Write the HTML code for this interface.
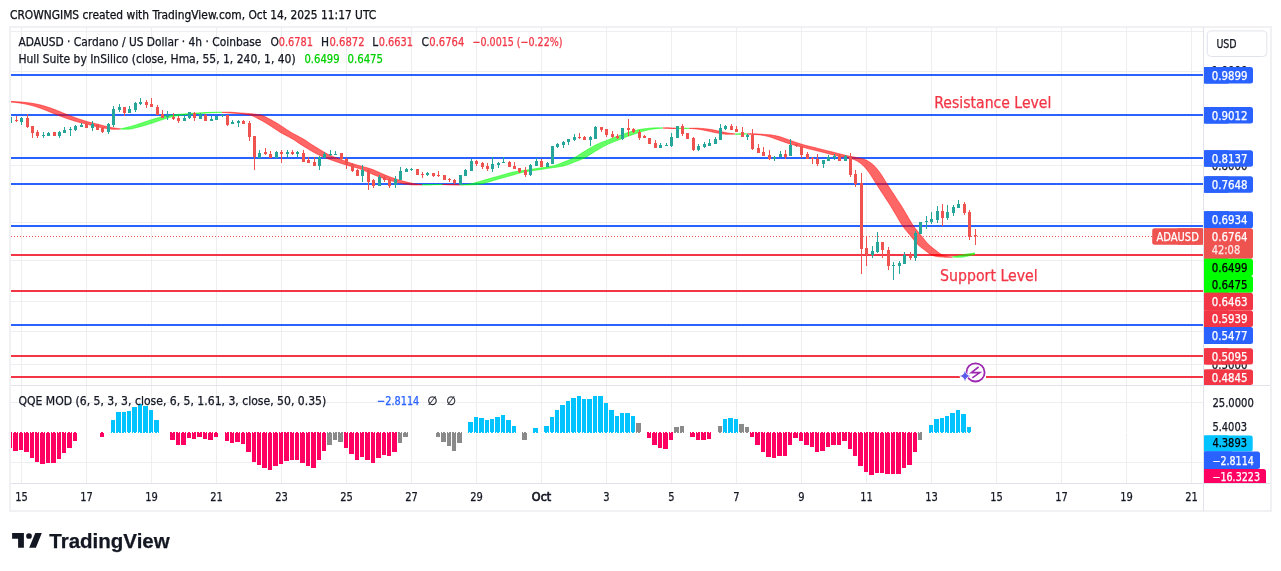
<!DOCTYPE html><html><head><meta charset="utf-8"><title>ADAUSD chart</title><style>
html,body{margin:0;padding:0;background:#fff;width:1281px;height:571px;overflow:hidden}
svg{display:block;will-change:transform}
text{font-family:"DejaVu Sans Condensed","DejaVu Sans","Liberation Sans",sans-serif;stroke:currentColor;stroke-width:0.25px}
</style></head><body>
<svg width="1281" height="571" viewBox="0 0 1281 571">
<rect width="1281" height="571" fill="#fff"/>
<text x="10" y="18.7" font-size="11.85" fill="#131722">CROWNGIMS created with TradingView.com, Oct 14, 2025 11:17 UTC</text>
<defs><clipPath id="main"><rect x="11" y="27" width="1192" height="358"/></clipPath><clipPath id="qqe"><rect x="11" y="386" width="1192" height="97"/></clipPath></defs>
<rect x="21" y="27" width="1" height="456" fill="#EEEEF1"/><rect x="86" y="27" width="1" height="456" fill="#EEEEF1"/><rect x="151" y="27" width="1" height="456" fill="#EEEEF1"/><rect x="216" y="27" width="1" height="456" fill="#EEEEF1"/><rect x="281" y="27" width="1" height="456" fill="#EEEEF1"/><rect x="346" y="27" width="1" height="456" fill="#EEEEF1"/><rect x="411" y="27" width="1" height="456" fill="#EEEEF1"/><rect x="476" y="27" width="1" height="456" fill="#EEEEF1"/><rect x="541" y="27" width="1" height="456" fill="#EEEEF1"/><rect x="606" y="27" width="1" height="456" fill="#EEEEF1"/><rect x="671" y="27" width="1" height="456" fill="#EEEEF1"/><rect x="736" y="27" width="1" height="456" fill="#EEEEF1"/><rect x="801" y="27" width="1" height="456" fill="#EEEEF1"/><rect x="866" y="27" width="1" height="456" fill="#EEEEF1"/><rect x="931" y="27" width="1" height="456" fill="#EEEEF1"/><rect x="996" y="27" width="1" height="456" fill="#EEEEF1"/><rect x="1061" y="27" width="1" height="456" fill="#EEEEF1"/><rect x="1126" y="27" width="1" height="456" fill="#EEEEF1"/><rect x="1191" y="27" width="1" height="456" fill="#EEEEF1"/><rect x="11" y="31" width="1192" height="1" fill="#EEEEF1"/><rect x="11" y="71" width="1192" height="1" fill="#EEEEF1"/><rect x="11" y="115" width="1192" height="1" fill="#EEEEF1"/><rect x="11" y="165" width="1192" height="1" fill="#EEEEF1"/><rect x="11" y="222" width="1192" height="1" fill="#EEEEF1"/><rect x="11" y="260" width="1192" height="1" fill="#EEEEF1"/><rect x="11" y="301" width="1192" height="1" fill="#EEEEF1"/><rect x="11" y="331" width="1192" height="1" fill="#EEEEF1"/><rect x="11" y="364" width="1192" height="1" fill="#EEEEF1"/><rect x="11" y="402" width="1192" height="1" fill="#EEEEF1"/><rect x="11" y="462" width="1192" height="1" fill="#EEEEF1"/>
<rect x="10" y="27" width="1261" height="484" fill="none" stroke="#F1F1F3" stroke-width="2"/>
<rect x="1203" y="27" width="1" height="484" fill="#E0E3EB"/>
<rect x="11" y="385" width="1259" height="1" fill="#E0E3EB"/>
<rect x="11" y="483" width="1259" height="1" fill="#E0E3EB"/>
<rect x="11" y="74" width="1192" height="2" fill="#2962FF"/><rect x="11" y="114" width="1192" height="2" fill="#2962FF"/><rect x="11" y="157" width="1192" height="2" fill="#2962FF"/><rect x="11" y="183" width="1192" height="2" fill="#2962FF"/><rect x="11" y="225" width="1192" height="2" fill="#2962FF"/><rect x="11" y="254" width="1192" height="2" fill="#F23645"/><rect x="11" y="290" width="1192" height="2" fill="#F23645"/><rect x="11" y="324" width="1192" height="2" fill="#2962FF"/><rect x="11" y="355" width="1192" height="2" fill="#F23645"/><rect x="11" y="376" width="949" height="2" fill="#F23645"/><rect x="986" y="376" width="217" height="2" fill="#F23645"/>
<g clip-path="url(#main)"><polygon points="10.0,102.00 10.5,102.04 11.0,102.08 11.5,102.13 12.0,102.17 12.5,102.21 13.0,102.26 13.5,102.31 14.0,102.35 14.5,102.41 15.0,102.46 15.5,102.51 16.0,102.57 16.5,102.63 17.0,102.69 17.5,102.75 18.0,102.82 18.5,102.89 19.0,102.96 19.5,103.03 20.0,103.10 20.5,103.18 21.0,103.25 21.5,103.33 22.0,103.41 22.5,103.49 23.0,103.58 23.5,103.67 24.0,103.76 24.5,103.85 25.0,103.95 25.5,104.04 26.0,104.14 26.5,104.25 27.0,104.36 27.5,104.47 28.0,104.58 28.5,104.70 29.0,104.82 29.5,104.94 30.0,105.06 30.5,105.19 31.0,105.32 31.5,105.45 32.0,105.59 32.5,105.73 33.0,105.87 33.5,106.01 34.0,106.16 34.5,106.31 35.0,106.46 35.5,106.61 36.0,106.76 36.5,106.92 37.0,107.08 37.5,107.25 38.0,107.41 38.5,107.58 39.0,107.76 39.5,107.93 40.0,108.11 40.5,108.29 41.0,108.47 41.5,108.65 42.0,108.84 42.5,109.02 43.0,109.21 43.5,109.40 44.0,109.59 44.5,109.78 45.0,109.97 45.5,110.17 46.0,110.36 46.5,110.57 47.0,110.77 47.5,110.97 48.0,111.18 48.5,111.39 49.0,111.59 49.5,111.80 50.0,112.01 50.5,112.22 51.0,112.42 51.5,112.63 52.0,112.84 52.5,113.04 53.0,113.24 53.5,113.44 54.0,113.64 54.5,113.84 55.0,114.05 55.5,114.25 56.0,114.45 56.5,114.65 57.0,114.85 57.5,115.05 58.0,115.25 58.5,115.45 59.0,115.64 59.5,115.84 60.0,116.03 60.5,116.22 61.0,116.41 61.5,116.60 62.0,116.79 62.5,116.97 63.0,117.15 63.5,117.33 64.0,117.51 64.5,117.69 65.0,117.87 65.5,118.05 66.0,118.22 66.5,118.39 67.0,118.56 67.5,118.74 68.0,118.90 68.5,119.07 69.0,119.24 69.5,119.40 70.0,119.57 70.5,119.73 71.0,119.89 71.5,120.05 72.0,120.21 72.5,120.37 73.0,120.53 73.5,120.68 74.0,120.83 74.5,120.99 75.0,121.14 75.5,121.29 76.0,121.43 76.5,121.58 77.0,121.72 77.5,121.87 78.0,122.01 78.5,122.14 79.0,122.28 79.5,122.41 80.0,122.54 80.5,122.67 81.0,122.79 81.5,122.92 82.0,123.04 82.5,123.16 83.0,123.27 83.5,123.39 84.0,123.51 84.5,123.63 85.0,123.74 85.5,123.86 86.0,123.98 86.5,124.10 87.0,124.23 87.5,124.35 88.0,124.48 88.5,124.61 89.0,124.74 89.5,124.87 90.0,125.00 90.5,125.13 91.0,125.27 91.5,125.40 92.0,125.53 92.5,125.66 93.0,125.79 93.5,125.92 94.0,126.05 94.5,126.17 95.0,126.29 95.5,126.41 96.0,126.52 96.5,126.63 97.0,126.74 97.5,126.85 98.0,126.96 98.5,127.06 99.0,127.16 99.5,127.26 100.0,127.36 100.5,127.46 101.0,127.55 101.5,127.65 102.0,127.74 102.5,127.84 103.0,127.93 103.5,128.02 104.0,128.11 104.5,128.20 105.0,128.29 105.5,128.37 106.0,128.45 106.5,128.53 107.0,128.61 107.5,128.68 108.0,128.75 108.5,128.82 109.0,128.88 109.5,128.94 110.0,129.00 110.5,129.06 111.0,129.11 111.5,129.16 112.0,129.20 112.5,129.23 113.0,129.26 113.5,129.28 114.0,129.30 114.5,129.31 115.0,129.31 115.5,129.31 116.0,129.31 116.5,129.29 117.0,129.27 117.5,129.24 118.0,129.20 118.5,129.16 119.0,129.12 119.5,129.07 120.0,128.99 120.5,128.90 120.5,128.96 120.0,128.90 119.5,128.84 119.0,128.77 118.5,128.71 118.0,128.63 117.5,128.56 117.0,128.48 116.5,128.40 116.0,128.32 115.5,128.23 115.0,128.14 114.5,128.05 114.0,127.96 113.5,127.87 113.0,127.78 112.5,127.68 112.0,127.59 111.5,127.49 111.0,127.39 110.5,127.30 110.0,127.20 109.5,127.09 109.0,126.99 108.5,126.89 108.0,126.78 107.5,126.67 107.0,126.56 106.5,126.45 106.0,126.33 105.5,126.21 105.0,126.09 104.5,125.96 104.0,125.83 103.5,125.71 103.0,125.58 102.5,125.44 102.0,125.31 101.5,125.18 101.0,125.05 100.5,124.91 100.0,124.78 99.5,124.65 99.0,124.52 98.5,124.39 98.0,124.27 97.5,124.14 97.0,124.02 96.5,123.90 96.0,123.78 95.5,123.67 95.0,123.55 94.5,123.43 94.0,123.31 93.5,123.20 93.0,123.08 92.5,122.96 92.0,122.84 91.5,122.71 91.0,122.59 90.5,122.46 90.0,122.33 89.5,122.19 89.0,122.05 88.5,121.91 88.0,121.77 87.5,121.63 87.0,121.48 86.5,121.34 86.0,121.19 85.5,121.04 85.0,120.89 84.5,120.73 84.0,120.58 83.5,120.42 83.0,120.26 82.5,120.11 82.0,119.95 81.5,119.78 81.0,119.62 80.5,119.46 80.0,119.29 79.5,119.13 79.0,118.96 78.5,118.79 78.0,118.62 77.5,118.45 77.0,118.28 76.5,118.10 76.0,117.93 75.5,117.75 75.0,117.57 74.5,117.39 74.0,117.21 73.5,117.03 73.0,116.85 72.5,116.66 72.0,116.48 71.5,116.29 71.0,116.10 70.5,115.90 70.0,115.71 69.5,115.51 69.0,115.32 68.5,115.12 68.0,114.92 67.5,114.72 67.0,114.52 66.5,114.32 66.0,114.11 65.5,113.91 65.0,113.71 64.5,113.51 64.0,113.31 63.5,113.11 63.0,112.90 62.5,112.70 62.0,112.49 61.5,112.29 61.0,112.08 60.5,111.87 60.0,111.66 59.5,111.46 59.0,111.25 58.5,111.04 58.0,110.84 57.5,110.63 57.0,110.43 56.5,110.23 56.0,110.04 55.5,109.84 55.0,109.65 54.5,109.46 54.0,109.27 53.5,109.08 53.0,108.90 52.5,108.71 52.0,108.53 51.5,108.35 51.0,108.17 50.5,107.99 50.0,107.81 49.5,107.64 49.0,107.47 48.5,107.30 48.0,107.14 47.5,106.97 47.0,106.82 46.5,106.66 46.0,106.51 45.5,106.36 45.0,106.21 44.5,106.06 44.0,105.92 43.5,105.78 43.0,105.64 42.5,105.50 42.0,105.37 41.5,105.24 41.0,105.11 40.5,104.98 40.0,104.86 39.5,104.74 39.0,104.62 38.5,104.51 38.0,104.39 37.5,104.28 37.0,104.18 36.5,104.08 36.0,103.98 35.5,103.88 35.0,103.79 34.5,103.70 34.0,103.61 33.5,103.52 33.0,103.44 32.5,103.36 32.0,103.28 31.5,103.20 31.0,103.13 30.5,103.05 30.0,102.98 29.5,102.91 29.0,102.84 28.5,102.77 28.0,102.71 27.5,102.65 27.0,102.59 26.5,102.53 26.0,102.48 25.5,102.42 25.0,102.37 24.5,102.32 24.0,102.27 23.5,102.23 23.0,102.18 22.5,102.14 22.0,102.10 21.5,102.06 21.0,102.01 20.5,101.97 20.0,101.94 19.5,101.90 19.0,101.86 18.5,101.83 18.0,101.80 17.5,101.76 17.0,101.73 16.5,101.70 16.0,101.67 15.5,101.64 15.0,101.61 14.5,101.58 14.0,101.55 13.5,101.52 13.0,101.49 12.5,101.46 12.0,101.43 11.5,101.40 11.0,101.37 10.5,101.34 10.0,101.31" fill="rgba(255,0,0,0.6)"/><polyline points="10.0,102.00 10.5,102.04 11.0,102.08 11.5,102.13 12.0,102.17 12.5,102.21 13.0,102.26 13.5,102.31 14.0,102.35 14.5,102.41 15.0,102.46 15.5,102.51 16.0,102.57 16.5,102.63 17.0,102.69 17.5,102.75 18.0,102.82 18.5,102.89 19.0,102.96 19.5,103.03 20.0,103.10 20.5,103.18 21.0,103.25 21.5,103.33 22.0,103.41 22.5,103.49 23.0,103.58 23.5,103.67 24.0,103.76 24.5,103.85 25.0,103.95 25.5,104.04 26.0,104.14 26.5,104.25 27.0,104.36 27.5,104.47 28.0,104.58 28.5,104.70 29.0,104.82 29.5,104.94 30.0,105.06 30.5,105.19 31.0,105.32 31.5,105.45 32.0,105.59 32.5,105.73 33.0,105.87 33.5,106.01 34.0,106.16 34.5,106.31 35.0,106.46 35.5,106.61 36.0,106.76 36.5,106.92 37.0,107.08 37.5,107.25 38.0,107.41 38.5,107.58 39.0,107.76 39.5,107.93 40.0,108.11 40.5,108.29 41.0,108.47 41.5,108.65 42.0,108.84 42.5,109.02 43.0,109.21 43.5,109.40 44.0,109.59 44.5,109.78 45.0,109.97 45.5,110.17 46.0,110.36 46.5,110.57 47.0,110.77 47.5,110.97 48.0,111.18 48.5,111.39 49.0,111.59 49.5,111.80 50.0,112.01 50.5,112.22 51.0,112.42 51.5,112.63 52.0,112.84 52.5,113.04 53.0,113.24 53.5,113.44 54.0,113.64 54.5,113.84 55.0,114.05 55.5,114.25 56.0,114.45 56.5,114.65 57.0,114.85 57.5,115.05 58.0,115.25 58.5,115.45 59.0,115.64 59.5,115.84 60.0,116.03 60.5,116.22 61.0,116.41 61.5,116.60 62.0,116.79 62.5,116.97 63.0,117.15 63.5,117.33 64.0,117.51 64.5,117.69 65.0,117.87 65.5,118.05 66.0,118.22 66.5,118.39 67.0,118.56 67.5,118.74 68.0,118.90 68.5,119.07 69.0,119.24 69.5,119.40 70.0,119.57 70.5,119.73 71.0,119.89 71.5,120.05 72.0,120.21 72.5,120.37 73.0,120.53 73.5,120.68 74.0,120.83 74.5,120.99 75.0,121.14 75.5,121.29 76.0,121.43 76.5,121.58 77.0,121.72 77.5,121.87 78.0,122.01 78.5,122.14 79.0,122.28 79.5,122.41 80.0,122.54 80.5,122.67 81.0,122.79 81.5,122.92 82.0,123.04 82.5,123.16 83.0,123.27 83.5,123.39 84.0,123.51 84.5,123.63 85.0,123.74 85.5,123.86 86.0,123.98 86.5,124.10 87.0,124.23 87.5,124.35 88.0,124.48 88.5,124.61 89.0,124.74 89.5,124.87 90.0,125.00 90.5,125.13 91.0,125.27 91.5,125.40 92.0,125.53 92.5,125.66 93.0,125.79 93.5,125.92 94.0,126.05 94.5,126.17 95.0,126.29 95.5,126.41 96.0,126.52 96.5,126.63 97.0,126.74 97.5,126.85 98.0,126.96 98.5,127.06 99.0,127.16 99.5,127.26 100.0,127.36 100.5,127.46 101.0,127.55 101.5,127.65 102.0,127.74 102.5,127.84 103.0,127.93 103.5,128.02 104.0,128.11 104.5,128.20 105.0,128.29 105.5,128.37 106.0,128.45 106.5,128.53 107.0,128.61 107.5,128.68 108.0,128.75 108.5,128.82 109.0,128.88 109.5,128.94 110.0,129.00 110.5,129.06 111.0,129.11 111.5,129.16 112.0,129.20 112.5,129.23 113.0,129.26 113.5,129.28 114.0,129.30 114.5,129.31 115.0,129.31 115.5,129.31 116.0,129.31 116.5,129.29 117.0,129.27 117.5,129.24 118.0,129.20 118.5,129.16 119.0,129.12 119.5,129.07 120.0,128.99 120.5,128.90" fill="none" stroke="rgba(255,0,0,0.5)" stroke-width="1"/><polyline points="10.0,101.31 10.5,101.34 11.0,101.37 11.5,101.40 12.0,101.43 12.5,101.46 13.0,101.49 13.5,101.52 14.0,101.55 14.5,101.58 15.0,101.61 15.5,101.64 16.0,101.67 16.5,101.70 17.0,101.73 17.5,101.76 18.0,101.80 18.5,101.83 19.0,101.86 19.5,101.90 20.0,101.94 20.5,101.97 21.0,102.01 21.5,102.06 22.0,102.10 22.5,102.14 23.0,102.18 23.5,102.23 24.0,102.27 24.5,102.32 25.0,102.37 25.5,102.42 26.0,102.48 26.5,102.53 27.0,102.59 27.5,102.65 28.0,102.71 28.5,102.77 29.0,102.84 29.5,102.91 30.0,102.98 30.5,103.05 31.0,103.13 31.5,103.20 32.0,103.28 32.5,103.36 33.0,103.44 33.5,103.52 34.0,103.61 34.5,103.70 35.0,103.79 35.5,103.88 36.0,103.98 36.5,104.08 37.0,104.18 37.5,104.28 38.0,104.39 38.5,104.51 39.0,104.62 39.5,104.74 40.0,104.86 40.5,104.98 41.0,105.11 41.5,105.24 42.0,105.37 42.5,105.50 43.0,105.64 43.5,105.78 44.0,105.92 44.5,106.06 45.0,106.21 45.5,106.36 46.0,106.51 46.5,106.66 47.0,106.82 47.5,106.97 48.0,107.14 48.5,107.30 49.0,107.47 49.5,107.64 50.0,107.81 50.5,107.99 51.0,108.17 51.5,108.35 52.0,108.53 52.5,108.71 53.0,108.90 53.5,109.08 54.0,109.27 54.5,109.46 55.0,109.65 55.5,109.84 56.0,110.04 56.5,110.23 57.0,110.43 57.5,110.63 58.0,110.84 58.5,111.04 59.0,111.25 59.5,111.46 60.0,111.66 60.5,111.87 61.0,112.08 61.5,112.29 62.0,112.49 62.5,112.70 63.0,112.90 63.5,113.11 64.0,113.31 64.5,113.51 65.0,113.71 65.5,113.91 66.0,114.11 66.5,114.32 67.0,114.52 67.5,114.72 68.0,114.92 68.5,115.12 69.0,115.32 69.5,115.51 70.0,115.71 70.5,115.90 71.0,116.10 71.5,116.29 72.0,116.48 72.5,116.66 73.0,116.85 73.5,117.03 74.0,117.21 74.5,117.39 75.0,117.57 75.5,117.75 76.0,117.93 76.5,118.10 77.0,118.28 77.5,118.45 78.0,118.62 78.5,118.79 79.0,118.96 79.5,119.13 80.0,119.29 80.5,119.46 81.0,119.62 81.5,119.78 82.0,119.95 82.5,120.11 83.0,120.26 83.5,120.42 84.0,120.58 84.5,120.73 85.0,120.89 85.5,121.04 86.0,121.19 86.5,121.34 87.0,121.48 87.5,121.63 88.0,121.77 88.5,121.91 89.0,122.05 89.5,122.19 90.0,122.33 90.5,122.46 91.0,122.59 91.5,122.71 92.0,122.84 92.5,122.96 93.0,123.08 93.5,123.20 94.0,123.31 94.5,123.43 95.0,123.55 95.5,123.67 96.0,123.78 96.5,123.90 97.0,124.02 97.5,124.14 98.0,124.27 98.5,124.39 99.0,124.52 99.5,124.65 100.0,124.78 100.5,124.91 101.0,125.05 101.5,125.18 102.0,125.31 102.5,125.44 103.0,125.58 103.5,125.71 104.0,125.83 104.5,125.96 105.0,126.09 105.5,126.21 106.0,126.33 106.5,126.45 107.0,126.56 107.5,126.67 108.0,126.78 108.5,126.89 109.0,126.99 109.5,127.09 110.0,127.20 110.5,127.30 111.0,127.39 111.5,127.49 112.0,127.59 112.5,127.68 113.0,127.78 113.5,127.87 114.0,127.96 114.5,128.05 115.0,128.14 115.5,128.23 116.0,128.32 116.5,128.40 117.0,128.48 117.5,128.56 118.0,128.63 118.5,128.71 119.0,128.77 119.5,128.84 120.0,128.90 120.5,128.96" fill="none" stroke="rgba(255,0,0,0.5)" stroke-width="1"/><polygon points="120.5,128.90 121.0,128.80 121.5,128.69 122.0,128.58 122.5,128.46 123.0,128.34 123.5,128.22 124.0,128.10 124.5,127.98 125.0,127.86 125.5,127.74 126.0,127.61 126.5,127.49 127.0,127.36 127.5,127.23 128.0,127.10 128.5,126.97 129.0,126.84 129.5,126.71 130.0,126.58 130.5,126.44 131.0,126.31 131.5,126.17 132.0,126.03 132.5,125.89 133.0,125.74 133.5,125.59 134.0,125.45 134.5,125.29 135.0,125.14 135.5,124.98 136.0,124.83 136.5,124.67 137.0,124.51 137.5,124.34 138.0,124.18 138.5,124.02 139.0,123.85 139.5,123.69 140.0,123.52 140.5,123.36 141.0,123.19 141.5,123.02 142.0,122.86 142.5,122.69 143.0,122.53 143.5,122.37 144.0,122.20 144.5,122.04 145.0,121.87 145.5,121.70 146.0,121.53 146.5,121.36 147.0,121.19 147.5,121.02 148.0,120.85 148.5,120.68 149.0,120.51 149.5,120.34 150.0,120.17 150.5,120.00 151.0,119.83 151.5,119.67 152.0,119.50 152.5,119.34 153.0,119.19 153.5,119.03 154.0,118.88 154.5,118.73 155.0,118.58 155.5,118.44 156.0,118.29 156.5,118.15 157.0,118.01 157.5,117.87 158.0,117.73 158.5,117.59 159.0,117.45 159.5,117.32 160.0,117.18 160.5,117.05 161.0,116.92 161.5,116.80 162.0,116.68 162.5,116.56 163.0,116.44 163.5,116.33 164.0,116.22 164.5,116.12 165.0,116.02 165.5,115.92 166.0,115.83 166.5,115.74 167.0,115.66 167.5,115.58 168.0,115.51 168.5,115.44 169.0,115.37 169.5,115.31 170.0,115.25 170.5,115.19 171.0,115.14 171.5,115.08 172.0,115.03 172.5,114.98 173.0,114.94 173.5,114.89 174.0,114.84 174.5,114.79 175.0,114.75 175.5,114.70 176.0,114.65 176.5,114.60 177.0,114.55 177.5,114.50 178.0,114.45 178.5,114.41 179.0,114.36 179.5,114.32 180.0,114.28 180.5,114.24 181.0,114.19 181.5,114.15 182.0,114.11 182.5,114.08 183.0,114.04 183.5,114.00 184.0,113.96 184.5,113.92 185.0,113.88 185.5,113.85 186.0,113.81 186.5,113.77 187.0,113.73 187.5,113.69 188.0,113.65 188.5,113.61 189.0,113.58 189.5,113.54 190.0,113.50 190.5,113.46 191.0,113.42 191.5,113.38 192.0,113.34 192.5,113.31 193.0,113.27 193.5,113.23 194.0,113.19 194.5,113.16 195.0,113.12 195.5,113.09 196.0,113.05 196.5,113.02 197.0,112.99 197.5,112.96 198.0,112.92 198.5,112.89 199.0,112.87 199.5,112.84 200.0,112.81 200.5,112.78 201.0,112.76 201.5,112.73 202.0,112.71 202.5,112.69 203.0,112.66 203.5,112.64 204.0,112.62 204.5,112.60 205.0,112.57 205.5,112.55 206.0,112.53 206.5,112.51 207.0,112.49 207.5,112.47 208.0,112.45 208.5,112.43 209.0,112.41 209.5,112.39 210.0,112.37 210.5,112.35 211.0,112.33 211.5,112.31 212.0,112.30 212.5,112.28 213.0,112.26 213.5,112.25 214.0,112.23 214.5,112.22 215.0,112.21 215.5,112.21 216.0,112.20 216.5,112.20 217.0,112.19 217.5,112.19 218.0,112.19 218.5,112.20 219.0,112.21 219.5,112.23 220.0,112.25 220.5,112.27 221.0,112.30 221.5,112.33 222.0,112.36 222.0,112.33 221.5,112.35 221.0,112.37 220.5,112.39 220.0,112.41 219.5,112.43 219.0,112.44 218.5,112.46 218.0,112.48 217.5,112.51 217.0,112.53 216.5,112.55 216.0,112.57 215.5,112.59 215.0,112.61 214.5,112.63 214.0,112.65 213.5,112.68 213.0,112.70 212.5,112.73 212.0,112.75 211.5,112.78 211.0,112.80 210.5,112.83 210.0,112.86 209.5,112.88 209.0,112.91 208.5,112.94 208.0,112.98 207.5,113.01 207.0,113.04 206.5,113.08 206.0,113.11 205.5,113.15 205.0,113.18 204.5,113.22 204.0,113.25 203.5,113.29 203.0,113.33 202.5,113.37 202.0,113.41 201.5,113.45 201.0,113.48 200.5,113.52 200.0,113.56 199.5,113.60 199.0,113.64 198.5,113.68 198.0,113.72 197.5,113.76 197.0,113.79 196.5,113.83 196.0,113.87 195.5,113.91 195.0,113.95 194.5,113.98 194.0,114.02 193.5,114.06 193.0,114.10 192.5,114.14 192.0,114.18 191.5,114.22 191.0,114.26 190.5,114.31 190.0,114.35 189.5,114.39 189.0,114.44 188.5,114.49 188.0,114.53 187.5,114.58 187.0,114.63 186.5,114.68 186.0,114.73 185.5,114.78 185.0,114.82 184.5,114.87 184.0,114.92 183.5,114.97 183.0,115.02 182.5,115.07 182.0,115.12 181.5,115.17 181.0,115.23 180.5,115.29 180.0,115.35 179.5,115.41 179.0,115.48 178.5,115.55 178.0,115.63 177.5,115.71 177.0,115.80 176.5,115.89 176.0,115.98 175.5,116.08 175.0,116.19 174.5,116.29 174.0,116.40 173.5,116.52 173.0,116.64 172.5,116.76 172.0,116.88 171.5,117.01 171.0,117.14 170.5,117.27 170.0,117.40 169.5,117.54 169.0,117.68 168.5,117.82 168.0,117.96 167.5,118.10 167.0,118.24 166.5,118.39 166.0,118.53 165.5,118.68 165.0,118.83 164.5,118.98 164.0,119.13 163.5,119.29 163.0,119.45 162.5,119.61 162.0,119.77 161.5,119.94 161.0,120.11 160.5,120.28 160.0,120.45 159.5,120.62 159.0,120.79 158.5,120.96 158.0,121.13 157.5,121.30 157.0,121.47 156.5,121.64 156.0,121.81 155.5,121.98 155.0,122.15 154.5,122.31 154.0,122.47 153.5,122.64 153.0,122.80 152.5,122.97 152.0,123.13 151.5,123.30 151.0,123.47 150.5,123.63 150.0,123.80 149.5,123.96 149.0,124.13 148.5,124.29 148.0,124.45 147.5,124.61 147.0,124.77 146.5,124.93 146.0,125.09 145.5,125.24 145.0,125.39 144.5,125.54 144.0,125.69 143.5,125.84 143.0,125.98 142.5,126.12 142.0,126.26 141.5,126.40 141.0,126.53 140.5,126.66 140.0,126.80 139.5,126.93 139.0,127.06 138.5,127.19 138.0,127.32 137.5,127.44 137.0,127.57 136.5,127.69 136.0,127.82 135.5,127.94 135.0,128.06 134.5,128.18 134.0,128.30 133.5,128.42 133.0,128.54 132.5,128.65 132.0,128.76 131.5,128.87 131.0,128.96 130.5,129.05 130.0,129.11 129.5,129.15 129.0,129.19 128.5,129.23 128.0,129.26 127.5,129.28 127.0,129.30 126.5,129.31 126.0,129.31 125.5,129.31 125.0,129.30 124.5,129.29 124.0,129.27 123.5,129.24 123.0,129.21 122.5,129.17 122.0,129.13 121.5,129.07 121.0,129.02 120.5,128.96" fill="rgba(0,255,0,0.6)"/><polyline points="120.5,128.90 121.0,128.80 121.5,128.69 122.0,128.58 122.5,128.46 123.0,128.34 123.5,128.22 124.0,128.10 124.5,127.98 125.0,127.86 125.5,127.74 126.0,127.61 126.5,127.49 127.0,127.36 127.5,127.23 128.0,127.10 128.5,126.97 129.0,126.84 129.5,126.71 130.0,126.58 130.5,126.44 131.0,126.31 131.5,126.17 132.0,126.03 132.5,125.89 133.0,125.74 133.5,125.59 134.0,125.45 134.5,125.29 135.0,125.14 135.5,124.98 136.0,124.83 136.5,124.67 137.0,124.51 137.5,124.34 138.0,124.18 138.5,124.02 139.0,123.85 139.5,123.69 140.0,123.52 140.5,123.36 141.0,123.19 141.5,123.02 142.0,122.86 142.5,122.69 143.0,122.53 143.5,122.37 144.0,122.20 144.5,122.04 145.0,121.87 145.5,121.70 146.0,121.53 146.5,121.36 147.0,121.19 147.5,121.02 148.0,120.85 148.5,120.68 149.0,120.51 149.5,120.34 150.0,120.17 150.5,120.00 151.0,119.83 151.5,119.67 152.0,119.50 152.5,119.34 153.0,119.19 153.5,119.03 154.0,118.88 154.5,118.73 155.0,118.58 155.5,118.44 156.0,118.29 156.5,118.15 157.0,118.01 157.5,117.87 158.0,117.73 158.5,117.59 159.0,117.45 159.5,117.32 160.0,117.18 160.5,117.05 161.0,116.92 161.5,116.80 162.0,116.68 162.5,116.56 163.0,116.44 163.5,116.33 164.0,116.22 164.5,116.12 165.0,116.02 165.5,115.92 166.0,115.83 166.5,115.74 167.0,115.66 167.5,115.58 168.0,115.51 168.5,115.44 169.0,115.37 169.5,115.31 170.0,115.25 170.5,115.19 171.0,115.14 171.5,115.08 172.0,115.03 172.5,114.98 173.0,114.94 173.5,114.89 174.0,114.84 174.5,114.79 175.0,114.75 175.5,114.70 176.0,114.65 176.5,114.60 177.0,114.55 177.5,114.50 178.0,114.45 178.5,114.41 179.0,114.36 179.5,114.32 180.0,114.28 180.5,114.24 181.0,114.19 181.5,114.15 182.0,114.11 182.5,114.08 183.0,114.04 183.5,114.00 184.0,113.96 184.5,113.92 185.0,113.88 185.5,113.85 186.0,113.81 186.5,113.77 187.0,113.73 187.5,113.69 188.0,113.65 188.5,113.61 189.0,113.58 189.5,113.54 190.0,113.50 190.5,113.46 191.0,113.42 191.5,113.38 192.0,113.34 192.5,113.31 193.0,113.27 193.5,113.23 194.0,113.19 194.5,113.16 195.0,113.12 195.5,113.09 196.0,113.05 196.5,113.02 197.0,112.99 197.5,112.96 198.0,112.92 198.5,112.89 199.0,112.87 199.5,112.84 200.0,112.81 200.5,112.78 201.0,112.76 201.5,112.73 202.0,112.71 202.5,112.69 203.0,112.66 203.5,112.64 204.0,112.62 204.5,112.60 205.0,112.57 205.5,112.55 206.0,112.53 206.5,112.51 207.0,112.49 207.5,112.47 208.0,112.45 208.5,112.43 209.0,112.41 209.5,112.39 210.0,112.37 210.5,112.35 211.0,112.33 211.5,112.31 212.0,112.30 212.5,112.28 213.0,112.26 213.5,112.25 214.0,112.23 214.5,112.22 215.0,112.21 215.5,112.21 216.0,112.20 216.5,112.20 217.0,112.19 217.5,112.19 218.0,112.19 218.5,112.20 219.0,112.21 219.5,112.23 220.0,112.25 220.5,112.27 221.0,112.30 221.5,112.33 222.0,112.36" fill="none" stroke="rgba(0,255,0,0.5)" stroke-width="1"/><polyline points="120.5,128.96 121.0,129.02 121.5,129.07 122.0,129.13 122.5,129.17 123.0,129.21 123.5,129.24 124.0,129.27 124.5,129.29 125.0,129.30 125.5,129.31 126.0,129.31 126.5,129.31 127.0,129.30 127.5,129.28 128.0,129.26 128.5,129.23 129.0,129.19 129.5,129.15 130.0,129.11 130.5,129.05 131.0,128.96 131.5,128.87 132.0,128.76 132.5,128.65 133.0,128.54 133.5,128.42 134.0,128.30 134.5,128.18 135.0,128.06 135.5,127.94 136.0,127.82 136.5,127.69 137.0,127.57 137.5,127.44 138.0,127.32 138.5,127.19 139.0,127.06 139.5,126.93 140.0,126.80 140.5,126.66 141.0,126.53 141.5,126.40 142.0,126.26 142.5,126.12 143.0,125.98 143.5,125.84 144.0,125.69 144.5,125.54 145.0,125.39 145.5,125.24 146.0,125.09 146.5,124.93 147.0,124.77 147.5,124.61 148.0,124.45 148.5,124.29 149.0,124.13 149.5,123.96 150.0,123.80 150.5,123.63 151.0,123.47 151.5,123.30 152.0,123.13 152.5,122.97 153.0,122.80 153.5,122.64 154.0,122.47 154.5,122.31 155.0,122.15 155.5,121.98 156.0,121.81 156.5,121.64 157.0,121.47 157.5,121.30 158.0,121.13 158.5,120.96 159.0,120.79 159.5,120.62 160.0,120.45 160.5,120.28 161.0,120.11 161.5,119.94 162.0,119.77 162.5,119.61 163.0,119.45 163.5,119.29 164.0,119.13 164.5,118.98 165.0,118.83 165.5,118.68 166.0,118.53 166.5,118.39 167.0,118.24 167.5,118.10 168.0,117.96 168.5,117.82 169.0,117.68 169.5,117.54 170.0,117.40 170.5,117.27 171.0,117.14 171.5,117.01 172.0,116.88 172.5,116.76 173.0,116.64 173.5,116.52 174.0,116.40 174.5,116.29 175.0,116.19 175.5,116.08 176.0,115.98 176.5,115.89 177.0,115.80 177.5,115.71 178.0,115.63 178.5,115.55 179.0,115.48 179.5,115.41 180.0,115.35 180.5,115.29 181.0,115.23 181.5,115.17 182.0,115.12 182.5,115.07 183.0,115.02 183.5,114.97 184.0,114.92 184.5,114.87 185.0,114.82 185.5,114.78 186.0,114.73 186.5,114.68 187.0,114.63 187.5,114.58 188.0,114.53 188.5,114.49 189.0,114.44 189.5,114.39 190.0,114.35 190.5,114.31 191.0,114.26 191.5,114.22 192.0,114.18 192.5,114.14 193.0,114.10 193.5,114.06 194.0,114.02 194.5,113.98 195.0,113.95 195.5,113.91 196.0,113.87 196.5,113.83 197.0,113.79 197.5,113.76 198.0,113.72 198.5,113.68 199.0,113.64 199.5,113.60 200.0,113.56 200.5,113.52 201.0,113.48 201.5,113.45 202.0,113.41 202.5,113.37 203.0,113.33 203.5,113.29 204.0,113.25 204.5,113.22 205.0,113.18 205.5,113.15 206.0,113.11 206.5,113.08 207.0,113.04 207.5,113.01 208.0,112.98 208.5,112.94 209.0,112.91 209.5,112.88 210.0,112.86 210.5,112.83 211.0,112.80 211.5,112.78 212.0,112.75 212.5,112.73 213.0,112.70 213.5,112.68 214.0,112.65 214.5,112.63 215.0,112.61 215.5,112.59 216.0,112.57 216.5,112.55 217.0,112.53 217.5,112.51 218.0,112.48 218.5,112.46 219.0,112.44 219.5,112.43 220.0,112.41 220.5,112.39 221.0,112.37 221.5,112.35 222.0,112.33" fill="none" stroke="rgba(0,255,0,0.5)" stroke-width="1"/><polygon points="222.0,112.36 222.5,112.40 223.0,112.44 223.5,112.48 224.0,112.52 224.5,112.56 225.0,112.60 225.5,112.64 226.0,112.68 226.5,112.72 227.0,112.76 227.5,112.80 228.0,112.84 228.5,112.88 229.0,112.92 229.5,112.96 230.0,113.00 230.5,113.04 231.0,113.07 231.5,113.11 232.0,113.14 232.5,113.17 233.0,113.21 233.5,113.24 234.0,113.27 234.5,113.31 235.0,113.34 235.5,113.37 236.0,113.41 236.5,113.44 237.0,113.47 237.5,113.51 238.0,113.54 238.5,113.58 239.0,113.62 239.5,113.66 240.0,113.70 240.5,113.74 241.0,113.79 241.5,113.83 242.0,113.88 242.5,113.94 243.0,114.00 243.5,114.06 244.0,114.14 244.5,114.22 245.0,114.30 245.5,114.38 246.0,114.46 246.5,114.53 247.0,114.60 247.5,114.68 248.0,114.76 248.5,114.84 249.0,114.93 249.5,115.03 250.0,115.14 250.5,115.26 251.0,115.39 251.5,115.53 252.0,115.70 252.5,115.88 253.0,116.09 253.5,116.30 254.0,116.54 254.5,116.78 255.0,117.03 255.5,117.29 256.0,117.56 256.5,117.83 257.0,118.11 257.5,118.39 258.0,118.66 258.5,118.93 259.0,119.20 259.5,119.46 260.0,119.73 260.5,120.00 261.0,120.27 261.5,120.54 262.0,120.81 262.5,121.09 263.0,121.37 263.5,121.65 264.0,121.93 264.5,122.22 265.0,122.51 265.5,122.80 266.0,123.10 266.5,123.40 267.0,123.71 267.5,124.02 268.0,124.34 268.5,124.66 269.0,124.98 269.5,125.31 270.0,125.63 270.5,125.96 271.0,126.29 271.5,126.62 272.0,126.95 272.5,127.27 273.0,127.60 273.5,127.93 274.0,128.26 274.5,128.59 275.0,128.93 275.5,129.27 276.0,129.61 276.5,129.94 277.0,130.28 277.5,130.61 278.0,130.94 278.5,131.27 279.0,131.58 279.5,131.90 280.0,132.20 280.5,132.50 281.0,132.78 281.5,133.07 282.0,133.34 282.5,133.61 283.0,133.88 283.5,134.14 284.0,134.41 284.5,134.67 285.0,134.93 285.5,135.19 286.0,135.46 286.5,135.73 287.0,136.00 287.5,136.27 288.0,136.55 288.5,136.82 289.0,137.09 289.5,137.36 290.0,137.63 290.5,137.90 291.0,138.17 291.5,138.45 292.0,138.73 292.5,139.01 293.0,139.30 293.5,139.60 294.0,139.90 294.5,140.21 295.0,140.54 295.5,140.87 296.0,141.22 296.5,141.57 297.0,141.93 297.5,142.28 298.0,142.64 298.5,142.99 299.0,143.33 299.5,143.67 300.0,144.00 300.5,144.32 301.0,144.64 301.5,144.95 302.0,145.26 302.5,145.57 303.0,145.88 303.5,146.18 304.0,146.49 304.5,146.79 305.0,147.09 305.5,147.39 306.0,147.69 306.5,148.00 307.0,148.30 307.5,148.60 308.0,148.91 308.5,149.22 309.0,149.53 309.5,149.84 310.0,150.14 310.5,150.45 311.0,150.75 311.5,151.06 312.0,151.35 312.5,151.65 313.0,151.94 313.5,152.22 314.0,152.50 314.5,152.77 315.0,153.04 315.5,153.31 316.0,153.57 316.5,153.83 317.0,154.09 317.5,154.34 318.0,154.59 318.5,154.83 319.0,155.07 319.5,155.31 320.0,155.54 320.5,155.77 321.0,156.00 321.5,156.22 322.0,156.44 322.5,156.65 323.0,156.86 323.5,157.06 324.0,157.26 324.5,157.46 325.0,157.66 325.5,157.85 326.0,158.04 326.5,158.23 327.0,158.42 327.5,158.61 328.0,158.80 328.5,158.99 329.0,159.17 329.5,159.36 330.0,159.54 330.5,159.72 331.0,159.90 331.5,160.07 332.0,160.25 332.5,160.43 333.0,160.60 333.5,160.78 334.0,160.95 334.5,161.13 335.0,161.30 335.5,161.48 336.0,161.65 336.5,161.83 337.0,162.00 337.5,162.18 338.0,162.35 338.5,162.53 339.0,162.70 339.5,162.87 340.0,163.04 340.5,163.21 341.0,163.37 341.5,163.54 342.0,163.70 342.5,163.86 343.0,164.02 343.5,164.17 344.0,164.33 344.5,164.48 345.0,164.63 345.5,164.78 346.0,164.93 346.5,165.08 347.0,165.22 347.5,165.37 348.0,165.51 348.5,165.66 349.0,165.80 349.5,165.94 350.0,166.08 350.5,166.21 351.0,166.34 351.5,166.47 352.0,166.60 352.5,166.73 353.0,166.86 353.5,166.99 354.0,167.12 354.5,167.26 355.0,167.40 355.5,167.54 356.0,167.68 356.5,167.82 357.0,167.96 357.5,168.10 358.0,168.24 358.5,168.38 359.0,168.53 359.5,168.69 360.0,168.85 360.5,169.02 361.0,169.20 361.5,169.39 362.0,169.59 362.5,169.79 363.0,170.01 363.5,170.23 364.0,170.45 364.5,170.67 365.0,170.90 365.5,171.13 366.0,171.36 366.5,171.58 367.0,171.80 367.5,172.02 368.0,172.24 368.5,172.46 369.0,172.68 369.5,172.90 370.0,173.13 370.5,173.35 371.0,173.57 371.5,173.79 372.0,174.00 372.5,174.22 373.0,174.43 373.5,174.64 374.0,174.85 374.5,175.05 375.0,175.26 375.5,175.46 376.0,175.66 376.5,175.85 377.0,176.05 377.5,176.24 378.0,176.43 378.5,176.62 379.0,176.81 379.5,177.00 380.0,177.19 380.5,177.37 381.0,177.56 381.5,177.74 382.0,177.92 382.5,178.10 383.0,178.28 383.5,178.46 384.0,178.63 384.5,178.80 385.0,178.97 385.5,179.13 386.0,179.30 386.5,179.46 387.0,179.61 387.5,179.77 388.0,179.92 388.5,180.07 389.0,180.21 389.5,180.36 390.0,180.50 390.5,180.64 391.0,180.78 391.5,180.92 392.0,181.05 392.5,181.19 393.0,181.32 393.5,181.45 394.0,181.57 394.5,181.70 395.0,181.82 395.5,181.94 396.0,182.06 396.5,182.18 397.0,182.29 397.5,182.41 398.0,182.52 398.5,182.64 399.0,182.75 399.5,182.87 400.0,182.98 400.5,183.09 401.0,183.20 401.5,183.31 402.0,183.41 402.5,183.51 403.0,183.61 403.5,183.71 404.0,183.80 404.5,183.89 405.0,183.97 405.5,184.05 406.0,184.13 406.5,184.21 407.0,184.28 407.5,184.36 408.0,184.42 408.5,184.49 409.0,184.56 409.5,184.62 410.0,184.68 410.5,184.73 411.0,184.78 411.5,184.82 412.0,184.85 412.5,184.87 413.0,184.88 413.5,184.89 414.0,184.90 414.5,184.91 415.0,184.92 415.5,184.92 416.0,184.92 416.5,184.92 417.0,184.92 417.5,184.91 418.0,184.90 418.5,184.89 419.0,184.87 419.5,184.85 420.0,184.83 420.5,184.81 421.0,184.78 421.5,184.77 422.0,184.75 422.0,184.79 421.5,184.75 421.0,184.70 420.5,184.64 420.0,184.58 419.5,184.51 419.0,184.45 418.5,184.38 418.0,184.31 417.5,184.23 417.0,184.16 416.5,184.08 416.0,184.00 415.5,183.92 415.0,183.83 414.5,183.74 414.0,183.65 413.5,183.55 413.0,183.45 412.5,183.34 412.0,183.24 411.5,183.13 411.0,183.02 410.5,182.90 410.0,182.79 409.5,182.68 409.0,182.56 408.5,182.45 408.0,182.33 407.5,182.22 407.0,182.10 406.5,181.98 406.0,181.86 405.5,181.74 405.0,181.61 404.5,181.49 404.0,181.36 403.5,181.23 403.0,181.10 402.5,180.96 402.0,180.83 401.5,180.69 401.0,180.55 400.5,180.41 400.0,180.26 399.5,180.12 399.0,179.97 398.5,179.82 398.0,179.67 397.5,179.51 397.0,179.35 396.5,179.19 396.0,179.03 395.5,178.86 395.0,178.69 394.5,178.52 394.0,178.34 393.5,178.16 393.0,177.98 392.5,177.80 392.0,177.62 391.5,177.43 391.0,177.25 390.5,177.06 390.0,176.88 389.5,176.69 389.0,176.50 388.5,176.31 388.0,176.11 387.5,175.92 387.0,175.72 386.5,175.52 386.0,175.32 385.5,175.12 385.0,174.92 384.5,174.71 384.0,174.50 383.5,174.29 383.0,174.08 382.5,173.86 382.0,173.64 381.5,173.42 381.0,173.20 380.5,172.98 380.0,172.76 379.5,172.54 379.0,172.31 378.5,172.09 378.0,171.87 377.5,171.65 377.0,171.43 376.5,171.21 376.0,170.98 375.5,170.75 375.0,170.53 374.5,170.30 374.0,170.08 373.5,169.87 373.0,169.66 372.5,169.46 372.0,169.26 371.5,169.08 371.0,168.91 370.5,168.74 370.0,168.59 369.5,168.43 369.0,168.29 368.5,168.14 368.0,168.00 367.5,167.86 367.0,167.73 366.5,167.59 366.0,167.45 365.5,167.31 365.0,167.17 364.5,167.04 364.0,166.91 363.5,166.78 363.0,166.65 362.5,166.52 362.0,166.39 361.5,166.26 361.0,166.12 360.5,165.99 360.0,165.85 359.5,165.71 359.0,165.56 358.5,165.42 358.0,165.27 357.5,165.13 357.0,164.98 356.5,164.83 356.0,164.68 355.5,164.53 355.0,164.38 354.5,164.23 354.0,164.07 353.5,163.91 353.0,163.75 352.5,163.59 352.0,163.43 351.5,163.26 351.0,163.10 350.5,162.93 350.0,162.76 349.5,162.58 349.0,162.41 348.5,162.24 348.0,162.06 347.5,161.89 347.0,161.71 346.5,161.53 346.0,161.36 345.5,161.18 345.0,161.01 344.5,160.84 344.0,160.66 343.5,160.49 343.0,160.31 342.5,160.13 342.0,159.96 341.5,159.78 341.0,159.60 340.5,159.42 340.0,159.24 339.5,159.05 339.0,158.86 338.5,158.68 338.0,158.49 337.5,158.30 337.0,158.11 336.5,157.92 336.0,157.72 335.5,157.53 335.0,157.33 334.5,157.13 334.0,156.93 333.5,156.72 333.0,156.51 332.5,156.30 332.0,156.08 331.5,155.85 331.0,155.62 330.5,155.39 330.0,155.15 329.5,154.91 329.0,154.67 328.5,154.42 328.0,154.17 327.5,153.92 327.0,153.66 326.5,153.40 326.0,153.13 325.5,152.86 325.0,152.59 324.5,152.32 324.0,152.03 323.5,151.75 323.0,151.45 322.5,151.16 322.0,150.86 321.5,150.55 321.0,150.25 320.5,149.94 320.0,149.63 319.5,149.32 319.0,149.02 318.5,148.71 318.0,148.40 317.5,148.10 317.0,147.80 316.5,147.50 316.0,147.19 315.5,146.89 315.0,146.59 314.5,146.29 314.0,145.98 313.5,145.67 313.0,145.37 312.5,145.06 312.0,144.74 311.5,144.43 311.0,144.11 310.5,143.78 310.0,143.45 309.5,143.11 309.0,142.76 308.5,142.40 308.0,142.05 307.5,141.69 307.0,141.34 306.5,140.99 306.0,140.65 305.5,140.32 305.0,140.01 304.5,139.70 304.0,139.40 303.5,139.11 303.0,138.82 302.5,138.54 302.0,138.26 301.5,137.99 301.0,137.72 300.5,137.45 300.0,137.18 299.5,136.91 299.0,136.64 298.5,136.37 298.0,136.09 297.5,135.82 297.0,135.55 296.5,135.28 296.0,135.02 295.5,134.76 295.0,134.50 294.5,134.23 294.0,133.97 293.5,133.70 293.0,133.43 292.5,133.16 292.0,132.88 291.5,132.59 291.0,132.30 290.5,132.00 290.0,131.69 289.5,131.37 289.0,131.05 288.5,130.72 288.0,130.39 287.5,130.06 287.0,129.72 286.5,129.38 286.0,129.05 285.5,128.71 285.0,128.37 284.5,128.04 284.0,127.71 283.5,127.38 283.0,127.06 282.5,126.73 282.0,126.40 281.5,126.07 281.0,125.74 280.5,125.42 280.0,125.09 279.5,124.77 279.0,124.45 278.5,124.13 278.0,123.82 277.5,123.51 277.0,123.20 276.5,122.90 276.0,122.61 275.5,122.32 275.0,122.03 274.5,121.74 274.0,121.46 273.5,121.18 273.0,120.91 272.5,120.63 272.0,120.36 271.5,120.09 271.0,119.82 270.5,119.56 270.0,119.29 269.5,119.02 269.0,118.75 268.5,118.48 268.0,118.20 267.5,117.93 267.0,117.65 266.5,117.38 266.0,117.12 265.5,116.86 265.0,116.62 264.5,116.38 264.0,116.16 263.5,115.95 263.0,115.76 262.5,115.59 262.0,115.44 261.5,115.30 261.0,115.18 260.5,115.07 260.0,114.96 259.5,114.87 259.0,114.78 258.5,114.70 258.0,114.63 257.5,114.55 257.0,114.48 256.5,114.41 256.0,114.33 255.5,114.25 255.0,114.16 254.5,114.09 254.0,114.02 253.5,113.95 253.0,113.90 252.5,113.85 252.0,113.80 251.5,113.76 251.0,113.71 250.5,113.67 250.0,113.63 249.5,113.59 249.0,113.56 248.5,113.52 248.0,113.49 247.5,113.45 247.0,113.42 246.5,113.38 246.0,113.35 245.5,113.32 245.0,113.28 244.5,113.25 244.0,113.22 243.5,113.19 243.0,113.15 242.5,113.12 242.0,113.08 241.5,113.05 241.0,113.01 240.5,112.98 240.0,112.94 239.5,112.90 239.0,112.86 238.5,112.82 238.0,112.78 237.5,112.74 237.0,112.69 236.5,112.65 236.0,112.61 235.5,112.57 235.0,112.53 234.5,112.49 234.0,112.45 233.5,112.41 233.0,112.38 232.5,112.34 232.0,112.31 231.5,112.28 231.0,112.26 230.5,112.23 230.0,112.21 229.5,112.20 229.0,112.19 228.5,112.19 228.0,112.19 227.5,112.19 227.0,112.20 226.5,112.20 226.0,112.21 225.5,112.22 225.0,112.23 224.5,112.24 224.0,112.26 223.5,112.27 223.0,112.29 222.5,112.31 222.0,112.33" fill="rgba(255,0,0,0.6)"/><polyline points="222.0,112.36 222.5,112.40 223.0,112.44 223.5,112.48 224.0,112.52 224.5,112.56 225.0,112.60 225.5,112.64 226.0,112.68 226.5,112.72 227.0,112.76 227.5,112.80 228.0,112.84 228.5,112.88 229.0,112.92 229.5,112.96 230.0,113.00 230.5,113.04 231.0,113.07 231.5,113.11 232.0,113.14 232.5,113.17 233.0,113.21 233.5,113.24 234.0,113.27 234.5,113.31 235.0,113.34 235.5,113.37 236.0,113.41 236.5,113.44 237.0,113.47 237.5,113.51 238.0,113.54 238.5,113.58 239.0,113.62 239.5,113.66 240.0,113.70 240.5,113.74 241.0,113.79 241.5,113.83 242.0,113.88 242.5,113.94 243.0,114.00 243.5,114.06 244.0,114.14 244.5,114.22 245.0,114.30 245.5,114.38 246.0,114.46 246.5,114.53 247.0,114.60 247.5,114.68 248.0,114.76 248.5,114.84 249.0,114.93 249.5,115.03 250.0,115.14 250.5,115.26 251.0,115.39 251.5,115.53 252.0,115.70 252.5,115.88 253.0,116.09 253.5,116.30 254.0,116.54 254.5,116.78 255.0,117.03 255.5,117.29 256.0,117.56 256.5,117.83 257.0,118.11 257.5,118.39 258.0,118.66 258.5,118.93 259.0,119.20 259.5,119.46 260.0,119.73 260.5,120.00 261.0,120.27 261.5,120.54 262.0,120.81 262.5,121.09 263.0,121.37 263.5,121.65 264.0,121.93 264.5,122.22 265.0,122.51 265.5,122.80 266.0,123.10 266.5,123.40 267.0,123.71 267.5,124.02 268.0,124.34 268.5,124.66 269.0,124.98 269.5,125.31 270.0,125.63 270.5,125.96 271.0,126.29 271.5,126.62 272.0,126.95 272.5,127.27 273.0,127.60 273.5,127.93 274.0,128.26 274.5,128.59 275.0,128.93 275.5,129.27 276.0,129.61 276.5,129.94 277.0,130.28 277.5,130.61 278.0,130.94 278.5,131.27 279.0,131.58 279.5,131.90 280.0,132.20 280.5,132.50 281.0,132.78 281.5,133.07 282.0,133.34 282.5,133.61 283.0,133.88 283.5,134.14 284.0,134.41 284.5,134.67 285.0,134.93 285.5,135.19 286.0,135.46 286.5,135.73 287.0,136.00 287.5,136.27 288.0,136.55 288.5,136.82 289.0,137.09 289.5,137.36 290.0,137.63 290.5,137.90 291.0,138.17 291.5,138.45 292.0,138.73 292.5,139.01 293.0,139.30 293.5,139.60 294.0,139.90 294.5,140.21 295.0,140.54 295.5,140.87 296.0,141.22 296.5,141.57 297.0,141.93 297.5,142.28 298.0,142.64 298.5,142.99 299.0,143.33 299.5,143.67 300.0,144.00 300.5,144.32 301.0,144.64 301.5,144.95 302.0,145.26 302.5,145.57 303.0,145.88 303.5,146.18 304.0,146.49 304.5,146.79 305.0,147.09 305.5,147.39 306.0,147.69 306.5,148.00 307.0,148.30 307.5,148.60 308.0,148.91 308.5,149.22 309.0,149.53 309.5,149.84 310.0,150.14 310.5,150.45 311.0,150.75 311.5,151.06 312.0,151.35 312.5,151.65 313.0,151.94 313.5,152.22 314.0,152.50 314.5,152.77 315.0,153.04 315.5,153.31 316.0,153.57 316.5,153.83 317.0,154.09 317.5,154.34 318.0,154.59 318.5,154.83 319.0,155.07 319.5,155.31 320.0,155.54 320.5,155.77 321.0,156.00 321.5,156.22 322.0,156.44 322.5,156.65 323.0,156.86 323.5,157.06 324.0,157.26 324.5,157.46 325.0,157.66 325.5,157.85 326.0,158.04 326.5,158.23 327.0,158.42 327.5,158.61 328.0,158.80 328.5,158.99 329.0,159.17 329.5,159.36 330.0,159.54 330.5,159.72 331.0,159.90 331.5,160.07 332.0,160.25 332.5,160.43 333.0,160.60 333.5,160.78 334.0,160.95 334.5,161.13 335.0,161.30 335.5,161.48 336.0,161.65 336.5,161.83 337.0,162.00 337.5,162.18 338.0,162.35 338.5,162.53 339.0,162.70 339.5,162.87 340.0,163.04 340.5,163.21 341.0,163.37 341.5,163.54 342.0,163.70 342.5,163.86 343.0,164.02 343.5,164.17 344.0,164.33 344.5,164.48 345.0,164.63 345.5,164.78 346.0,164.93 346.5,165.08 347.0,165.22 347.5,165.37 348.0,165.51 348.5,165.66 349.0,165.80 349.5,165.94 350.0,166.08 350.5,166.21 351.0,166.34 351.5,166.47 352.0,166.60 352.5,166.73 353.0,166.86 353.5,166.99 354.0,167.12 354.5,167.26 355.0,167.40 355.5,167.54 356.0,167.68 356.5,167.82 357.0,167.96 357.5,168.10 358.0,168.24 358.5,168.38 359.0,168.53 359.5,168.69 360.0,168.85 360.5,169.02 361.0,169.20 361.5,169.39 362.0,169.59 362.5,169.79 363.0,170.01 363.5,170.23 364.0,170.45 364.5,170.67 365.0,170.90 365.5,171.13 366.0,171.36 366.5,171.58 367.0,171.80 367.5,172.02 368.0,172.24 368.5,172.46 369.0,172.68 369.5,172.90 370.0,173.13 370.5,173.35 371.0,173.57 371.5,173.79 372.0,174.00 372.5,174.22 373.0,174.43 373.5,174.64 374.0,174.85 374.5,175.05 375.0,175.26 375.5,175.46 376.0,175.66 376.5,175.85 377.0,176.05 377.5,176.24 378.0,176.43 378.5,176.62 379.0,176.81 379.5,177.00 380.0,177.19 380.5,177.37 381.0,177.56 381.5,177.74 382.0,177.92 382.5,178.10 383.0,178.28 383.5,178.46 384.0,178.63 384.5,178.80 385.0,178.97 385.5,179.13 386.0,179.30 386.5,179.46 387.0,179.61 387.5,179.77 388.0,179.92 388.5,180.07 389.0,180.21 389.5,180.36 390.0,180.50 390.5,180.64 391.0,180.78 391.5,180.92 392.0,181.05 392.5,181.19 393.0,181.32 393.5,181.45 394.0,181.57 394.5,181.70 395.0,181.82 395.5,181.94 396.0,182.06 396.5,182.18 397.0,182.29 397.5,182.41 398.0,182.52 398.5,182.64 399.0,182.75 399.5,182.87 400.0,182.98 400.5,183.09 401.0,183.20 401.5,183.31 402.0,183.41 402.5,183.51 403.0,183.61 403.5,183.71 404.0,183.80 404.5,183.89 405.0,183.97 405.5,184.05 406.0,184.13 406.5,184.21 407.0,184.28 407.5,184.36 408.0,184.42 408.5,184.49 409.0,184.56 409.5,184.62 410.0,184.68 410.5,184.73 411.0,184.78 411.5,184.82 412.0,184.85 412.5,184.87 413.0,184.88 413.5,184.89 414.0,184.90 414.5,184.91 415.0,184.92 415.5,184.92 416.0,184.92 416.5,184.92 417.0,184.92 417.5,184.91 418.0,184.90 418.5,184.89 419.0,184.87 419.5,184.85 420.0,184.83 420.5,184.81 421.0,184.78 421.5,184.77 422.0,184.75" fill="none" stroke="rgba(255,0,0,0.5)" stroke-width="1"/><polyline points="222.0,112.33 222.5,112.31 223.0,112.29 223.5,112.27 224.0,112.26 224.5,112.24 225.0,112.23 225.5,112.22 226.0,112.21 226.5,112.20 227.0,112.20 227.5,112.19 228.0,112.19 228.5,112.19 229.0,112.19 229.5,112.20 230.0,112.21 230.5,112.23 231.0,112.26 231.5,112.28 232.0,112.31 232.5,112.34 233.0,112.38 233.5,112.41 234.0,112.45 234.5,112.49 235.0,112.53 235.5,112.57 236.0,112.61 236.5,112.65 237.0,112.69 237.5,112.74 238.0,112.78 238.5,112.82 239.0,112.86 239.5,112.90 240.0,112.94 240.5,112.98 241.0,113.01 241.5,113.05 242.0,113.08 242.5,113.12 243.0,113.15 243.5,113.19 244.0,113.22 244.5,113.25 245.0,113.28 245.5,113.32 246.0,113.35 246.5,113.38 247.0,113.42 247.5,113.45 248.0,113.49 248.5,113.52 249.0,113.56 249.5,113.59 250.0,113.63 250.5,113.67 251.0,113.71 251.5,113.76 252.0,113.80 252.5,113.85 253.0,113.90 253.5,113.95 254.0,114.02 254.5,114.09 255.0,114.16 255.5,114.25 256.0,114.33 256.5,114.41 257.0,114.48 257.5,114.55 258.0,114.63 258.5,114.70 259.0,114.78 259.5,114.87 260.0,114.96 260.5,115.07 261.0,115.18 261.5,115.30 262.0,115.44 262.5,115.59 263.0,115.76 263.5,115.95 264.0,116.16 264.5,116.38 265.0,116.62 265.5,116.86 266.0,117.12 266.5,117.38 267.0,117.65 267.5,117.93 268.0,118.20 268.5,118.48 269.0,118.75 269.5,119.02 270.0,119.29 270.5,119.56 271.0,119.82 271.5,120.09 272.0,120.36 272.5,120.63 273.0,120.91 273.5,121.18 274.0,121.46 274.5,121.74 275.0,122.03 275.5,122.32 276.0,122.61 276.5,122.90 277.0,123.20 277.5,123.51 278.0,123.82 278.5,124.13 279.0,124.45 279.5,124.77 280.0,125.09 280.5,125.42 281.0,125.74 281.5,126.07 282.0,126.40 282.5,126.73 283.0,127.06 283.5,127.38 284.0,127.71 284.5,128.04 285.0,128.37 285.5,128.71 286.0,129.05 286.5,129.38 287.0,129.72 287.5,130.06 288.0,130.39 288.5,130.72 289.0,131.05 289.5,131.37 290.0,131.69 290.5,132.00 291.0,132.30 291.5,132.59 292.0,132.88 292.5,133.16 293.0,133.43 293.5,133.70 294.0,133.97 294.5,134.23 295.0,134.50 295.5,134.76 296.0,135.02 296.5,135.28 297.0,135.55 297.5,135.82 298.0,136.09 298.5,136.37 299.0,136.64 299.5,136.91 300.0,137.18 300.5,137.45 301.0,137.72 301.5,137.99 302.0,138.26 302.5,138.54 303.0,138.82 303.5,139.11 304.0,139.40 304.5,139.70 305.0,140.01 305.5,140.32 306.0,140.65 306.5,140.99 307.0,141.34 307.5,141.69 308.0,142.05 308.5,142.40 309.0,142.76 309.5,143.11 310.0,143.45 310.5,143.78 311.0,144.11 311.5,144.43 312.0,144.74 312.5,145.06 313.0,145.37 313.5,145.67 314.0,145.98 314.5,146.29 315.0,146.59 315.5,146.89 316.0,147.19 316.5,147.50 317.0,147.80 317.5,148.10 318.0,148.40 318.5,148.71 319.0,149.02 319.5,149.32 320.0,149.63 320.5,149.94 321.0,150.25 321.5,150.55 322.0,150.86 322.5,151.16 323.0,151.45 323.5,151.75 324.0,152.03 324.5,152.32 325.0,152.59 325.5,152.86 326.0,153.13 326.5,153.40 327.0,153.66 327.5,153.92 328.0,154.17 328.5,154.42 329.0,154.67 329.5,154.91 330.0,155.15 330.5,155.39 331.0,155.62 331.5,155.85 332.0,156.08 332.5,156.30 333.0,156.51 333.5,156.72 334.0,156.93 334.5,157.13 335.0,157.33 335.5,157.53 336.0,157.72 336.5,157.92 337.0,158.11 337.5,158.30 338.0,158.49 338.5,158.68 339.0,158.86 339.5,159.05 340.0,159.24 340.5,159.42 341.0,159.60 341.5,159.78 342.0,159.96 342.5,160.13 343.0,160.31 343.5,160.49 344.0,160.66 344.5,160.84 345.0,161.01 345.5,161.18 346.0,161.36 346.5,161.53 347.0,161.71 347.5,161.89 348.0,162.06 348.5,162.24 349.0,162.41 349.5,162.58 350.0,162.76 350.5,162.93 351.0,163.10 351.5,163.26 352.0,163.43 352.5,163.59 353.0,163.75 353.5,163.91 354.0,164.07 354.5,164.23 355.0,164.38 355.5,164.53 356.0,164.68 356.5,164.83 357.0,164.98 357.5,165.13 358.0,165.27 358.5,165.42 359.0,165.56 359.5,165.71 360.0,165.85 360.5,165.99 361.0,166.12 361.5,166.26 362.0,166.39 362.5,166.52 363.0,166.65 363.5,166.78 364.0,166.91 364.5,167.04 365.0,167.17 365.5,167.31 366.0,167.45 366.5,167.59 367.0,167.73 367.5,167.86 368.0,168.00 368.5,168.14 369.0,168.29 369.5,168.43 370.0,168.59 370.5,168.74 371.0,168.91 371.5,169.08 372.0,169.26 372.5,169.46 373.0,169.66 373.5,169.87 374.0,170.08 374.5,170.30 375.0,170.53 375.5,170.75 376.0,170.98 376.5,171.21 377.0,171.43 377.5,171.65 378.0,171.87 378.5,172.09 379.0,172.31 379.5,172.54 380.0,172.76 380.5,172.98 381.0,173.20 381.5,173.42 382.0,173.64 382.5,173.86 383.0,174.08 383.5,174.29 384.0,174.50 384.5,174.71 385.0,174.92 385.5,175.12 386.0,175.32 386.5,175.52 387.0,175.72 387.5,175.92 388.0,176.11 388.5,176.31 389.0,176.50 389.5,176.69 390.0,176.88 390.5,177.06 391.0,177.25 391.5,177.43 392.0,177.62 392.5,177.80 393.0,177.98 393.5,178.16 394.0,178.34 394.5,178.52 395.0,178.69 395.5,178.86 396.0,179.03 396.5,179.19 397.0,179.35 397.5,179.51 398.0,179.67 398.5,179.82 399.0,179.97 399.5,180.12 400.0,180.26 400.5,180.41 401.0,180.55 401.5,180.69 402.0,180.83 402.5,180.96 403.0,181.10 403.5,181.23 404.0,181.36 404.5,181.49 405.0,181.61 405.5,181.74 406.0,181.86 406.5,181.98 407.0,182.10 407.5,182.22 408.0,182.33 408.5,182.45 409.0,182.56 409.5,182.68 410.0,182.79 410.5,182.90 411.0,183.02 411.5,183.13 412.0,183.24 412.5,183.34 413.0,183.45 413.5,183.55 414.0,183.65 414.5,183.74 415.0,183.83 415.5,183.92 416.0,184.00 416.5,184.08 417.0,184.16 417.5,184.23 418.0,184.31 418.5,184.38 419.0,184.45 419.5,184.51 420.0,184.58 420.5,184.64 421.0,184.70 421.5,184.75 422.0,184.79" fill="none" stroke="rgba(255,0,0,0.5)" stroke-width="1"/><polygon points="422.0,184.75 422.5,184.74 423.0,184.73 423.5,184.71 424.0,184.71 424.5,184.70 425.0,184.69 425.5,184.68 426.0,184.67 426.5,184.66 427.0,184.65 427.5,184.64 428.0,184.63 428.5,184.62 429.0,184.61 429.5,184.60 430.0,184.58 430.5,184.57 431.0,184.57 431.5,184.56 432.0,184.55 432.5,184.54 433.0,184.54 433.5,184.53 434.0,184.52 434.5,184.52 435.0,184.51 435.5,184.51 436.0,184.50 436.5,184.50 437.0,184.50 437.5,184.50 438.0,184.50 438.5,184.50 439.0,184.51 439.5,184.51 440.0,184.52 440.5,184.52 441.0,184.53 441.5,184.54 442.0,184.55 442.5,184.56 442.5,184.55 442.0,184.56 441.5,184.57 441.0,184.58 440.5,184.59 440.0,184.60 439.5,184.61 439.0,184.63 438.5,184.64 438.0,184.65 437.5,184.66 437.0,184.67 436.5,184.67 436.0,184.68 435.5,184.69 435.0,184.70 434.5,184.71 434.0,184.72 433.5,184.73 433.0,184.75 432.5,184.76 432.0,184.78 431.5,184.80 431.0,184.82 430.5,184.84 430.0,184.86 429.5,184.88 429.0,184.90 428.5,184.91 428.0,184.91 427.5,184.92 427.0,184.92 426.5,184.92 426.0,184.92 425.5,184.91 425.0,184.90 424.5,184.89 424.0,184.88 423.5,184.87 423.0,184.85 422.5,184.83 422.0,184.79" fill="rgba(0,255,0,0.6)"/><polyline points="422.0,184.75 422.5,184.74 423.0,184.73 423.5,184.71 424.0,184.71 424.5,184.70 425.0,184.69 425.5,184.68 426.0,184.67 426.5,184.66 427.0,184.65 427.5,184.64 428.0,184.63 428.5,184.62 429.0,184.61 429.5,184.60 430.0,184.58 430.5,184.57 431.0,184.57 431.5,184.56 432.0,184.55 432.5,184.54 433.0,184.54 433.5,184.53 434.0,184.52 434.5,184.52 435.0,184.51 435.5,184.51 436.0,184.50 436.5,184.50 437.0,184.50 437.5,184.50 438.0,184.50 438.5,184.50 439.0,184.51 439.5,184.51 440.0,184.52 440.5,184.52 441.0,184.53 441.5,184.54 442.0,184.55 442.5,184.56" fill="none" stroke="rgba(0,255,0,0.5)" stroke-width="1"/><polyline points="422.0,184.79 422.5,184.83 423.0,184.85 423.5,184.87 424.0,184.88 424.5,184.89 425.0,184.90 425.5,184.91 426.0,184.92 426.5,184.92 427.0,184.92 427.5,184.92 428.0,184.91 428.5,184.91 429.0,184.90 429.5,184.88 430.0,184.86 430.5,184.84 431.0,184.82 431.5,184.80 432.0,184.78 432.5,184.76 433.0,184.75 433.5,184.73 434.0,184.72 434.5,184.71 435.0,184.70 435.5,184.69 436.0,184.68 436.5,184.67 437.0,184.67 437.5,184.66 438.0,184.65 438.5,184.64 439.0,184.63 439.5,184.61 440.0,184.60 440.5,184.59 441.0,184.58 441.5,184.57 442.0,184.56 442.5,184.55" fill="none" stroke="rgba(0,255,0,0.5)" stroke-width="1"/><polygon points="442.5,184.56 443.0,184.57 443.5,184.59 444.0,184.60 444.5,184.62 445.0,184.63 445.5,184.66 446.0,184.68 446.5,184.70 447.0,184.72 447.5,184.75 448.0,184.77 448.5,184.79 449.0,184.82 449.5,184.83 450.0,184.85 450.5,184.86 451.0,184.88 451.5,184.89 452.0,184.90 452.5,184.91 453.0,184.92 453.5,184.93 454.0,184.94 454.5,184.95 455.0,184.95 455.5,184.95 456.0,184.95 456.5,184.95 457.0,184.94 457.5,184.93 458.0,184.92 458.5,184.90 459.0,184.88 459.5,184.87 460.0,184.84 460.5,184.82 460.5,184.84 460.0,184.82 459.5,184.80 459.0,184.78 458.5,184.76 458.0,184.73 457.5,184.71 457.0,184.69 456.5,184.66 456.0,184.64 455.5,184.62 455.0,184.61 454.5,184.59 454.0,184.58 453.5,184.57 453.0,184.55 452.5,184.54 452.0,184.53 451.5,184.53 451.0,184.52 450.5,184.51 450.0,184.51 449.5,184.50 449.0,184.50 448.5,184.50 448.0,184.50 447.5,184.50 447.0,184.50 446.5,184.51 446.0,184.51 445.5,184.52 445.0,184.52 444.5,184.53 444.0,184.53 443.5,184.54 443.0,184.55 442.5,184.55" fill="rgba(255,0,0,0.6)"/><polyline points="442.5,184.56 443.0,184.57 443.5,184.59 444.0,184.60 444.5,184.62 445.0,184.63 445.5,184.66 446.0,184.68 446.5,184.70 447.0,184.72 447.5,184.75 448.0,184.77 448.5,184.79 449.0,184.82 449.5,184.83 450.0,184.85 450.5,184.86 451.0,184.88 451.5,184.89 452.0,184.90 452.5,184.91 453.0,184.92 453.5,184.93 454.0,184.94 454.5,184.95 455.0,184.95 455.5,184.95 456.0,184.95 456.5,184.95 457.0,184.94 457.5,184.93 458.0,184.92 458.5,184.90 459.0,184.88 459.5,184.87 460.0,184.84 460.5,184.82" fill="none" stroke="rgba(255,0,0,0.5)" stroke-width="1"/><polyline points="442.5,184.55 443.0,184.55 443.5,184.54 444.0,184.53 444.5,184.53 445.0,184.52 445.5,184.52 446.0,184.51 446.5,184.51 447.0,184.50 447.5,184.50 448.0,184.50 448.5,184.50 449.0,184.50 449.5,184.50 450.0,184.51 450.5,184.51 451.0,184.52 451.5,184.53 452.0,184.53 452.5,184.54 453.0,184.55 453.5,184.57 454.0,184.58 454.5,184.59 455.0,184.61 455.5,184.62 456.0,184.64 456.5,184.66 457.0,184.69 457.5,184.71 458.0,184.73 458.5,184.76 459.0,184.78 459.5,184.80 460.0,184.82 460.5,184.84" fill="none" stroke="rgba(255,0,0,0.5)" stroke-width="1"/><polygon points="460.5,184.82 461.0,184.80 461.5,184.78 462.0,184.76 462.5,184.73 463.0,184.71 463.5,184.68 464.0,184.66 464.5,184.62 465.0,184.59 465.5,184.55 466.0,184.50 466.5,184.45 467.0,184.40 467.5,184.34 468.0,184.28 468.5,184.21 469.0,184.14 469.5,184.07 470.0,183.98 470.5,183.90 471.0,183.80 471.5,183.70 472.0,183.58 472.5,183.46 473.0,183.33 473.5,183.20 474.0,183.06 474.5,182.92 475.0,182.78 475.5,182.64 476.0,182.50 476.5,182.36 477.0,182.22 477.5,182.07 478.0,181.93 478.5,181.78 479.0,181.63 479.5,181.49 480.0,181.34 480.5,181.19 481.0,181.04 481.5,180.89 482.0,180.75 482.5,180.60 483.0,180.45 483.5,180.30 484.0,180.16 484.5,180.01 485.0,179.86 485.5,179.71 486.0,179.56 486.5,179.41 487.0,179.26 487.5,179.12 488.0,178.97 488.5,178.83 489.0,178.68 489.5,178.54 490.0,178.40 490.5,178.26 491.0,178.12 491.5,177.99 492.0,177.85 492.5,177.72 493.0,177.58 493.5,177.45 494.0,177.32 494.5,177.18 495.0,177.05 495.5,176.92 496.0,176.79 496.5,176.65 497.0,176.52 497.5,176.39 498.0,176.25 498.5,176.11 499.0,175.98 499.5,175.84 500.0,175.70 500.5,175.56 501.0,175.41 501.5,175.26 502.0,175.11 502.5,174.96 503.0,174.80 503.5,174.65 504.0,174.49 504.5,174.33 505.0,174.18 505.5,174.03 506.0,173.88 506.5,173.74 507.0,173.60 507.5,173.46 508.0,173.33 508.5,173.20 509.0,173.07 509.5,172.94 510.0,172.81 510.5,172.69 511.0,172.57 511.5,172.45 512.0,172.33 512.5,172.22 513.0,172.11 513.5,172.00 514.0,171.90 514.5,171.80 515.0,171.71 515.5,171.62 516.0,171.54 516.5,171.46 517.0,171.38 517.5,171.31 518.0,171.23 518.5,171.16 519.0,171.09 519.5,171.02 520.0,170.95 520.5,170.87 521.0,170.80 521.5,170.73 522.0,170.65 522.5,170.58 523.0,170.51 523.5,170.44 524.0,170.37 524.5,170.30 525.0,170.23 525.5,170.16 526.0,170.09 526.5,170.02 527.0,169.95 527.5,169.87 528.0,169.80 528.5,169.72 529.0,169.65 529.5,169.57 530.0,169.49 530.5,169.41 531.0,169.33 531.5,169.25 532.0,169.17 532.5,169.09 533.0,169.01 533.5,168.93 534.0,168.85 534.5,168.78 535.0,168.70 535.5,168.63 536.0,168.55 536.5,168.48 537.0,168.41 537.5,168.34 538.0,168.26 538.5,168.19 539.0,168.12 539.5,168.05 540.0,167.98 540.5,167.91 541.0,167.84 541.5,167.77 542.0,167.70 542.5,167.63 543.0,167.56 543.5,167.50 544.0,167.43 544.5,167.37 545.0,167.31 545.5,167.24 546.0,167.18 546.5,167.11 547.0,167.04 547.5,166.96 548.0,166.88 548.5,166.79 549.0,166.70 549.5,166.60 550.0,166.50 550.5,166.40 551.0,166.29 551.5,166.19 552.0,166.07 552.5,165.96 553.0,165.84 553.5,165.71 554.0,165.58 554.5,165.44 555.0,165.30 555.5,165.15 556.0,165.00 556.5,164.84 557.0,164.67 557.5,164.49 558.0,164.30 558.5,164.11 559.0,163.91 559.5,163.71 560.0,163.51 560.5,163.31 561.0,163.10 561.5,162.90 562.0,162.69 562.5,162.50 563.0,162.30 563.5,162.11 564.0,161.92 564.5,161.73 565.0,161.54 565.5,161.35 566.0,161.16 566.5,160.97 567.0,160.78 567.5,160.59 568.0,160.40 568.5,160.20 569.0,160.01 569.5,159.81 570.0,159.60 570.5,159.39 571.0,159.19 571.5,158.99 572.0,158.78 572.5,158.57 573.0,158.34 573.5,158.10 574.0,157.85 574.5,157.58 575.0,157.30 575.5,157.01 576.0,156.71 576.5,156.40 577.0,156.09 577.5,155.77 578.0,155.45 578.5,155.12 579.0,154.80 579.5,154.47 580.0,154.15 580.5,153.82 581.0,153.50 581.5,153.18 582.0,152.86 582.5,152.55 583.0,152.24 583.5,151.93 584.0,151.62 584.5,151.32 585.0,151.01 585.5,150.71 586.0,150.40 586.5,150.10 587.0,149.80 587.5,149.50 588.0,149.21 588.5,148.91 589.0,148.62 589.5,148.33 590.0,148.05 590.5,147.77 591.0,147.49 591.5,147.21 592.0,146.94 592.5,146.67 593.0,146.40 593.5,146.13 594.0,145.87 594.5,145.60 595.0,145.35 595.5,145.09 596.0,144.84 596.5,144.59 597.0,144.35 597.5,144.11 598.0,143.88 598.5,143.65 599.0,143.42 599.5,143.21 600.0,143.00 600.5,142.79 601.0,142.59 601.5,142.40 602.0,142.21 602.5,142.02 603.0,141.83 603.5,141.64 604.0,141.46 604.5,141.27 605.0,141.08 605.5,140.89 606.0,140.70 606.5,140.50 607.0,140.30 607.5,140.10 608.0,139.89 608.5,139.69 609.0,139.48 609.5,139.27 610.0,139.07 610.5,138.86 611.0,138.65 611.5,138.45 612.0,138.25 612.5,138.04 613.0,137.84 613.5,137.65 614.0,137.45 614.5,137.26 615.0,137.07 615.5,136.89 616.0,136.71 616.5,136.52 617.0,136.35 617.5,136.17 618.0,135.99 618.5,135.82 619.0,135.64 619.5,135.47 620.0,135.30 620.5,135.12 621.0,134.95 621.5,134.78 622.0,134.60 622.5,134.43 623.0,134.25 623.5,134.08 624.0,133.90 624.5,133.72 625.0,133.54 625.5,133.37 626.0,133.19 626.5,133.01 627.0,132.84 627.5,132.67 628.0,132.50 628.5,132.34 629.0,132.17 629.5,132.01 630.0,131.86 630.5,131.71 631.0,131.56 631.5,131.42 632.0,131.28 632.5,131.14 633.0,131.00 633.5,130.86 634.0,130.73 634.5,130.60 635.0,130.48 635.5,130.36 636.0,130.24 636.5,130.12 637.0,130.01 637.5,129.90 638.0,129.80 638.5,129.70 639.0,129.61 639.5,129.51 640.0,129.43 640.5,129.34 641.0,129.26 641.5,129.19 642.0,129.11 642.5,129.04 643.0,128.97 643.5,128.90 644.0,128.84 644.5,128.77 645.0,128.71 645.5,128.65 646.0,128.59 646.5,128.53 647.0,128.47 647.5,128.42 648.0,128.36 648.5,128.31 649.0,128.26 649.5,128.22 650.0,128.17 650.5,128.13 651.0,128.09 651.5,128.05 652.0,128.01 652.5,127.98 653.0,127.94 653.5,127.92 654.0,127.89 654.5,127.87 655.0,127.85 655.5,127.84 656.0,127.83 656.5,127.83 657.0,127.83 657.5,127.84 658.0,127.85 658.5,127.86 659.0,127.87 659.5,127.88 660.0,127.90 660.5,127.92 661.0,127.94 661.5,127.96 662.0,127.99 662.5,128.02 663.0,128.05 663.0,128.00 662.5,128.03 662.0,128.07 661.5,128.11 661.0,128.16 660.5,128.20 660.0,128.25 659.5,128.30 659.0,128.35 658.5,128.40 658.0,128.45 657.5,128.51 657.0,128.57 656.5,128.63 656.0,128.69 655.5,128.75 655.0,128.81 654.5,128.88 654.0,128.95 653.5,129.01 653.0,129.09 652.5,129.16 652.0,129.24 651.5,129.32 651.0,129.40 650.5,129.48 650.0,129.57 649.5,129.67 649.0,129.77 648.5,129.87 648.0,129.97 647.5,130.09 647.0,130.20 646.5,130.32 646.0,130.44 645.5,130.56 645.0,130.69 644.5,130.82 644.0,130.95 643.5,131.09 643.0,131.23 642.5,131.37 642.0,131.51 641.5,131.66 641.0,131.81 640.5,131.96 640.0,132.12 639.5,132.28 639.0,132.44 638.5,132.61 638.0,132.78 637.5,132.96 637.0,133.13 636.5,133.31 636.0,133.48 635.5,133.66 635.0,133.84 634.5,134.02 634.0,134.19 633.5,134.37 633.0,134.55 632.5,134.72 632.0,134.89 631.5,135.06 631.0,135.24 630.5,135.41 630.0,135.58 629.5,135.76 629.0,135.93 628.5,136.11 628.0,136.28 627.5,136.46 627.0,136.64 626.5,136.83 626.0,137.01 625.5,137.20 625.0,137.39 624.5,137.58 624.0,137.78 623.5,137.98 623.0,138.18 622.5,138.38 622.0,138.58 621.5,138.79 621.0,139.00 620.5,139.20 620.0,139.41 619.5,139.62 619.0,139.82 618.5,140.03 618.0,140.23 617.5,140.43 617.0,140.63 616.5,140.82 616.0,141.02 615.5,141.21 615.0,141.39 614.5,141.58 614.0,141.77 613.5,141.95 613.0,142.14 612.5,142.33 612.0,142.53 611.5,142.72 611.0,142.93 610.5,143.13 610.0,143.35 609.5,143.57 609.0,143.80 608.5,144.03 608.0,144.27 607.5,144.51 607.0,144.75 606.5,145.00 606.0,145.26 605.5,145.52 605.0,145.78 604.5,146.04 604.0,146.31 603.5,146.58 603.0,146.85 602.5,147.12 602.0,147.40 601.5,147.67 601.0,147.95 600.5,148.24 600.0,148.52 599.5,148.81 599.0,149.11 598.5,149.40 598.0,149.70 597.5,150.00 597.0,150.30 596.5,150.60 596.0,150.91 595.5,151.21 595.0,151.52 594.5,151.83 594.0,152.13 593.5,152.44 593.0,152.75 592.5,153.07 592.0,153.39 591.5,153.71 591.0,154.04 590.5,154.36 590.0,154.69 589.5,155.01 589.0,155.34 588.5,155.66 588.0,155.98 587.5,156.30 587.0,156.61 586.5,156.91 586.0,157.20 585.5,157.48 585.0,157.75 584.5,158.02 584.0,158.26 583.5,158.49 583.0,158.71 582.5,158.92 582.0,159.12 581.5,159.32 581.0,159.53 580.5,159.74 580.0,159.94 579.5,160.14 579.0,160.33 578.5,160.53 578.0,160.72 577.5,160.91 577.0,161.10 576.5,161.29 576.0,161.47 575.5,161.66 575.0,161.85 574.5,162.04 574.0,162.23 573.5,162.43 573.0,162.63 572.5,162.83 572.0,163.03 571.5,163.24 571.0,163.44 570.5,163.64 570.0,163.84 569.5,164.04 569.0,164.24 568.5,164.42 568.0,164.61 567.5,164.78 567.0,164.94 566.5,165.10 566.0,165.25 565.5,165.39 565.0,165.53 564.5,165.67 564.0,165.79 563.5,165.92 563.0,166.03 562.5,166.15 562.0,166.26 561.5,166.36 561.0,166.47 560.5,166.57 560.0,166.67 559.5,166.76 559.0,166.85 558.5,166.93 558.0,167.01 557.5,167.08 557.0,167.15 556.5,167.22 556.0,167.29 555.5,167.35 555.0,167.41 554.5,167.48 554.0,167.54 553.5,167.61 553.0,167.68 552.5,167.75 552.0,167.82 551.5,167.89 551.0,167.96 550.5,168.03 550.0,168.10 549.5,168.17 549.0,168.24 548.5,168.31 548.0,168.38 547.5,168.45 547.0,168.53 546.5,168.60 546.0,168.67 545.5,168.75 545.0,168.83 544.5,168.90 544.0,168.98 543.5,169.06 543.0,169.14 542.5,169.22 542.0,169.30 541.5,169.38 541.0,169.46 540.5,169.54 540.0,169.62 539.5,169.70 539.0,169.77 538.5,169.85 538.0,169.92 537.5,169.99 537.0,170.07 536.5,170.14 536.0,170.21 535.5,170.28 535.0,170.35 534.5,170.42 534.0,170.49 533.5,170.56 533.0,170.63 532.5,170.70 532.0,170.77 531.5,170.85 531.0,170.92 530.5,170.99 530.0,171.07 529.5,171.14 529.0,171.21 528.5,171.28 528.0,171.36 527.5,171.43 527.0,171.51 526.5,171.59 526.0,171.68 525.5,171.77 525.0,171.87 524.5,171.97 524.0,172.07 523.5,172.18 523.0,172.29 522.5,172.41 522.0,172.53 521.5,172.65 521.0,172.77 520.5,172.90 520.0,173.02 519.5,173.15 519.0,173.29 518.5,173.42 518.0,173.55 517.5,173.69 517.0,173.83 516.5,173.98 516.0,174.13 515.5,174.28 515.0,174.44 514.5,174.59 514.0,174.75 513.5,174.91 513.0,175.06 512.5,175.21 512.0,175.36 511.5,175.51 511.0,175.65 510.5,175.79 510.0,175.93 509.5,176.07 509.0,176.20 508.5,176.34 508.0,176.47 507.5,176.61 507.0,176.74 506.5,176.87 506.0,177.01 505.5,177.14 505.0,177.27 504.5,177.41 504.0,177.54 503.5,177.67 503.0,177.81 502.5,177.94 502.0,178.08 501.5,178.21 501.0,178.35 500.5,178.49 500.0,178.63 499.5,178.78 499.0,178.92 498.5,179.07 498.0,179.21 497.5,179.36 497.0,179.51 496.5,179.66 496.0,179.81 495.5,179.96 495.0,180.11 494.5,180.25 494.0,180.40 493.5,180.55 493.0,180.70 492.5,180.84 492.0,180.99 491.5,181.14 491.0,181.29 490.5,181.44 490.0,181.58 489.5,181.73 489.0,181.88 488.5,182.02 488.0,182.17 487.5,182.31 487.0,182.45 486.5,182.59 486.0,182.73 485.5,182.87 485.0,183.01 484.5,183.15 484.0,183.29 483.5,183.42 483.0,183.54 482.5,183.66 482.0,183.76 481.5,183.86 481.0,183.95 480.5,184.04 480.0,184.12 479.5,184.19 479.0,184.26 478.5,184.32 478.0,184.38 477.5,184.43 477.0,184.48 476.5,184.53 476.0,184.57 475.5,184.61 475.0,184.65 474.5,184.67 474.0,184.70 473.5,184.73 473.0,184.75 472.5,184.77 472.0,184.79 471.5,184.81 471.0,184.84 470.5,184.86 470.0,184.88 469.5,184.90 469.0,184.91 468.5,184.93 468.0,184.94 467.5,184.94 467.0,184.95 466.5,184.95 466.0,184.95 465.5,184.95 465.0,184.94 464.5,184.94 464.0,184.93 463.5,184.92 463.0,184.91 462.5,184.89 462.0,184.88 461.5,184.87 461.0,184.85 460.5,184.84" fill="rgba(0,255,0,0.6)"/><polyline points="460.5,184.82 461.0,184.80 461.5,184.78 462.0,184.76 462.5,184.73 463.0,184.71 463.5,184.68 464.0,184.66 464.5,184.62 465.0,184.59 465.5,184.55 466.0,184.50 466.5,184.45 467.0,184.40 467.5,184.34 468.0,184.28 468.5,184.21 469.0,184.14 469.5,184.07 470.0,183.98 470.5,183.90 471.0,183.80 471.5,183.70 472.0,183.58 472.5,183.46 473.0,183.33 473.5,183.20 474.0,183.06 474.5,182.92 475.0,182.78 475.5,182.64 476.0,182.50 476.5,182.36 477.0,182.22 477.5,182.07 478.0,181.93 478.5,181.78 479.0,181.63 479.5,181.49 480.0,181.34 480.5,181.19 481.0,181.04 481.5,180.89 482.0,180.75 482.5,180.60 483.0,180.45 483.5,180.30 484.0,180.16 484.5,180.01 485.0,179.86 485.5,179.71 486.0,179.56 486.5,179.41 487.0,179.26 487.5,179.12 488.0,178.97 488.5,178.83 489.0,178.68 489.5,178.54 490.0,178.40 490.5,178.26 491.0,178.12 491.5,177.99 492.0,177.85 492.5,177.72 493.0,177.58 493.5,177.45 494.0,177.32 494.5,177.18 495.0,177.05 495.5,176.92 496.0,176.79 496.5,176.65 497.0,176.52 497.5,176.39 498.0,176.25 498.5,176.11 499.0,175.98 499.5,175.84 500.0,175.70 500.5,175.56 501.0,175.41 501.5,175.26 502.0,175.11 502.5,174.96 503.0,174.80 503.5,174.65 504.0,174.49 504.5,174.33 505.0,174.18 505.5,174.03 506.0,173.88 506.5,173.74 507.0,173.60 507.5,173.46 508.0,173.33 508.5,173.20 509.0,173.07 509.5,172.94 510.0,172.81 510.5,172.69 511.0,172.57 511.5,172.45 512.0,172.33 512.5,172.22 513.0,172.11 513.5,172.00 514.0,171.90 514.5,171.80 515.0,171.71 515.5,171.62 516.0,171.54 516.5,171.46 517.0,171.38 517.5,171.31 518.0,171.23 518.5,171.16 519.0,171.09 519.5,171.02 520.0,170.95 520.5,170.87 521.0,170.80 521.5,170.73 522.0,170.65 522.5,170.58 523.0,170.51 523.5,170.44 524.0,170.37 524.5,170.30 525.0,170.23 525.5,170.16 526.0,170.09 526.5,170.02 527.0,169.95 527.5,169.87 528.0,169.80 528.5,169.72 529.0,169.65 529.5,169.57 530.0,169.49 530.5,169.41 531.0,169.33 531.5,169.25 532.0,169.17 532.5,169.09 533.0,169.01 533.5,168.93 534.0,168.85 534.5,168.78 535.0,168.70 535.5,168.63 536.0,168.55 536.5,168.48 537.0,168.41 537.5,168.34 538.0,168.26 538.5,168.19 539.0,168.12 539.5,168.05 540.0,167.98 540.5,167.91 541.0,167.84 541.5,167.77 542.0,167.70 542.5,167.63 543.0,167.56 543.5,167.50 544.0,167.43 544.5,167.37 545.0,167.31 545.5,167.24 546.0,167.18 546.5,167.11 547.0,167.04 547.5,166.96 548.0,166.88 548.5,166.79 549.0,166.70 549.5,166.60 550.0,166.50 550.5,166.40 551.0,166.29 551.5,166.19 552.0,166.07 552.5,165.96 553.0,165.84 553.5,165.71 554.0,165.58 554.5,165.44 555.0,165.30 555.5,165.15 556.0,165.00 556.5,164.84 557.0,164.67 557.5,164.49 558.0,164.30 558.5,164.11 559.0,163.91 559.5,163.71 560.0,163.51 560.5,163.31 561.0,163.10 561.5,162.90 562.0,162.69 562.5,162.50 563.0,162.30 563.5,162.11 564.0,161.92 564.5,161.73 565.0,161.54 565.5,161.35 566.0,161.16 566.5,160.97 567.0,160.78 567.5,160.59 568.0,160.40 568.5,160.20 569.0,160.01 569.5,159.81 570.0,159.60 570.5,159.39 571.0,159.19 571.5,158.99 572.0,158.78 572.5,158.57 573.0,158.34 573.5,158.10 574.0,157.85 574.5,157.58 575.0,157.30 575.5,157.01 576.0,156.71 576.5,156.40 577.0,156.09 577.5,155.77 578.0,155.45 578.5,155.12 579.0,154.80 579.5,154.47 580.0,154.15 580.5,153.82 581.0,153.50 581.5,153.18 582.0,152.86 582.5,152.55 583.0,152.24 583.5,151.93 584.0,151.62 584.5,151.32 585.0,151.01 585.5,150.71 586.0,150.40 586.5,150.10 587.0,149.80 587.5,149.50 588.0,149.21 588.5,148.91 589.0,148.62 589.5,148.33 590.0,148.05 590.5,147.77 591.0,147.49 591.5,147.21 592.0,146.94 592.5,146.67 593.0,146.40 593.5,146.13 594.0,145.87 594.5,145.60 595.0,145.35 595.5,145.09 596.0,144.84 596.5,144.59 597.0,144.35 597.5,144.11 598.0,143.88 598.5,143.65 599.0,143.42 599.5,143.21 600.0,143.00 600.5,142.79 601.0,142.59 601.5,142.40 602.0,142.21 602.5,142.02 603.0,141.83 603.5,141.64 604.0,141.46 604.5,141.27 605.0,141.08 605.5,140.89 606.0,140.70 606.5,140.50 607.0,140.30 607.5,140.10 608.0,139.89 608.5,139.69 609.0,139.48 609.5,139.27 610.0,139.07 610.5,138.86 611.0,138.65 611.5,138.45 612.0,138.25 612.5,138.04 613.0,137.84 613.5,137.65 614.0,137.45 614.5,137.26 615.0,137.07 615.5,136.89 616.0,136.71 616.5,136.52 617.0,136.35 617.5,136.17 618.0,135.99 618.5,135.82 619.0,135.64 619.5,135.47 620.0,135.30 620.5,135.12 621.0,134.95 621.5,134.78 622.0,134.60 622.5,134.43 623.0,134.25 623.5,134.08 624.0,133.90 624.5,133.72 625.0,133.54 625.5,133.37 626.0,133.19 626.5,133.01 627.0,132.84 627.5,132.67 628.0,132.50 628.5,132.34 629.0,132.17 629.5,132.01 630.0,131.86 630.5,131.71 631.0,131.56 631.5,131.42 632.0,131.28 632.5,131.14 633.0,131.00 633.5,130.86 634.0,130.73 634.5,130.60 635.0,130.48 635.5,130.36 636.0,130.24 636.5,130.12 637.0,130.01 637.5,129.90 638.0,129.80 638.5,129.70 639.0,129.61 639.5,129.51 640.0,129.43 640.5,129.34 641.0,129.26 641.5,129.19 642.0,129.11 642.5,129.04 643.0,128.97 643.5,128.90 644.0,128.84 644.5,128.77 645.0,128.71 645.5,128.65 646.0,128.59 646.5,128.53 647.0,128.47 647.5,128.42 648.0,128.36 648.5,128.31 649.0,128.26 649.5,128.22 650.0,128.17 650.5,128.13 651.0,128.09 651.5,128.05 652.0,128.01 652.5,127.98 653.0,127.94 653.5,127.92 654.0,127.89 654.5,127.87 655.0,127.85 655.5,127.84 656.0,127.83 656.5,127.83 657.0,127.83 657.5,127.84 658.0,127.85 658.5,127.86 659.0,127.87 659.5,127.88 660.0,127.90 660.5,127.92 661.0,127.94 661.5,127.96 662.0,127.99 662.5,128.02 663.0,128.05" fill="none" stroke="rgba(0,255,0,0.5)" stroke-width="1"/><polyline points="460.5,184.84 461.0,184.85 461.5,184.87 462.0,184.88 462.5,184.89 463.0,184.91 463.5,184.92 464.0,184.93 464.5,184.94 465.0,184.94 465.5,184.95 466.0,184.95 466.5,184.95 467.0,184.95 467.5,184.94 468.0,184.94 468.5,184.93 469.0,184.91 469.5,184.90 470.0,184.88 470.5,184.86 471.0,184.84 471.5,184.81 472.0,184.79 472.5,184.77 473.0,184.75 473.5,184.73 474.0,184.70 474.5,184.67 475.0,184.65 475.5,184.61 476.0,184.57 476.5,184.53 477.0,184.48 477.5,184.43 478.0,184.38 478.5,184.32 479.0,184.26 479.5,184.19 480.0,184.12 480.5,184.04 481.0,183.95 481.5,183.86 482.0,183.76 482.5,183.66 483.0,183.54 483.5,183.42 484.0,183.29 484.5,183.15 485.0,183.01 485.5,182.87 486.0,182.73 486.5,182.59 487.0,182.45 487.5,182.31 488.0,182.17 488.5,182.02 489.0,181.88 489.5,181.73 490.0,181.58 490.5,181.44 491.0,181.29 491.5,181.14 492.0,180.99 492.5,180.84 493.0,180.70 493.5,180.55 494.0,180.40 494.5,180.25 495.0,180.11 495.5,179.96 496.0,179.81 496.5,179.66 497.0,179.51 497.5,179.36 498.0,179.21 498.5,179.07 499.0,178.92 499.5,178.78 500.0,178.63 500.5,178.49 501.0,178.35 501.5,178.21 502.0,178.08 502.5,177.94 503.0,177.81 503.5,177.67 504.0,177.54 504.5,177.41 505.0,177.27 505.5,177.14 506.0,177.01 506.5,176.87 507.0,176.74 507.5,176.61 508.0,176.47 508.5,176.34 509.0,176.20 509.5,176.07 510.0,175.93 510.5,175.79 511.0,175.65 511.5,175.51 512.0,175.36 512.5,175.21 513.0,175.06 513.5,174.91 514.0,174.75 514.5,174.59 515.0,174.44 515.5,174.28 516.0,174.13 516.5,173.98 517.0,173.83 517.5,173.69 518.0,173.55 518.5,173.42 519.0,173.29 519.5,173.15 520.0,173.02 520.5,172.90 521.0,172.77 521.5,172.65 522.0,172.53 522.5,172.41 523.0,172.29 523.5,172.18 524.0,172.07 524.5,171.97 525.0,171.87 525.5,171.77 526.0,171.68 526.5,171.59 527.0,171.51 527.5,171.43 528.0,171.36 528.5,171.28 529.0,171.21 529.5,171.14 530.0,171.07 530.5,170.99 531.0,170.92 531.5,170.85 532.0,170.77 532.5,170.70 533.0,170.63 533.5,170.56 534.0,170.49 534.5,170.42 535.0,170.35 535.5,170.28 536.0,170.21 536.5,170.14 537.0,170.07 537.5,169.99 538.0,169.92 538.5,169.85 539.0,169.77 539.5,169.70 540.0,169.62 540.5,169.54 541.0,169.46 541.5,169.38 542.0,169.30 542.5,169.22 543.0,169.14 543.5,169.06 544.0,168.98 544.5,168.90 545.0,168.83 545.5,168.75 546.0,168.67 546.5,168.60 547.0,168.53 547.5,168.45 548.0,168.38 548.5,168.31 549.0,168.24 549.5,168.17 550.0,168.10 550.5,168.03 551.0,167.96 551.5,167.89 552.0,167.82 552.5,167.75 553.0,167.68 553.5,167.61 554.0,167.54 554.5,167.48 555.0,167.41 555.5,167.35 556.0,167.29 556.5,167.22 557.0,167.15 557.5,167.08 558.0,167.01 558.5,166.93 559.0,166.85 559.5,166.76 560.0,166.67 560.5,166.57 561.0,166.47 561.5,166.36 562.0,166.26 562.5,166.15 563.0,166.03 563.5,165.92 564.0,165.79 564.5,165.67 565.0,165.53 565.5,165.39 566.0,165.25 566.5,165.10 567.0,164.94 567.5,164.78 568.0,164.61 568.5,164.42 569.0,164.24 569.5,164.04 570.0,163.84 570.5,163.64 571.0,163.44 571.5,163.24 572.0,163.03 572.5,162.83 573.0,162.63 573.5,162.43 574.0,162.23 574.5,162.04 575.0,161.85 575.5,161.66 576.0,161.47 576.5,161.29 577.0,161.10 577.5,160.91 578.0,160.72 578.5,160.53 579.0,160.33 579.5,160.14 580.0,159.94 580.5,159.74 581.0,159.53 581.5,159.32 582.0,159.12 582.5,158.92 583.0,158.71 583.5,158.49 584.0,158.26 584.5,158.02 585.0,157.75 585.5,157.48 586.0,157.20 586.5,156.91 587.0,156.61 587.5,156.30 588.0,155.98 588.5,155.66 589.0,155.34 589.5,155.01 590.0,154.69 590.5,154.36 591.0,154.04 591.5,153.71 592.0,153.39 592.5,153.07 593.0,152.75 593.5,152.44 594.0,152.13 594.5,151.83 595.0,151.52 595.5,151.21 596.0,150.91 596.5,150.60 597.0,150.30 597.5,150.00 598.0,149.70 598.5,149.40 599.0,149.11 599.5,148.81 600.0,148.52 600.5,148.24 601.0,147.95 601.5,147.67 602.0,147.40 602.5,147.12 603.0,146.85 603.5,146.58 604.0,146.31 604.5,146.04 605.0,145.78 605.5,145.52 606.0,145.26 606.5,145.00 607.0,144.75 607.5,144.51 608.0,144.27 608.5,144.03 609.0,143.80 609.5,143.57 610.0,143.35 610.5,143.13 611.0,142.93 611.5,142.72 612.0,142.53 612.5,142.33 613.0,142.14 613.5,141.95 614.0,141.77 614.5,141.58 615.0,141.39 615.5,141.21 616.0,141.02 616.5,140.82 617.0,140.63 617.5,140.43 618.0,140.23 618.5,140.03 619.0,139.82 619.5,139.62 620.0,139.41 620.5,139.20 621.0,139.00 621.5,138.79 622.0,138.58 622.5,138.38 623.0,138.18 623.5,137.98 624.0,137.78 624.5,137.58 625.0,137.39 625.5,137.20 626.0,137.01 626.5,136.83 627.0,136.64 627.5,136.46 628.0,136.28 628.5,136.11 629.0,135.93 629.5,135.76 630.0,135.58 630.5,135.41 631.0,135.24 631.5,135.06 632.0,134.89 632.5,134.72 633.0,134.55 633.5,134.37 634.0,134.19 634.5,134.02 635.0,133.84 635.5,133.66 636.0,133.48 636.5,133.31 637.0,133.13 637.5,132.96 638.0,132.78 638.5,132.61 639.0,132.44 639.5,132.28 640.0,132.12 640.5,131.96 641.0,131.81 641.5,131.66 642.0,131.51 642.5,131.37 643.0,131.23 643.5,131.09 644.0,130.95 644.5,130.82 645.0,130.69 645.5,130.56 646.0,130.44 646.5,130.32 647.0,130.20 647.5,130.09 648.0,129.97 648.5,129.87 649.0,129.77 649.5,129.67 650.0,129.57 650.5,129.48 651.0,129.40 651.5,129.32 652.0,129.24 652.5,129.16 653.0,129.09 653.5,129.01 654.0,128.95 654.5,128.88 655.0,128.81 655.5,128.75 656.0,128.69 656.5,128.63 657.0,128.57 657.5,128.51 658.0,128.45 658.5,128.40 659.0,128.35 659.5,128.30 660.0,128.25 660.5,128.20 661.0,128.16 661.5,128.11 662.0,128.07 662.5,128.03 663.0,128.00" fill="none" stroke="rgba(0,255,0,0.5)" stroke-width="1"/><polygon points="663.0,128.05 663.5,128.09 664.0,128.12 664.5,128.15 665.0,128.19 665.5,128.22 666.0,128.25 666.5,128.28 667.0,128.30 667.5,128.32 668.0,128.35 668.5,128.37 669.0,128.39 669.5,128.41 670.0,128.43 670.5,128.45 671.0,128.47 671.5,128.48 672.0,128.49 672.5,128.50 673.0,128.50 673.5,128.50 674.0,128.50 674.5,128.49 675.0,128.48 675.5,128.46 676.0,128.45 676.5,128.43 677.0,128.41 677.5,128.40 678.0,128.38 678.5,128.36 679.0,128.35 679.0,128.35 678.5,128.33 678.0,128.31 677.5,128.28 677.0,128.26 676.5,128.23 676.0,128.20 675.5,128.16 675.0,128.13 674.5,128.10 674.0,128.07 673.5,128.03 673.0,128.00 672.5,127.97 672.0,127.95 671.5,127.93 671.0,127.91 670.5,127.89 670.0,127.88 669.5,127.86 669.0,127.85 668.5,127.84 668.0,127.83 667.5,127.83 667.0,127.83 666.5,127.84 666.0,127.85 665.5,127.86 665.0,127.88 664.5,127.91 664.0,127.93 663.5,127.96 663.0,128.00" fill="rgba(255,0,0,0.6)"/><polyline points="663.0,128.05 663.5,128.09 664.0,128.12 664.5,128.15 665.0,128.19 665.5,128.22 666.0,128.25 666.5,128.28 667.0,128.30 667.5,128.32 668.0,128.35 668.5,128.37 669.0,128.39 669.5,128.41 670.0,128.43 670.5,128.45 671.0,128.47 671.5,128.48 672.0,128.49 672.5,128.50 673.0,128.50 673.5,128.50 674.0,128.50 674.5,128.49 675.0,128.48 675.5,128.46 676.0,128.45 676.5,128.43 677.0,128.41 677.5,128.40 678.0,128.38 678.5,128.36 679.0,128.35" fill="none" stroke="rgba(255,0,0,0.5)" stroke-width="1"/><polyline points="663.0,128.00 663.5,127.96 664.0,127.93 664.5,127.91 665.0,127.88 665.5,127.86 666.0,127.85 666.5,127.84 667.0,127.83 667.5,127.83 668.0,127.83 668.5,127.84 669.0,127.85 669.5,127.86 670.0,127.88 670.5,127.89 671.0,127.91 671.5,127.93 672.0,127.95 672.5,127.97 673.0,128.00 673.5,128.03 674.0,128.07 674.5,128.10 675.0,128.13 675.5,128.16 676.0,128.20 676.5,128.23 677.0,128.26 677.5,128.28 678.0,128.31 678.5,128.33 679.0,128.35" fill="none" stroke="rgba(255,0,0,0.5)" stroke-width="1"/><polygon points="679.0,128.35 679.5,128.34 680.0,128.32 680.5,128.31 681.0,128.29 681.5,128.27 682.0,128.26 682.5,128.24 683.0,128.23 683.5,128.21 684.0,128.21 684.5,128.20 685.0,128.20 685.5,128.20 686.0,128.21 686.5,128.22 687.0,128.23 687.5,128.25 688.0,128.27 688.5,128.30 689.0,128.33 689.5,128.36 689.5,128.36 689.0,128.37 688.5,128.39 688.0,128.41 687.5,128.42 687.0,128.44 686.5,128.46 686.0,128.47 685.5,128.48 685.0,128.49 684.5,128.50 684.0,128.50 683.5,128.50 683.0,128.49 682.5,128.48 682.0,128.47 681.5,128.46 681.0,128.44 680.5,128.42 680.0,128.40 679.5,128.38 679.0,128.35" fill="rgba(0,255,0,0.6)"/><polyline points="679.0,128.35 679.5,128.34 680.0,128.32 680.5,128.31 681.0,128.29 681.5,128.27 682.0,128.26 682.5,128.24 683.0,128.23 683.5,128.21 684.0,128.21 684.5,128.20 685.0,128.20 685.5,128.20 686.0,128.21 686.5,128.22 687.0,128.23 687.5,128.25 688.0,128.27 688.5,128.30 689.0,128.33 689.5,128.36" fill="none" stroke="rgba(0,255,0,0.5)" stroke-width="1"/><polyline points="679.0,128.35 679.5,128.38 680.0,128.40 680.5,128.42 681.0,128.44 681.5,128.46 682.0,128.47 682.5,128.48 683.0,128.49 683.5,128.50 684.0,128.50 684.5,128.50 685.0,128.49 685.5,128.48 686.0,128.47 686.5,128.46 687.0,128.44 687.5,128.42 688.0,128.41 688.5,128.39 689.0,128.37 689.5,128.36" fill="none" stroke="rgba(0,255,0,0.5)" stroke-width="1"/><polygon points="689.5,128.36 690.0,128.40 690.5,128.44 691.0,128.48 691.5,128.52 692.0,128.56 692.5,128.60 693.0,128.65 693.5,128.69 694.0,128.74 694.5,128.79 695.0,128.84 695.5,128.89 696.0,128.95 696.5,129.01 697.0,129.07 697.5,129.13 698.0,129.20 698.5,129.27 699.0,129.35 699.5,129.42 700.0,129.50 700.5,129.58 701.0,129.67 701.5,129.75 702.0,129.84 702.5,129.93 703.0,130.02 703.5,130.12 704.0,130.21 704.5,130.31 705.0,130.40 705.5,130.50 706.0,130.60 706.5,130.70 707.0,130.80 707.5,130.91 708.0,131.02 708.5,131.13 709.0,131.25 709.5,131.37 710.0,131.48 710.5,131.60 711.0,131.72 711.5,131.84 712.0,131.96 712.5,132.07 713.0,132.19 713.5,132.30 714.0,132.40 714.5,132.50 715.0,132.60 715.5,132.69 716.0,132.78 716.5,132.87 717.0,132.96 717.5,133.04 718.0,133.12 718.5,133.20 719.0,133.28 719.5,133.36 720.0,133.43 720.5,133.51 721.0,133.58 721.5,133.65 722.0,133.73 722.5,133.80 723.0,133.87 723.5,133.93 724.0,134.00 724.5,134.06 725.0,134.13 725.5,134.18 726.0,134.23 726.5,134.26 727.0,134.28 727.5,134.29 728.0,134.30 728.5,134.30 729.0,134.29 729.5,134.27 730.0,134.25 730.5,134.23 731.0,134.20 731.5,134.17 732.0,134.15 732.5,134.12 733.0,134.10 733.5,134.08 734.0,134.05 734.5,134.03 735.0,134.00 735.0,134.02 734.5,133.96 734.0,133.89 733.5,133.82 733.0,133.75 732.5,133.68 732.0,133.61 731.5,133.53 731.0,133.46 730.5,133.38 730.0,133.31 729.5,133.23 729.0,133.15 728.5,133.07 728.0,132.98 727.5,132.90 727.0,132.81 726.5,132.72 726.0,132.63 725.5,132.54 725.0,132.44 724.5,132.33 724.0,132.22 723.5,132.11 723.0,132.00 722.5,131.88 722.0,131.76 721.5,131.64 721.0,131.53 720.5,131.41 720.0,131.29 719.5,131.17 719.0,131.06 718.5,130.95 718.0,130.84 717.5,130.73 717.0,130.63 716.5,130.54 716.0,130.44 715.5,130.34 715.0,130.24 714.5,130.15 714.0,130.06 713.5,129.96 713.0,129.87 712.5,129.78 712.0,129.70 711.5,129.61 711.0,129.53 710.5,129.45 710.0,129.37 709.5,129.30 709.0,129.22 708.5,129.16 708.0,129.09 707.5,129.03 707.0,128.97 706.5,128.91 706.0,128.86 705.5,128.81 705.0,128.76 704.5,128.71 704.0,128.66 703.5,128.62 703.0,128.57 702.5,128.53 702.0,128.49 701.5,128.45 701.0,128.41 700.5,128.38 700.0,128.34 699.5,128.31 699.0,128.28 698.5,128.25 698.0,128.23 697.5,128.22 697.0,128.21 696.5,128.20 696.0,128.20 695.5,128.20 695.0,128.20 694.5,128.21 694.0,128.22 693.5,128.24 693.0,128.25 692.5,128.27 692.0,128.28 691.5,128.30 691.0,128.32 690.5,128.33 690.0,128.35 689.5,128.36" fill="rgba(255,0,0,0.6)"/><polyline points="689.5,128.36 690.0,128.40 690.5,128.44 691.0,128.48 691.5,128.52 692.0,128.56 692.5,128.60 693.0,128.65 693.5,128.69 694.0,128.74 694.5,128.79 695.0,128.84 695.5,128.89 696.0,128.95 696.5,129.01 697.0,129.07 697.5,129.13 698.0,129.20 698.5,129.27 699.0,129.35 699.5,129.42 700.0,129.50 700.5,129.58 701.0,129.67 701.5,129.75 702.0,129.84 702.5,129.93 703.0,130.02 703.5,130.12 704.0,130.21 704.5,130.31 705.0,130.40 705.5,130.50 706.0,130.60 706.5,130.70 707.0,130.80 707.5,130.91 708.0,131.02 708.5,131.13 709.0,131.25 709.5,131.37 710.0,131.48 710.5,131.60 711.0,131.72 711.5,131.84 712.0,131.96 712.5,132.07 713.0,132.19 713.5,132.30 714.0,132.40 714.5,132.50 715.0,132.60 715.5,132.69 716.0,132.78 716.5,132.87 717.0,132.96 717.5,133.04 718.0,133.12 718.5,133.20 719.0,133.28 719.5,133.36 720.0,133.43 720.5,133.51 721.0,133.58 721.5,133.65 722.0,133.73 722.5,133.80 723.0,133.87 723.5,133.93 724.0,134.00 724.5,134.06 725.0,134.13 725.5,134.18 726.0,134.23 726.5,134.26 727.0,134.28 727.5,134.29 728.0,134.30 728.5,134.30 729.0,134.29 729.5,134.27 730.0,134.25 730.5,134.23 731.0,134.20 731.5,134.17 732.0,134.15 732.5,134.12 733.0,134.10 733.5,134.08 734.0,134.05 734.5,134.03 735.0,134.00" fill="none" stroke="rgba(255,0,0,0.5)" stroke-width="1"/><polyline points="689.5,128.36 690.0,128.35 690.5,128.33 691.0,128.32 691.5,128.30 692.0,128.28 692.5,128.27 693.0,128.25 693.5,128.24 694.0,128.22 694.5,128.21 695.0,128.20 695.5,128.20 696.0,128.20 696.5,128.20 697.0,128.21 697.5,128.22 698.0,128.23 698.5,128.25 699.0,128.28 699.5,128.31 700.0,128.34 700.5,128.38 701.0,128.41 701.5,128.45 702.0,128.49 702.5,128.53 703.0,128.57 703.5,128.62 704.0,128.66 704.5,128.71 705.0,128.76 705.5,128.81 706.0,128.86 706.5,128.91 707.0,128.97 707.5,129.03 708.0,129.09 708.5,129.16 709.0,129.22 709.5,129.30 710.0,129.37 710.5,129.45 711.0,129.53 711.5,129.61 712.0,129.70 712.5,129.78 713.0,129.87 713.5,129.96 714.0,130.06 714.5,130.15 715.0,130.24 715.5,130.34 716.0,130.44 716.5,130.54 717.0,130.63 717.5,130.73 718.0,130.84 718.5,130.95 719.0,131.06 719.5,131.17 720.0,131.29 720.5,131.41 721.0,131.53 721.5,131.64 722.0,131.76 722.5,131.88 723.0,132.00 723.5,132.11 724.0,132.22 724.5,132.33 725.0,132.44 725.5,132.54 726.0,132.63 726.5,132.72 727.0,132.81 727.5,132.90 728.0,132.98 728.5,133.07 729.0,133.15 729.5,133.23 730.0,133.31 730.5,133.38 731.0,133.46 731.5,133.53 732.0,133.61 732.5,133.68 733.0,133.75 733.5,133.82 734.0,133.89 734.5,133.96 735.0,134.02" fill="none" stroke="rgba(255,0,0,0.5)" stroke-width="1"/><polygon points="735.0,134.00 735.5,133.98 736.0,133.95 736.5,133.93 737.0,133.90 737.5,133.88 738.0,133.86 738.5,133.84 739.0,133.82 739.5,133.81 740.0,133.80 740.5,133.79 741.0,133.79 741.5,133.79 742.0,133.80 742.5,133.80 743.0,133.81 743.5,133.82 744.0,133.83 744.5,133.85 745.0,133.86 745.5,133.88 746.0,133.90 746.5,133.92 747.0,133.95 747.0,133.94 746.5,133.97 746.0,134.00 745.5,134.02 745.0,134.05 744.5,134.07 744.0,134.09 743.5,134.11 743.0,134.14 742.5,134.16 742.0,134.19 741.5,134.22 741.0,134.24 740.5,134.27 740.0,134.29 739.5,134.30 739.0,134.30 738.5,134.30 738.0,134.29 737.5,134.27 737.0,134.24 736.5,134.20 736.0,134.15 735.5,134.09 735.0,134.02" fill="rgba(0,255,0,0.6)"/><polyline points="735.0,134.00 735.5,133.98 736.0,133.95 736.5,133.93 737.0,133.90 737.5,133.88 738.0,133.86 738.5,133.84 739.0,133.82 739.5,133.81 740.0,133.80 740.5,133.79 741.0,133.79 741.5,133.79 742.0,133.80 742.5,133.80 743.0,133.81 743.5,133.82 744.0,133.83 744.5,133.85 745.0,133.86 745.5,133.88 746.0,133.90 746.5,133.92 747.0,133.95" fill="none" stroke="rgba(0,255,0,0.5)" stroke-width="1"/><polyline points="735.0,134.02 735.5,134.09 736.0,134.15 736.5,134.20 737.0,134.24 737.5,134.27 738.0,134.29 738.5,134.30 739.0,134.30 739.5,134.30 740.0,134.29 740.5,134.27 741.0,134.24 741.5,134.22 742.0,134.19 742.5,134.16 743.0,134.14 743.5,134.11 744.0,134.09 744.5,134.07 745.0,134.05 745.5,134.02 746.0,134.00 746.5,133.97 747.0,133.94" fill="none" stroke="rgba(0,255,0,0.5)" stroke-width="1"/><polygon points="747.0,133.95 747.5,133.99 748.0,134.03 748.5,134.08 749.0,134.12 749.5,134.16 750.0,134.20 750.5,134.23 751.0,134.27 751.5,134.30 752.0,134.33 752.5,134.37 753.0,134.40 753.5,134.43 754.0,134.47 754.5,134.50 755.0,134.53 755.5,134.57 756.0,134.60 756.5,134.63 757.0,134.65 757.5,134.66 758.0,134.68 758.5,134.71 759.0,134.76 759.5,134.83 760.0,134.90 760.5,134.98 761.0,135.06 761.5,135.14 762.0,135.23 762.5,135.31 763.0,135.40 763.5,135.49 764.0,135.58 764.5,135.67 765.0,135.77 765.5,135.87 766.0,135.98 766.5,136.09 767.0,136.20 767.5,136.32 768.0,136.44 768.5,136.57 769.0,136.71 769.5,136.86 770.0,137.01 770.5,137.18 771.0,137.34 771.5,137.52 772.0,137.69 772.5,137.87 773.0,138.06 773.5,138.24 774.0,138.43 774.5,138.61 775.0,138.80 775.5,138.99 776.0,139.17 776.5,139.35 777.0,139.53 777.5,139.71 778.0,139.88 778.5,140.06 779.0,140.23 779.5,140.41 780.0,140.59 780.5,140.77 781.0,140.95 781.5,141.12 782.0,141.30 782.5,141.48 783.0,141.65 783.5,141.82 784.0,142.00 784.5,142.17 785.0,142.33 785.5,142.50 786.0,142.67 786.5,142.83 787.0,142.99 787.5,143.15 788.0,143.31 788.5,143.47 789.0,143.63 789.5,143.79 790.0,143.94 790.5,144.09 791.0,144.25 791.5,144.40 792.0,144.54 792.5,144.69 793.0,144.83 793.5,144.98 794.0,145.12 794.5,145.25 795.0,145.39 795.5,145.52 796.0,145.65 796.5,145.77 797.0,145.89 797.5,146.02 798.0,146.13 798.5,146.25 799.0,146.37 799.5,146.49 800.0,146.60 800.5,146.72 801.0,146.84 801.5,146.96 802.0,147.08 802.5,147.20 803.0,147.33 803.5,147.45 804.0,147.58 804.5,147.70 805.0,147.83 805.5,147.96 806.0,148.09 806.5,148.22 807.0,148.35 807.5,148.48 808.0,148.61 808.5,148.74 809.0,148.86 809.5,148.99 810.0,149.12 810.5,149.25 811.0,149.37 811.5,149.50 812.0,149.62 812.5,149.75 813.0,149.87 813.5,149.99 814.0,150.11 814.5,150.24 815.0,150.36 815.5,150.48 816.0,150.60 816.5,150.72 817.0,150.84 817.5,150.96 818.0,151.08 818.5,151.20 819.0,151.33 819.5,151.45 820.0,151.58 820.5,151.70 821.0,151.83 821.5,151.95 822.0,152.08 822.5,152.21 823.0,152.34 823.5,152.47 824.0,152.60 824.5,152.73 825.0,152.86 825.5,152.98 826.0,153.11 826.5,153.24 827.0,153.37 827.5,153.50 828.0,153.62 828.5,153.75 829.0,153.88 829.5,154.00 830.0,154.13 830.5,154.25 831.0,154.38 831.5,154.51 832.0,154.63 832.5,154.76 833.0,154.88 833.5,155.00 834.0,155.13 834.5,155.25 835.0,155.37 835.5,155.49 836.0,155.61 836.5,155.72 837.0,155.83 837.5,155.94 838.0,156.05 838.5,156.15 839.0,156.25 839.5,156.35 840.0,156.45 840.5,156.54 841.0,156.63 841.5,156.73 842.0,156.82 842.5,156.91 843.0,157.00 843.5,157.10 844.0,157.20 844.5,157.30 845.0,157.40 845.5,157.51 846.0,157.62 846.5,157.73 847.0,157.84 847.5,157.94 848.0,158.04 848.5,158.14 849.0,158.24 849.5,158.35 850.0,158.45 850.5,158.56 851.0,158.68 851.5,158.81 852.0,158.94 852.5,159.08 853.0,159.24 853.5,159.41 854.0,159.60 854.5,159.80 855.0,160.02 855.5,160.25 856.0,160.49 856.5,160.74 857.0,161.01 857.5,161.28 858.0,161.58 858.5,161.88 859.0,162.20 859.5,162.54 860.0,162.90 860.5,163.27 861.0,163.66 861.5,164.07 862.0,164.50 862.5,164.95 863.0,165.42 863.5,165.91 864.0,166.41 864.5,166.94 865.0,167.49 865.5,168.06 866.0,168.65 866.5,169.25 867.0,169.87 867.5,170.51 868.0,171.16 868.5,171.82 869.0,172.50 869.5,173.20 870.0,173.92 870.5,174.67 871.0,175.44 871.5,176.23 872.0,177.03 872.5,177.84 873.0,178.66 873.5,179.48 874.0,180.30 874.5,181.12 875.0,181.93 875.5,182.73 876.0,183.53 876.5,184.31 877.0,185.09 877.5,185.86 878.0,186.63 878.5,187.41 879.0,188.18 879.5,188.95 880.0,189.71 880.5,190.48 881.0,191.25 881.5,192.02 882.0,192.78 882.5,193.55 883.0,194.31 883.5,195.08 884.0,195.85 884.5,196.61 885.0,197.37 885.5,198.13 886.0,198.88 886.5,199.63 887.0,200.38 887.5,201.13 888.0,201.89 888.5,202.65 889.0,203.43 889.5,204.21 890.0,205.00 890.5,205.80 891.0,206.62 891.5,207.45 892.0,208.28 892.5,209.12 893.0,209.96 893.5,210.80 894.0,211.65 894.5,212.49 895.0,213.33 895.5,214.17 896.0,215.00 896.5,215.84 897.0,216.68 897.5,217.54 898.0,218.40 898.5,219.27 899.0,220.12 899.5,220.97 900.0,221.81 900.5,222.63 901.0,223.43 901.5,224.22 902.0,224.97 902.5,225.71 903.0,226.42 903.5,227.11 904.0,227.78 904.5,228.44 905.0,229.08 905.5,229.71 906.0,230.34 906.5,230.95 907.0,231.56 907.5,232.17 908.0,232.78 908.5,233.38 909.0,233.98 909.5,234.58 910.0,235.18 910.5,235.79 911.0,236.40 911.5,237.02 912.0,237.66 912.5,238.29 913.0,238.94 913.5,239.58 914.0,240.22 914.5,240.85 915.0,241.46 915.5,242.06 916.0,242.63 916.5,243.17 917.0,243.69 917.5,244.19 918.0,244.67 918.5,245.13 919.0,245.57 919.5,246.01 920.0,246.43 920.5,246.84 921.0,247.25 921.5,247.65 922.0,248.05 922.5,248.44 923.0,248.83 923.5,249.21 924.0,249.60 924.5,249.98 925.0,250.37 925.5,250.76 926.0,251.15 926.5,251.55 927.0,251.94 927.5,252.34 928.0,252.73 928.5,253.11 929.0,253.48 929.5,253.83 930.0,254.16 930.5,254.46 931.0,254.74 931.5,254.99 932.0,255.22 932.5,255.42 933.0,255.59 933.5,255.75 934.0,255.89 934.5,256.02 935.0,256.14 935.5,256.25 936.0,256.35 936.5,256.45 937.0,256.54 937.5,256.64 938.0,256.72 938.5,256.79 939.0,256.84 939.5,256.87 940.0,256.90 940.5,256.92 941.0,256.94 941.5,256.97 942.0,257.00 942.5,257.04 943.0,257.08 943.5,257.12 944.0,257.17 944.5,257.21 945.0,257.24 945.5,257.27 946.0,257.29 946.5,257.30 947.0,257.30 947.5,257.30 948.0,257.30 948.5,257.30 949.0,257.29 949.5,257.28 950.0,257.25 950.5,257.22 951.0,257.17 951.5,257.12 952.0,257.05 952.5,256.98 952.5,256.98 952.0,256.95 951.5,256.93 951.0,256.91 950.5,256.88 950.0,256.85 949.5,256.80 949.0,256.74 948.5,256.67 948.0,256.57 947.5,256.48 947.0,256.38 946.5,256.28 946.0,256.18 945.5,256.06 945.0,255.94 944.5,255.80 944.0,255.65 943.5,255.48 943.0,255.29 942.5,255.07 942.0,254.83 941.5,254.56 941.0,254.26 940.5,253.94 940.0,253.60 939.5,253.24 939.0,252.86 938.5,252.47 938.0,252.08 937.5,251.68 937.0,251.29 936.5,250.89 936.0,250.50 935.5,250.11 935.0,249.73 934.5,249.34 934.0,248.96 933.5,248.57 933.0,248.18 932.5,247.79 932.0,247.39 931.5,246.98 931.0,246.57 930.5,246.15 930.0,245.72 929.5,245.28 929.0,244.83 928.5,244.36 928.0,243.87 927.5,243.35 927.0,242.82 926.5,242.26 926.0,241.67 925.5,241.06 925.0,240.44 924.5,239.80 924.0,239.16 923.5,238.51 923.0,237.87 922.5,237.24 922.0,236.61 921.5,236.00 921.0,235.39 920.5,234.78 920.0,234.18 919.5,233.58 919.0,232.98 918.5,232.38 918.0,231.77 917.5,231.16 917.0,230.55 916.5,229.92 916.0,229.30 915.5,228.66 915.0,228.01 914.5,227.34 914.0,226.66 913.5,225.96 913.0,225.23 912.5,224.48 912.0,223.70 911.5,222.90 911.0,222.09 910.5,221.26 910.0,220.41 909.5,219.56 909.0,218.70 908.5,217.83 908.0,216.98 907.5,216.12 907.0,215.28 906.5,214.45 906.0,213.62 905.5,212.78 905.0,211.94 904.5,211.09 904.0,210.25 903.5,209.40 903.0,208.56 902.5,207.73 902.0,206.90 901.5,206.08 901.0,205.27 900.5,204.48 900.0,203.69 899.5,202.92 899.0,202.15 898.5,201.39 898.0,200.64 897.5,199.89 897.0,199.13 896.5,198.38 896.0,197.63 895.5,196.87 895.0,196.11 894.5,195.34 894.0,194.58 893.5,193.81 893.0,193.04 892.5,192.28 892.0,191.51 891.5,190.74 891.0,189.98 890.5,189.21 890.0,188.44 889.5,187.67 889.0,186.90 888.5,186.12 888.0,185.35 887.5,184.58 887.0,183.80 886.5,183.01 886.0,182.21 885.5,181.39 885.0,180.58 884.5,179.76 884.0,178.93 883.5,178.11 883.0,177.30 882.5,176.50 882.0,175.71 881.5,174.93 881.0,174.18 880.5,173.44 880.0,172.74 879.5,172.05 879.0,171.39 878.5,170.73 878.0,170.09 877.5,169.46 877.0,168.85 876.5,168.26 876.0,167.69 875.5,167.13 875.0,166.59 874.5,166.08 874.0,165.58 873.5,165.11 873.0,164.65 872.5,164.22 872.0,163.80 871.5,163.40 871.0,163.02 870.5,162.66 870.0,162.32 869.5,161.99 869.0,161.68 868.5,161.38 868.0,161.10 867.5,160.83 867.0,160.57 866.5,160.33 866.0,160.10 865.5,159.87 865.0,159.66 864.5,159.47 864.0,159.30 863.5,159.14 863.0,158.99 862.5,158.85 862.0,158.72 861.5,158.60 861.0,158.49 860.5,158.38 860.0,158.28 859.5,158.18 859.0,158.08 858.5,157.97 858.0,157.87 857.5,157.77 857.0,157.66 856.5,157.55 856.0,157.44 855.5,157.33 855.0,157.23 854.5,157.13 854.0,157.04 853.5,156.94 853.0,156.85 852.5,156.76 852.0,156.66 851.5,156.57 851.0,156.48 850.5,156.38 850.0,156.29 849.5,156.19 849.0,156.09 848.5,155.98 848.0,155.87 847.5,155.76 847.0,155.64 846.5,155.53 846.0,155.41 845.5,155.29 845.0,155.17 844.5,155.05 844.0,154.92 843.5,154.80 843.0,154.67 842.5,154.55 842.0,154.42 841.5,154.30 841.0,154.17 840.5,154.04 840.0,153.92 839.5,153.79 839.0,153.67 838.5,153.54 838.0,153.41 837.5,153.29 837.0,153.16 836.5,153.03 836.0,152.90 835.5,152.77 835.0,152.64 834.5,152.51 834.0,152.38 833.5,152.25 833.0,152.12 832.5,152.00 832.0,151.87 831.5,151.74 831.0,151.62 830.5,151.49 830.0,151.37 829.5,151.25 829.0,151.12 828.5,151.00 828.0,150.88 827.5,150.76 827.0,150.64 826.5,150.52 826.0,150.40 825.5,150.28 825.0,150.16 824.5,150.03 824.0,149.91 823.5,149.79 823.0,149.67 822.5,149.54 822.0,149.42 821.5,149.29 821.0,149.16 820.5,149.04 820.0,148.91 819.5,148.78 819.0,148.65 818.5,148.52 818.0,148.39 817.5,148.26 817.0,148.13 816.5,148.00 816.0,147.88 815.5,147.75 815.0,147.62 814.5,147.49 814.0,147.37 813.5,147.24 813.0,147.12 812.5,147.00 812.0,146.88 811.5,146.76 811.0,146.64 810.5,146.53 810.0,146.41 809.5,146.29 809.0,146.17 808.5,146.06 808.0,145.94 807.5,145.81 807.0,145.69 806.5,145.56 806.0,145.43 805.5,145.30 805.0,145.16 804.5,145.02 804.0,144.88 803.5,144.74 803.0,144.59 802.5,144.45 802.0,144.30 801.5,144.15 801.0,143.99 800.5,143.84 800.0,143.68 799.5,143.53 799.0,143.37 798.5,143.21 798.0,143.05 797.5,142.88 797.0,142.72 796.5,142.56 796.0,142.39 795.5,142.22 795.0,142.05 794.5,141.88 794.0,141.71 793.5,141.53 793.0,141.36 792.5,141.18 792.0,141.01 791.5,140.83 791.0,140.65 790.5,140.47 790.0,140.29 789.5,140.12 789.0,139.94 788.5,139.76 788.0,139.59 787.5,139.41 787.0,139.23 786.5,139.05 786.0,138.86 785.5,138.68 785.0,138.49 784.5,138.30 784.0,138.12 783.5,137.93 783.0,137.75 782.5,137.58 782.0,137.40 781.5,137.23 781.0,137.07 780.5,136.91 780.0,136.76 779.5,136.62 779.0,136.49 778.5,136.36 778.0,136.24 777.5,136.12 777.0,136.01 776.5,135.91 776.0,135.81 775.5,135.71 775.0,135.61 774.5,135.52 774.0,135.43 773.5,135.34 773.0,135.25 772.5,135.17 772.0,135.09 771.5,135.01 771.0,134.93 770.5,134.85 770.0,134.78 769.5,134.72 769.0,134.69 768.5,134.66 768.0,134.65 767.5,134.64 767.0,134.61 766.5,134.58 766.0,134.54 765.5,134.51 765.0,134.48 764.5,134.44 764.0,134.41 763.5,134.38 763.0,134.35 762.5,134.31 762.0,134.28 761.5,134.25 761.0,134.21 760.5,134.18 760.0,134.14 759.5,134.09 759.0,134.05 758.5,134.00 758.0,133.96 757.5,133.93 757.0,133.91 756.5,133.89 756.0,133.87 755.5,133.85 755.0,133.84 754.5,133.82 754.0,133.81 753.5,133.80 753.0,133.80 752.5,133.79 752.0,133.79 751.5,133.79 751.0,133.80 750.5,133.81 750.0,133.82 749.5,133.83 749.0,133.85 748.5,133.87 748.0,133.90 747.5,133.92 747.0,133.94" fill="rgba(255,0,0,0.6)"/><polyline points="747.0,133.95 747.5,133.99 748.0,134.03 748.5,134.08 749.0,134.12 749.5,134.16 750.0,134.20 750.5,134.23 751.0,134.27 751.5,134.30 752.0,134.33 752.5,134.37 753.0,134.40 753.5,134.43 754.0,134.47 754.5,134.50 755.0,134.53 755.5,134.57 756.0,134.60 756.5,134.63 757.0,134.65 757.5,134.66 758.0,134.68 758.5,134.71 759.0,134.76 759.5,134.83 760.0,134.90 760.5,134.98 761.0,135.06 761.5,135.14 762.0,135.23 762.5,135.31 763.0,135.40 763.5,135.49 764.0,135.58 764.5,135.67 765.0,135.77 765.5,135.87 766.0,135.98 766.5,136.09 767.0,136.20 767.5,136.32 768.0,136.44 768.5,136.57 769.0,136.71 769.5,136.86 770.0,137.01 770.5,137.18 771.0,137.34 771.5,137.52 772.0,137.69 772.5,137.87 773.0,138.06 773.5,138.24 774.0,138.43 774.5,138.61 775.0,138.80 775.5,138.99 776.0,139.17 776.5,139.35 777.0,139.53 777.5,139.71 778.0,139.88 778.5,140.06 779.0,140.23 779.5,140.41 780.0,140.59 780.5,140.77 781.0,140.95 781.5,141.12 782.0,141.30 782.5,141.48 783.0,141.65 783.5,141.82 784.0,142.00 784.5,142.17 785.0,142.33 785.5,142.50 786.0,142.67 786.5,142.83 787.0,142.99 787.5,143.15 788.0,143.31 788.5,143.47 789.0,143.63 789.5,143.79 790.0,143.94 790.5,144.09 791.0,144.25 791.5,144.40 792.0,144.54 792.5,144.69 793.0,144.83 793.5,144.98 794.0,145.12 794.5,145.25 795.0,145.39 795.5,145.52 796.0,145.65 796.5,145.77 797.0,145.89 797.5,146.02 798.0,146.13 798.5,146.25 799.0,146.37 799.5,146.49 800.0,146.60 800.5,146.72 801.0,146.84 801.5,146.96 802.0,147.08 802.5,147.20 803.0,147.33 803.5,147.45 804.0,147.58 804.5,147.70 805.0,147.83 805.5,147.96 806.0,148.09 806.5,148.22 807.0,148.35 807.5,148.48 808.0,148.61 808.5,148.74 809.0,148.86 809.5,148.99 810.0,149.12 810.5,149.25 811.0,149.37 811.5,149.50 812.0,149.62 812.5,149.75 813.0,149.87 813.5,149.99 814.0,150.11 814.5,150.24 815.0,150.36 815.5,150.48 816.0,150.60 816.5,150.72 817.0,150.84 817.5,150.96 818.0,151.08 818.5,151.20 819.0,151.33 819.5,151.45 820.0,151.58 820.5,151.70 821.0,151.83 821.5,151.95 822.0,152.08 822.5,152.21 823.0,152.34 823.5,152.47 824.0,152.60 824.5,152.73 825.0,152.86 825.5,152.98 826.0,153.11 826.5,153.24 827.0,153.37 827.5,153.50 828.0,153.62 828.5,153.75 829.0,153.88 829.5,154.00 830.0,154.13 830.5,154.25 831.0,154.38 831.5,154.51 832.0,154.63 832.5,154.76 833.0,154.88 833.5,155.00 834.0,155.13 834.5,155.25 835.0,155.37 835.5,155.49 836.0,155.61 836.5,155.72 837.0,155.83 837.5,155.94 838.0,156.05 838.5,156.15 839.0,156.25 839.5,156.35 840.0,156.45 840.5,156.54 841.0,156.63 841.5,156.73 842.0,156.82 842.5,156.91 843.0,157.00 843.5,157.10 844.0,157.20 844.5,157.30 845.0,157.40 845.5,157.51 846.0,157.62 846.5,157.73 847.0,157.84 847.5,157.94 848.0,158.04 848.5,158.14 849.0,158.24 849.5,158.35 850.0,158.45 850.5,158.56 851.0,158.68 851.5,158.81 852.0,158.94 852.5,159.08 853.0,159.24 853.5,159.41 854.0,159.60 854.5,159.80 855.0,160.02 855.5,160.25 856.0,160.49 856.5,160.74 857.0,161.01 857.5,161.28 858.0,161.58 858.5,161.88 859.0,162.20 859.5,162.54 860.0,162.90 860.5,163.27 861.0,163.66 861.5,164.07 862.0,164.50 862.5,164.95 863.0,165.42 863.5,165.91 864.0,166.41 864.5,166.94 865.0,167.49 865.5,168.06 866.0,168.65 866.5,169.25 867.0,169.87 867.5,170.51 868.0,171.16 868.5,171.82 869.0,172.50 869.5,173.20 870.0,173.92 870.5,174.67 871.0,175.44 871.5,176.23 872.0,177.03 872.5,177.84 873.0,178.66 873.5,179.48 874.0,180.30 874.5,181.12 875.0,181.93 875.5,182.73 876.0,183.53 876.5,184.31 877.0,185.09 877.5,185.86 878.0,186.63 878.5,187.41 879.0,188.18 879.5,188.95 880.0,189.71 880.5,190.48 881.0,191.25 881.5,192.02 882.0,192.78 882.5,193.55 883.0,194.31 883.5,195.08 884.0,195.85 884.5,196.61 885.0,197.37 885.5,198.13 886.0,198.88 886.5,199.63 887.0,200.38 887.5,201.13 888.0,201.89 888.5,202.65 889.0,203.43 889.5,204.21 890.0,205.00 890.5,205.80 891.0,206.62 891.5,207.45 892.0,208.28 892.5,209.12 893.0,209.96 893.5,210.80 894.0,211.65 894.5,212.49 895.0,213.33 895.5,214.17 896.0,215.00 896.5,215.84 897.0,216.68 897.5,217.54 898.0,218.40 898.5,219.27 899.0,220.12 899.5,220.97 900.0,221.81 900.5,222.63 901.0,223.43 901.5,224.22 902.0,224.97 902.5,225.71 903.0,226.42 903.5,227.11 904.0,227.78 904.5,228.44 905.0,229.08 905.5,229.71 906.0,230.34 906.5,230.95 907.0,231.56 907.5,232.17 908.0,232.78 908.5,233.38 909.0,233.98 909.5,234.58 910.0,235.18 910.5,235.79 911.0,236.40 911.5,237.02 912.0,237.66 912.5,238.29 913.0,238.94 913.5,239.58 914.0,240.22 914.5,240.85 915.0,241.46 915.5,242.06 916.0,242.63 916.5,243.17 917.0,243.69 917.5,244.19 918.0,244.67 918.5,245.13 919.0,245.57 919.5,246.01 920.0,246.43 920.5,246.84 921.0,247.25 921.5,247.65 922.0,248.05 922.5,248.44 923.0,248.83 923.5,249.21 924.0,249.60 924.5,249.98 925.0,250.37 925.5,250.76 926.0,251.15 926.5,251.55 927.0,251.94 927.5,252.34 928.0,252.73 928.5,253.11 929.0,253.48 929.5,253.83 930.0,254.16 930.5,254.46 931.0,254.74 931.5,254.99 932.0,255.22 932.5,255.42 933.0,255.59 933.5,255.75 934.0,255.89 934.5,256.02 935.0,256.14 935.5,256.25 936.0,256.35 936.5,256.45 937.0,256.54 937.5,256.64 938.0,256.72 938.5,256.79 939.0,256.84 939.5,256.87 940.0,256.90 940.5,256.92 941.0,256.94 941.5,256.97 942.0,257.00 942.5,257.04 943.0,257.08 943.5,257.12 944.0,257.17 944.5,257.21 945.0,257.24 945.5,257.27 946.0,257.29 946.5,257.30 947.0,257.30 947.5,257.30 948.0,257.30 948.5,257.30 949.0,257.29 949.5,257.28 950.0,257.25 950.5,257.22 951.0,257.17 951.5,257.12 952.0,257.05 952.5,256.98" fill="none" stroke="rgba(255,0,0,0.5)" stroke-width="1"/><polyline points="747.0,133.94 747.5,133.92 748.0,133.90 748.5,133.87 749.0,133.85 749.5,133.83 750.0,133.82 750.5,133.81 751.0,133.80 751.5,133.79 752.0,133.79 752.5,133.79 753.0,133.80 753.5,133.80 754.0,133.81 754.5,133.82 755.0,133.84 755.5,133.85 756.0,133.87 756.5,133.89 757.0,133.91 757.5,133.93 758.0,133.96 758.5,134.00 759.0,134.05 759.5,134.09 760.0,134.14 760.5,134.18 761.0,134.21 761.5,134.25 762.0,134.28 762.5,134.31 763.0,134.35 763.5,134.38 764.0,134.41 764.5,134.44 765.0,134.48 765.5,134.51 766.0,134.54 766.5,134.58 767.0,134.61 767.5,134.64 768.0,134.65 768.5,134.66 769.0,134.69 769.5,134.72 770.0,134.78 770.5,134.85 771.0,134.93 771.5,135.01 772.0,135.09 772.5,135.17 773.0,135.25 773.5,135.34 774.0,135.43 774.5,135.52 775.0,135.61 775.5,135.71 776.0,135.81 776.5,135.91 777.0,136.01 777.5,136.12 778.0,136.24 778.5,136.36 779.0,136.49 779.5,136.62 780.0,136.76 780.5,136.91 781.0,137.07 781.5,137.23 782.0,137.40 782.5,137.58 783.0,137.75 783.5,137.93 784.0,138.12 784.5,138.30 785.0,138.49 785.5,138.68 786.0,138.86 786.5,139.05 787.0,139.23 787.5,139.41 788.0,139.59 788.5,139.76 789.0,139.94 789.5,140.12 790.0,140.29 790.5,140.47 791.0,140.65 791.5,140.83 792.0,141.01 792.5,141.18 793.0,141.36 793.5,141.53 794.0,141.71 794.5,141.88 795.0,142.05 795.5,142.22 796.0,142.39 796.5,142.56 797.0,142.72 797.5,142.88 798.0,143.05 798.5,143.21 799.0,143.37 799.5,143.53 800.0,143.68 800.5,143.84 801.0,143.99 801.5,144.15 802.0,144.30 802.5,144.45 803.0,144.59 803.5,144.74 804.0,144.88 804.5,145.02 805.0,145.16 805.5,145.30 806.0,145.43 806.5,145.56 807.0,145.69 807.5,145.81 808.0,145.94 808.5,146.06 809.0,146.17 809.5,146.29 810.0,146.41 810.5,146.53 811.0,146.64 811.5,146.76 812.0,146.88 812.5,147.00 813.0,147.12 813.5,147.24 814.0,147.37 814.5,147.49 815.0,147.62 815.5,147.75 816.0,147.88 816.5,148.00 817.0,148.13 817.5,148.26 818.0,148.39 818.5,148.52 819.0,148.65 819.5,148.78 820.0,148.91 820.5,149.04 821.0,149.16 821.5,149.29 822.0,149.42 822.5,149.54 823.0,149.67 823.5,149.79 824.0,149.91 824.5,150.03 825.0,150.16 825.5,150.28 826.0,150.40 826.5,150.52 827.0,150.64 827.5,150.76 828.0,150.88 828.5,151.00 829.0,151.12 829.5,151.25 830.0,151.37 830.5,151.49 831.0,151.62 831.5,151.74 832.0,151.87 832.5,152.00 833.0,152.12 833.5,152.25 834.0,152.38 834.5,152.51 835.0,152.64 835.5,152.77 836.0,152.90 836.5,153.03 837.0,153.16 837.5,153.29 838.0,153.41 838.5,153.54 839.0,153.67 839.5,153.79 840.0,153.92 840.5,154.04 841.0,154.17 841.5,154.30 842.0,154.42 842.5,154.55 843.0,154.67 843.5,154.80 844.0,154.92 844.5,155.05 845.0,155.17 845.5,155.29 846.0,155.41 846.5,155.53 847.0,155.64 847.5,155.76 848.0,155.87 848.5,155.98 849.0,156.09 849.5,156.19 850.0,156.29 850.5,156.38 851.0,156.48 851.5,156.57 852.0,156.66 852.5,156.76 853.0,156.85 853.5,156.94 854.0,157.04 854.5,157.13 855.0,157.23 855.5,157.33 856.0,157.44 856.5,157.55 857.0,157.66 857.5,157.77 858.0,157.87 858.5,157.97 859.0,158.08 859.5,158.18 860.0,158.28 860.5,158.38 861.0,158.49 861.5,158.60 862.0,158.72 862.5,158.85 863.0,158.99 863.5,159.14 864.0,159.30 864.5,159.47 865.0,159.66 865.5,159.87 866.0,160.10 866.5,160.33 867.0,160.57 867.5,160.83 868.0,161.10 868.5,161.38 869.0,161.68 869.5,161.99 870.0,162.32 870.5,162.66 871.0,163.02 871.5,163.40 872.0,163.80 872.5,164.22 873.0,164.65 873.5,165.11 874.0,165.58 874.5,166.08 875.0,166.59 875.5,167.13 876.0,167.69 876.5,168.26 877.0,168.85 877.5,169.46 878.0,170.09 878.5,170.73 879.0,171.39 879.5,172.05 880.0,172.74 880.5,173.44 881.0,174.18 881.5,174.93 882.0,175.71 882.5,176.50 883.0,177.30 883.5,178.11 884.0,178.93 884.5,179.76 885.0,180.58 885.5,181.39 886.0,182.21 886.5,183.01 887.0,183.80 887.5,184.58 888.0,185.35 888.5,186.12 889.0,186.90 889.5,187.67 890.0,188.44 890.5,189.21 891.0,189.98 891.5,190.74 892.0,191.51 892.5,192.28 893.0,193.04 893.5,193.81 894.0,194.58 894.5,195.34 895.0,196.11 895.5,196.87 896.0,197.63 896.5,198.38 897.0,199.13 897.5,199.89 898.0,200.64 898.5,201.39 899.0,202.15 899.5,202.92 900.0,203.69 900.5,204.48 901.0,205.27 901.5,206.08 902.0,206.90 902.5,207.73 903.0,208.56 903.5,209.40 904.0,210.25 904.5,211.09 905.0,211.94 905.5,212.78 906.0,213.62 906.5,214.45 907.0,215.28 907.5,216.12 908.0,216.98 908.5,217.83 909.0,218.70 909.5,219.56 910.0,220.41 910.5,221.26 911.0,222.09 911.5,222.90 912.0,223.70 912.5,224.48 913.0,225.23 913.5,225.96 914.0,226.66 914.5,227.34 915.0,228.01 915.5,228.66 916.0,229.30 916.5,229.92 917.0,230.55 917.5,231.16 918.0,231.77 918.5,232.38 919.0,232.98 919.5,233.58 920.0,234.18 920.5,234.78 921.0,235.39 921.5,236.00 922.0,236.61 922.5,237.24 923.0,237.87 923.5,238.51 924.0,239.16 924.5,239.80 925.0,240.44 925.5,241.06 926.0,241.67 926.5,242.26 927.0,242.82 927.5,243.35 928.0,243.87 928.5,244.36 929.0,244.83 929.5,245.28 930.0,245.72 930.5,246.15 931.0,246.57 931.5,246.98 932.0,247.39 932.5,247.79 933.0,248.18 933.5,248.57 934.0,248.96 934.5,249.34 935.0,249.73 935.5,250.11 936.0,250.50 936.5,250.89 937.0,251.29 937.5,251.68 938.0,252.08 938.5,252.47 939.0,252.86 939.5,253.24 940.0,253.60 940.5,253.94 941.0,254.26 941.5,254.56 942.0,254.83 942.5,255.07 943.0,255.29 943.5,255.48 944.0,255.65 944.5,255.80 945.0,255.94 945.5,256.06 946.0,256.18 946.5,256.28 947.0,256.38 947.5,256.48 948.0,256.57 948.5,256.67 949.0,256.74 949.5,256.80 950.0,256.85 950.5,256.88 951.0,256.91 951.5,256.93 952.0,256.95 952.5,256.98" fill="none" stroke="rgba(255,0,0,0.5)" stroke-width="1"/><polygon points="952.5,256.98 953.0,256.90 953.5,256.81 954.0,256.72 954.5,256.61 955.0,256.51 955.5,256.40 956.0,256.28 956.5,256.17 957.0,256.05 957.5,255.94 958.0,255.82 958.5,255.70 959.0,255.58 959.5,255.46 960.0,255.35 960.5,255.23 961.0,255.12 961.5,255.00 962.0,254.89 962.5,254.79 963.0,254.68 963.5,254.58 964.0,254.49 964.5,254.40 965.0,254.31 965.5,254.23 966.0,254.15 966.5,254.07 967.0,253.99 967.5,253.92 968.0,253.84 968.5,253.77 969.0,253.70 969.5,253.63 970.0,253.56 970.5,253.50 971.0,253.43 971.5,253.36 972.0,253.30 972.5,253.23 973.0,253.17 973.5,253.10 974.0,253.04 974.5,252.97 975.0,252.90 975.0,254.46 974.5,254.55 974.0,254.65 973.5,254.75 973.0,254.86 972.5,254.97 972.0,255.08 971.5,255.19 971.0,255.31 970.5,255.42 970.0,255.54 969.5,255.66 969.0,255.78 968.5,255.90 968.0,256.01 967.5,256.13 967.0,256.25 966.5,256.36 966.0,256.47 965.5,256.58 965.0,256.68 964.5,256.78 964.0,256.87 963.5,256.95 963.0,257.03 962.5,257.10 962.0,257.15 961.5,257.20 961.0,257.24 960.5,257.27 960.0,257.29 959.5,257.29 959.0,257.30 958.5,257.30 958.0,257.30 957.5,257.30 957.0,257.29 956.5,257.28 956.0,257.25 955.5,257.22 955.0,257.18 954.5,257.14 954.0,257.10 953.5,257.05 953.0,257.01 952.5,256.98" fill="rgba(0,255,0,0.6)"/><polyline points="952.5,256.98 953.0,256.90 953.5,256.81 954.0,256.72 954.5,256.61 955.0,256.51 955.5,256.40 956.0,256.28 956.5,256.17 957.0,256.05 957.5,255.94 958.0,255.82 958.5,255.70 959.0,255.58 959.5,255.46 960.0,255.35 960.5,255.23 961.0,255.12 961.5,255.00 962.0,254.89 962.5,254.79 963.0,254.68 963.5,254.58 964.0,254.49 964.5,254.40 965.0,254.31 965.5,254.23 966.0,254.15 966.5,254.07 967.0,253.99 967.5,253.92 968.0,253.84 968.5,253.77 969.0,253.70 969.5,253.63 970.0,253.56 970.5,253.50 971.0,253.43 971.5,253.36 972.0,253.30 972.5,253.23 973.0,253.17 973.5,253.10 974.0,253.04 974.5,252.97 975.0,252.90" fill="none" stroke="rgba(0,255,0,0.5)" stroke-width="1"/><polyline points="952.5,256.98 953.0,257.01 953.5,257.05 954.0,257.10 954.5,257.14 955.0,257.18 955.5,257.22 956.0,257.25 956.5,257.28 957.0,257.29 957.5,257.30 958.0,257.30 958.5,257.30 959.0,257.30 959.5,257.29 960.0,257.29 960.5,257.27 961.0,257.24 961.5,257.20 962.0,257.15 962.5,257.10 963.0,257.03 963.5,256.95 964.0,256.87 964.5,256.78 965.0,256.68 965.5,256.58 966.0,256.47 966.5,256.36 967.0,256.25 967.5,256.13 968.0,256.01 968.5,255.90 969.0,255.78 969.5,255.66 970.0,255.54 970.5,255.42 971.0,255.31 971.5,255.19 972.0,255.08 972.5,254.97 973.0,254.86 973.5,254.75 974.0,254.65 974.5,254.55 975.0,254.46" fill="none" stroke="rgba(0,255,0,0.5)" stroke-width="1"/></g>
<g clip-path="url(#main)" shape-rendering="crispEdges"><rect x="10" y="117" width="1" height="6" fill="#26A69A"/><rect x="9" y="117" width="3" height="6" fill="#26A69A"/><rect x="16" y="116" width="1" height="6" fill="#EF5350"/><rect x="15" y="120" width="3" height="1" fill="#EF5350"/><rect x="21" y="117" width="1" height="8" fill="#26A69A"/><rect x="20" y="118" width="3" height="4" fill="#26A69A"/><rect x="27" y="114" width="1" height="14" fill="#EF5350"/><rect x="26" y="118" width="3" height="9" fill="#EF5350"/><rect x="32" y="126" width="1" height="12" fill="#EF5350"/><rect x="31" y="126" width="3" height="7" fill="#EF5350"/><rect x="37" y="130" width="1" height="8" fill="#EF5350"/><rect x="36" y="132" width="3" height="4" fill="#EF5350"/><rect x="43" y="132" width="1" height="6" fill="#26A69A"/><rect x="42" y="135" width="3" height="1" fill="#26A69A"/><rect x="48" y="132" width="1" height="4" fill="#26A69A"/><rect x="47" y="133" width="3" height="3" fill="#26A69A"/><rect x="54" y="132" width="1" height="4" fill="#EF5350"/><rect x="53" y="132" width="3" height="4" fill="#EF5350"/><rect x="59" y="131" width="1" height="7" fill="#26A69A"/><rect x="58" y="132" width="3" height="4" fill="#26A69A"/><rect x="64" y="127" width="1" height="6" fill="#26A69A"/><rect x="63" y="130" width="3" height="3" fill="#26A69A"/><rect x="70" y="127" width="1" height="9" fill="#26A69A"/><rect x="69" y="129" width="3" height="1" fill="#26A69A"/><rect x="75" y="125" width="1" height="6" fill="#26A69A"/><rect x="74" y="126" width="3" height="4" fill="#26A69A"/><rect x="81" y="123" width="1" height="4" fill="#26A69A"/><rect x="80" y="125" width="3" height="2" fill="#26A69A"/><rect x="86" y="124" width="1" height="4" fill="#EF5350"/><rect x="85" y="124" width="3" height="4" fill="#EF5350"/><rect x="92" y="121" width="1" height="10" fill="#26A69A"/><rect x="91" y="124" width="3" height="4" fill="#26A69A"/><rect x="97" y="124" width="1" height="6" fill="#EF5350"/><rect x="96" y="124" width="3" height="6" fill="#EF5350"/><rect x="102" y="128" width="1" height="5" fill="#EF5350"/><rect x="101" y="128" width="3" height="4" fill="#EF5350"/><rect x="108" y="123" width="1" height="11" fill="#26A69A"/><rect x="107" y="124" width="3" height="8" fill="#26A69A"/><rect x="113" y="106" width="1" height="21" fill="#26A69A"/><rect x="112" y="109" width="3" height="16" fill="#26A69A"/><rect x="119" y="104" width="1" height="8" fill="#26A69A"/><rect x="118" y="107" width="3" height="3" fill="#26A69A"/><rect x="124" y="107" width="1" height="9" fill="#EF5350"/><rect x="123" y="107" width="3" height="6" fill="#EF5350"/><rect x="129" y="106" width="1" height="7" fill="#26A69A"/><rect x="128" y="109" width="3" height="4" fill="#26A69A"/><rect x="135" y="102" width="1" height="10" fill="#26A69A"/><rect x="134" y="103" width="3" height="7" fill="#26A69A"/><rect x="140" y="98" width="1" height="7" fill="#26A69A"/><rect x="139" y="102" width="3" height="2" fill="#26A69A"/><rect x="146" y="100" width="1" height="8" fill="#EF5350"/><rect x="145" y="102" width="3" height="3" fill="#EF5350"/><rect x="151" y="98" width="1" height="9" fill="#EF5350"/><rect x="150" y="104" width="3" height="3" fill="#EF5350"/><rect x="157" y="105" width="1" height="10" fill="#EF5350"/><rect x="156" y="107" width="3" height="8" fill="#EF5350"/><rect x="162" y="110" width="1" height="8" fill="#EF5350"/><rect x="161" y="114" width="3" height="4" fill="#EF5350"/><rect x="167" y="111" width="1" height="9" fill="#26A69A"/><rect x="166" y="115" width="3" height="2" fill="#26A69A"/><rect x="173" y="113" width="1" height="7" fill="#EF5350"/><rect x="172" y="117" width="3" height="2" fill="#EF5350"/><rect x="178" y="116" width="1" height="7" fill="#EF5350"/><rect x="177" y="118" width="3" height="3" fill="#EF5350"/><rect x="184" y="116" width="1" height="5" fill="#26A69A"/><rect x="183" y="118" width="3" height="3" fill="#26A69A"/><rect x="189" y="112" width="1" height="7" fill="#26A69A"/><rect x="188" y="112" width="3" height="6" fill="#26A69A"/><rect x="194" y="112" width="1" height="9" fill="#EF5350"/><rect x="193" y="113" width="3" height="5" fill="#EF5350"/><rect x="200" y="113" width="1" height="6" fill="#26A69A"/><rect x="199" y="114" width="3" height="5" fill="#26A69A"/><rect x="205" y="114" width="1" height="7" fill="#EF5350"/><rect x="204" y="115" width="3" height="6" fill="#EF5350"/><rect x="211" y="116" width="1" height="5" fill="#26A69A"/><rect x="210" y="119" width="3" height="2" fill="#26A69A"/><rect x="216" y="116" width="1" height="4" fill="#26A69A"/><rect x="215" y="116" width="3" height="4" fill="#26A69A"/><rect x="222" y="114" width="1" height="3" fill="#26A69A"/><rect x="221" y="115" width="3" height="1" fill="#26A69A"/><rect x="227" y="115" width="1" height="11" fill="#EF5350"/><rect x="226" y="115" width="3" height="10" fill="#EF5350"/><rect x="232" y="120" width="1" height="4" fill="#26A69A"/><rect x="231" y="122" width="3" height="2" fill="#26A69A"/><rect x="238" y="120" width="1" height="7" fill="#26A69A"/><rect x="237" y="121" width="3" height="2" fill="#26A69A"/><rect x="243" y="120" width="1" height="4" fill="#EF5350"/><rect x="242" y="121" width="3" height="3" fill="#EF5350"/><rect x="249" y="121" width="1" height="20" fill="#EF5350"/><rect x="248" y="123" width="3" height="14" fill="#EF5350"/><rect x="254" y="136" width="1" height="34" fill="#EF5350"/><rect x="253" y="136" width="3" height="21" fill="#EF5350"/><rect x="259" y="150" width="1" height="8" fill="#26A69A"/><rect x="258" y="153" width="3" height="5" fill="#26A69A"/><rect x="265" y="148" width="1" height="7" fill="#EF5350"/><rect x="264" y="152" width="3" height="2" fill="#EF5350"/><rect x="270" y="151" width="1" height="7" fill="#EF5350"/><rect x="269" y="154" width="3" height="4" fill="#EF5350"/><rect x="276" y="151" width="1" height="7" fill="#26A69A"/><rect x="275" y="152" width="3" height="6" fill="#26A69A"/><rect x="281" y="150" width="1" height="13" fill="#EF5350"/><rect x="280" y="152" width="3" height="2" fill="#EF5350"/><rect x="287" y="150" width="1" height="7" fill="#26A69A"/><rect x="286" y="152" width="3" height="2" fill="#26A69A"/><rect x="292" y="150" width="1" height="5" fill="#EF5350"/><rect x="291" y="152" width="3" height="2" fill="#EF5350"/><rect x="297" y="151" width="1" height="6" fill="#26A69A"/><rect x="296" y="152" width="3" height="2" fill="#26A69A"/><rect x="303" y="150" width="1" height="12" fill="#EF5350"/><rect x="302" y="153" width="3" height="9" fill="#EF5350"/><rect x="308" y="157" width="1" height="6" fill="#EF5350"/><rect x="307" y="160" width="3" height="3" fill="#EF5350"/><rect x="314" y="157" width="1" height="9" fill="#EF5350"/><rect x="313" y="162" width="3" height="4" fill="#EF5350"/><rect x="319" y="156" width="1" height="14" fill="#26A69A"/><rect x="318" y="157" width="3" height="9" fill="#26A69A"/><rect x="324" y="152" width="1" height="6" fill="#26A69A"/><rect x="323" y="154" width="3" height="4" fill="#26A69A"/><rect x="330" y="150" width="1" height="6" fill="#26A69A"/><rect x="329" y="154" width="3" height="1" fill="#26A69A"/><rect x="335" y="151" width="1" height="4" fill="#26A69A"/><rect x="334" y="154" width="3" height="1" fill="#26A69A"/><rect x="341" y="153" width="1" height="7" fill="#EF5350"/><rect x="340" y="153" width="3" height="6" fill="#EF5350"/><rect x="346" y="158" width="1" height="11" fill="#EF5350"/><rect x="345" y="159" width="3" height="6" fill="#EF5350"/><rect x="352" y="163" width="1" height="9" fill="#EF5350"/><rect x="351" y="164" width="3" height="7" fill="#EF5350"/><rect x="357" y="169" width="1" height="7" fill="#EF5350"/><rect x="356" y="170" width="3" height="6" fill="#EF5350"/><rect x="362" y="165" width="1" height="17" fill="#26A69A"/><rect x="361" y="170" width="3" height="6" fill="#26A69A"/><rect x="368" y="169" width="1" height="21" fill="#EF5350"/><rect x="367" y="170" width="3" height="12" fill="#EF5350"/><rect x="373" y="179" width="1" height="9" fill="#EF5350"/><rect x="372" y="180" width="3" height="6" fill="#EF5350"/><rect x="379" y="175" width="1" height="11" fill="#26A69A"/><rect x="378" y="177" width="3" height="9" fill="#26A69A"/><rect x="384" y="176" width="1" height="6" fill="#EF5350"/><rect x="383" y="177" width="3" height="3" fill="#EF5350"/><rect x="389" y="178" width="1" height="10" fill="#EF5350"/><rect x="388" y="179" width="3" height="7" fill="#EF5350"/><rect x="395" y="176" width="1" height="12" fill="#26A69A"/><rect x="394" y="179" width="3" height="6" fill="#26A69A"/><rect x="400" y="167" width="1" height="13" fill="#26A69A"/><rect x="399" y="171" width="3" height="9" fill="#26A69A"/><rect x="406" y="168" width="1" height="4" fill="#26A69A"/><rect x="405" y="169" width="3" height="3" fill="#26A69A"/><rect x="411" y="168" width="1" height="3" fill="#26A69A"/><rect x="410" y="169" width="3" height="1" fill="#26A69A"/><rect x="417" y="169" width="1" height="6" fill="#EF5350"/><rect x="416" y="169" width="3" height="6" fill="#EF5350"/><rect x="422" y="172" width="1" height="6" fill="#EF5350"/><rect x="421" y="174" width="3" height="1" fill="#EF5350"/><rect x="427" y="172" width="1" height="4" fill="#26A69A"/><rect x="426" y="173" width="3" height="2" fill="#26A69A"/><rect x="433" y="173" width="1" height="4" fill="#EF5350"/><rect x="432" y="173" width="3" height="3" fill="#EF5350"/><rect x="438" y="171" width="1" height="6" fill="#EF5350"/><rect x="437" y="175" width="3" height="1" fill="#EF5350"/><rect x="444" y="175" width="1" height="5" fill="#EF5350"/><rect x="443" y="175" width="3" height="5" fill="#EF5350"/><rect x="449" y="178" width="1" height="4" fill="#EF5350"/><rect x="448" y="179" width="3" height="1" fill="#EF5350"/><rect x="454" y="179" width="1" height="5" fill="#EF5350"/><rect x="453" y="180" width="3" height="3" fill="#EF5350"/><rect x="460" y="175" width="1" height="10" fill="#26A69A"/><rect x="459" y="175" width="3" height="10" fill="#26A69A"/><rect x="465" y="169" width="1" height="7" fill="#26A69A"/><rect x="464" y="170" width="3" height="6" fill="#26A69A"/><rect x="471" y="159" width="1" height="12" fill="#26A69A"/><rect x="470" y="161" width="3" height="10" fill="#26A69A"/><rect x="476" y="160" width="1" height="6" fill="#EF5350"/><rect x="475" y="161" width="3" height="3" fill="#EF5350"/><rect x="482" y="162" width="1" height="7" fill="#EF5350"/><rect x="481" y="163" width="3" height="4" fill="#EF5350"/><rect x="487" y="163" width="1" height="8" fill="#EF5350"/><rect x="486" y="166" width="3" height="3" fill="#EF5350"/><rect x="492" y="157" width="1" height="15" fill="#26A69A"/><rect x="491" y="164" width="3" height="5" fill="#26A69A"/><rect x="498" y="162" width="1" height="6" fill="#26A69A"/><rect x="497" y="163" width="3" height="2" fill="#26A69A"/><rect x="503" y="157" width="1" height="6" fill="#26A69A"/><rect x="502" y="162" width="3" height="1" fill="#26A69A"/><rect x="509" y="161" width="1" height="6" fill="#EF5350"/><rect x="508" y="162" width="3" height="5" fill="#EF5350"/><rect x="514" y="162" width="1" height="7" fill="#EF5350"/><rect x="513" y="166" width="3" height="3" fill="#EF5350"/><rect x="519" y="168" width="1" height="5" fill="#EF5350"/><rect x="518" y="168" width="3" height="4" fill="#EF5350"/><rect x="525" y="167" width="1" height="10" fill="#EF5350"/><rect x="524" y="170" width="3" height="5" fill="#EF5350"/><rect x="530" y="164" width="1" height="12" fill="#26A69A"/><rect x="529" y="165" width="3" height="10" fill="#26A69A"/><rect x="536" y="158" width="1" height="8" fill="#26A69A"/><rect x="535" y="161" width="3" height="5" fill="#26A69A"/><rect x="541" y="159" width="1" height="8" fill="#EF5350"/><rect x="540" y="161" width="3" height="6" fill="#EF5350"/><rect x="547" y="162" width="1" height="5" fill="#26A69A"/><rect x="546" y="163" width="3" height="4" fill="#26A69A"/><rect x="552" y="146" width="1" height="18" fill="#26A69A"/><rect x="551" y="146" width="3" height="18" fill="#26A69A"/><rect x="557" y="143" width="1" height="5" fill="#26A69A"/><rect x="556" y="144" width="3" height="3" fill="#26A69A"/><rect x="563" y="141" width="1" height="7" fill="#26A69A"/><rect x="562" y="142" width="3" height="3" fill="#26A69A"/><rect x="568" y="139" width="1" height="6" fill="#26A69A"/><rect x="567" y="139" width="3" height="3" fill="#26A69A"/><rect x="574" y="134" width="1" height="7" fill="#26A69A"/><rect x="573" y="137" width="3" height="3" fill="#26A69A"/><rect x="579" y="133" width="1" height="6" fill="#EF5350"/><rect x="578" y="137" width="3" height="1" fill="#EF5350"/><rect x="584" y="136" width="1" height="4" fill="#EF5350"/><rect x="583" y="137" width="3" height="3" fill="#EF5350"/><rect x="590" y="136" width="1" height="10" fill="#26A69A"/><rect x="589" y="137" width="3" height="3" fill="#26A69A"/><rect x="595" y="126" width="1" height="13" fill="#26A69A"/><rect x="594" y="127" width="3" height="12" fill="#26A69A"/><rect x="601" y="127" width="1" height="5" fill="#EF5350"/><rect x="600" y="127" width="3" height="3" fill="#EF5350"/><rect x="606" y="129" width="1" height="8" fill="#EF5350"/><rect x="605" y="129" width="3" height="6" fill="#EF5350"/><rect x="612" y="131" width="1" height="7" fill="#EF5350"/><rect x="611" y="134" width="3" height="3" fill="#EF5350"/><rect x="617" y="134" width="1" height="5" fill="#EF5350"/><rect x="616" y="136" width="3" height="2" fill="#EF5350"/><rect x="622" y="128" width="1" height="12" fill="#26A69A"/><rect x="621" y="128" width="3" height="11" fill="#26A69A"/><rect x="628" y="119" width="1" height="17" fill="#EF5350"/><rect x="627" y="128" width="3" height="2" fill="#EF5350"/><rect x="633" y="128" width="1" height="5" fill="#EF5350"/><rect x="632" y="129" width="3" height="3" fill="#EF5350"/><rect x="639" y="130" width="1" height="10" fill="#EF5350"/><rect x="638" y="132" width="3" height="6" fill="#EF5350"/><rect x="644" y="135" width="1" height="3" fill="#EF5350"/><rect x="643" y="136" width="3" height="2" fill="#EF5350"/><rect x="649" y="138" width="1" height="6" fill="#EF5350"/><rect x="648" y="138" width="3" height="6" fill="#EF5350"/><rect x="655" y="140" width="1" height="8" fill="#EF5350"/><rect x="654" y="143" width="3" height="5" fill="#EF5350"/><rect x="660" y="143" width="1" height="5" fill="#26A69A"/><rect x="659" y="145" width="3" height="3" fill="#26A69A"/><rect x="666" y="143" width="1" height="2" fill="#26A69A"/><rect x="665" y="145" width="3" height="1" fill="#26A69A"/><rect x="671" y="133" width="1" height="14" fill="#26A69A"/><rect x="670" y="137" width="3" height="9" fill="#26A69A"/><rect x="677" y="126" width="1" height="12" fill="#26A69A"/><rect x="676" y="126" width="3" height="12" fill="#26A69A"/><rect x="682" y="124" width="1" height="12" fill="#EF5350"/><rect x="681" y="126" width="3" height="8" fill="#EF5350"/><rect x="687" y="133" width="1" height="6" fill="#EF5350"/><rect x="686" y="133" width="3" height="6" fill="#EF5350"/><rect x="693" y="137" width="1" height="14" fill="#EF5350"/><rect x="692" y="138" width="3" height="12" fill="#EF5350"/><rect x="698" y="144" width="1" height="7" fill="#26A69A"/><rect x="697" y="146" width="3" height="4" fill="#26A69A"/><rect x="704" y="142" width="1" height="6" fill="#26A69A"/><rect x="703" y="144" width="3" height="3" fill="#26A69A"/><rect x="709" y="139" width="1" height="7" fill="#26A69A"/><rect x="708" y="143" width="3" height="3" fill="#26A69A"/><rect x="715" y="137" width="1" height="7" fill="#26A69A"/><rect x="714" y="139" width="3" height="5" fill="#26A69A"/><rect x="720" y="124" width="1" height="16" fill="#26A69A"/><rect x="719" y="128" width="3" height="12" fill="#26A69A"/><rect x="725" y="125" width="1" height="5" fill="#26A69A"/><rect x="724" y="126" width="3" height="3" fill="#26A69A"/><rect x="731" y="124" width="1" height="6" fill="#EF5350"/><rect x="730" y="126" width="3" height="4" fill="#EF5350"/><rect x="736" y="126" width="1" height="6" fill="#EF5350"/><rect x="735" y="129" width="3" height="3" fill="#EF5350"/><rect x="742" y="127" width="1" height="10" fill="#EF5350"/><rect x="741" y="132" width="3" height="5" fill="#EF5350"/><rect x="747" y="134" width="1" height="6" fill="#26A69A"/><rect x="746" y="135" width="3" height="2" fill="#26A69A"/><rect x="752" y="129" width="1" height="21" fill="#EF5350"/><rect x="751" y="135" width="3" height="14" fill="#EF5350"/><rect x="758" y="144" width="1" height="9" fill="#EF5350"/><rect x="757" y="148" width="3" height="5" fill="#EF5350"/><rect x="763" y="147" width="1" height="9" fill="#EF5350"/><rect x="762" y="152" width="3" height="4" fill="#EF5350"/><rect x="769" y="150" width="1" height="10" fill="#EF5350"/><rect x="768" y="155" width="3" height="4" fill="#EF5350"/><rect x="774" y="156" width="1" height="5" fill="#26A69A"/><rect x="773" y="157" width="3" height="2" fill="#26A69A"/><rect x="780" y="151" width="1" height="6" fill="#26A69A"/><rect x="779" y="154" width="3" height="3" fill="#26A69A"/><rect x="785" y="150" width="1" height="9" fill="#EF5350"/><rect x="784" y="154" width="3" height="3" fill="#EF5350"/><rect x="790" y="139" width="1" height="17" fill="#26A69A"/><rect x="789" y="145" width="3" height="11" fill="#26A69A"/><rect x="796" y="144" width="1" height="3" fill="#EF5350"/><rect x="795" y="144" width="3" height="2" fill="#EF5350"/><rect x="801" y="146" width="1" height="12" fill="#EF5350"/><rect x="800" y="146" width="3" height="9" fill="#EF5350"/><rect x="807" y="152" width="1" height="7" fill="#EF5350"/><rect x="806" y="154" width="3" height="5" fill="#EF5350"/><rect x="812" y="157" width="1" height="7" fill="#EF5350"/><rect x="811" y="158" width="3" height="1" fill="#EF5350"/><rect x="817" y="154" width="1" height="12" fill="#EF5350"/><rect x="816" y="159" width="3" height="5" fill="#EF5350"/><rect x="823" y="160" width="1" height="8" fill="#26A69A"/><rect x="822" y="160" width="3" height="4" fill="#26A69A"/><rect x="828" y="155" width="1" height="6" fill="#26A69A"/><rect x="827" y="157" width="3" height="4" fill="#26A69A"/><rect x="834" y="154" width="1" height="6" fill="#26A69A"/><rect x="833" y="156" width="3" height="2" fill="#26A69A"/><rect x="839" y="154" width="1" height="7" fill="#EF5350"/><rect x="838" y="156" width="3" height="5" fill="#EF5350"/><rect x="845" y="155" width="1" height="6" fill="#26A69A"/><rect x="844" y="156" width="3" height="5" fill="#26A69A"/><rect x="850" y="153" width="1" height="24" fill="#EF5350"/><rect x="849" y="156" width="3" height="19" fill="#EF5350"/><rect x="855" y="170" width="1" height="17" fill="#EF5350"/><rect x="854" y="174" width="3" height="10" fill="#EF5350"/><rect x="861" y="173" width="1" height="101" fill="#EF5350"/><rect x="860" y="183" width="3" height="66" fill="#EF5350"/><rect x="866" y="236" width="1" height="30" fill="#EF5350"/><rect x="865" y="248" width="3" height="7" fill="#EF5350"/><rect x="872" y="246" width="1" height="12" fill="#26A69A"/><rect x="871" y="251" width="3" height="4" fill="#26A69A"/><rect x="877" y="232" width="1" height="21" fill="#26A69A"/><rect x="876" y="242" width="3" height="10" fill="#26A69A"/><rect x="882" y="242" width="1" height="16" fill="#EF5350"/><rect x="881" y="242" width="3" height="8" fill="#EF5350"/><rect x="888" y="247" width="1" height="23" fill="#EF5350"/><rect x="887" y="250" width="3" height="16" fill="#EF5350"/><rect x="893" y="262" width="1" height="18" fill="#26A69A"/><rect x="892" y="265" width="3" height="1" fill="#26A69A"/><rect x="899" y="261" width="1" height="13" fill="#26A69A"/><rect x="898" y="263" width="3" height="3" fill="#26A69A"/><rect x="904" y="252" width="1" height="12" fill="#26A69A"/><rect x="903" y="255" width="3" height="9" fill="#26A69A"/><rect x="910" y="252" width="1" height="8" fill="#EF5350"/><rect x="909" y="255" width="3" height="3" fill="#EF5350"/><rect x="915" y="231" width="1" height="30" fill="#26A69A"/><rect x="914" y="233" width="3" height="25" fill="#26A69A"/><rect x="920" y="222" width="1" height="12" fill="#26A69A"/><rect x="919" y="222" width="3" height="12" fill="#26A69A"/><rect x="926" y="216" width="1" height="13" fill="#26A69A"/><rect x="925" y="221" width="3" height="1" fill="#26A69A"/><rect x="931" y="212" width="1" height="12" fill="#26A69A"/><rect x="930" y="219" width="3" height="3" fill="#26A69A"/><rect x="937" y="206" width="1" height="17" fill="#26A69A"/><rect x="936" y="211" width="3" height="9" fill="#26A69A"/><rect x="942" y="204" width="1" height="22" fill="#EF5350"/><rect x="941" y="211" width="3" height="7" fill="#EF5350"/><rect x="947" y="205" width="1" height="15" fill="#26A69A"/><rect x="946" y="212" width="3" height="6" fill="#26A69A"/><rect x="953" y="205" width="1" height="11" fill="#26A69A"/><rect x="952" y="207" width="3" height="6" fill="#26A69A"/><rect x="958" y="200" width="1" height="8" fill="#26A69A"/><rect x="957" y="204" width="3" height="4" fill="#26A69A"/><rect x="964" y="202" width="1" height="13" fill="#EF5350"/><rect x="963" y="204" width="3" height="9" fill="#EF5350"/><rect x="969" y="210" width="1" height="30" fill="#EF5350"/><rect x="968" y="212" width="3" height="25" fill="#EF5350"/><rect x="975" y="229" width="1" height="16" fill="#EF5350"/><rect x="974" y="235" width="3" height="1" fill="#EF5350"/></g>
<line x1="11" y1="236.5" x2="1152" y2="236.5" stroke="#EF5350" stroke-width="1" stroke-dasharray="1 2"/>
<g clip-path="url(#qqe)" shape-rendering="crispEdges"><rect x="8" y="432" width="4" height="16" fill="#FF0062"/><rect x="13" y="432" width="5" height="19" fill="#FF0062"/><rect x="19" y="432" width="4" height="18" fill="#FF0062"/><rect x="24" y="432" width="5" height="20" fill="#FF0062"/><rect x="30" y="432" width="4" height="26" fill="#FF0062"/><rect x="35" y="432" width="4" height="30" fill="#FF0062"/><rect x="40" y="432" width="5" height="32" fill="#FF0062"/><rect x="46" y="432" width="4" height="31" fill="#FF0062"/><rect x="51" y="432" width="5" height="31" fill="#FF0062"/><rect x="57" y="432" width="4" height="27" fill="#FF0062"/><rect x="62" y="432" width="4" height="21" fill="#FF0062"/><rect x="67" y="432" width="5" height="16" fill="#FF0062"/><rect x="73" y="432" width="4" height="9" fill="#FF0062"/><rect x="100" y="432" width="4" height="5" fill="#FF0062"/><rect x="111" y="420" width="4" height="13" fill="#00C3FF"/><rect x="116" y="412" width="5" height="21" fill="#00C3FF"/><rect x="122" y="412" width="4" height="21" fill="#00C3FF"/><rect x="127" y="411" width="4" height="22" fill="#00C3FF"/><rect x="132" y="407" width="5" height="26" fill="#00C3FF"/><rect x="138" y="404" width="4" height="29" fill="#00C3FF"/><rect x="143" y="406" width="5" height="27" fill="#00C3FF"/><rect x="149" y="410" width="4" height="23" fill="#00C3FF"/><rect x="154" y="420" width="5" height="13" fill="#00C3FF"/><rect x="170" y="432" width="5" height="8" fill="#FF0062"/><rect x="176" y="432" width="4" height="13" fill="#FF0062"/><rect x="181" y="432" width="5" height="13" fill="#FF0062"/><rect x="187" y="432" width="4" height="6" fill="#FF0062"/><rect x="192" y="432" width="4" height="7" fill="#FF0062"/><rect x="197" y="432" width="5" height="5" fill="#FF0062"/><rect x="203" y="432" width="4" height="7" fill="#FF0062"/><rect x="208" y="432" width="5" height="8" fill="#FF0062"/><rect x="214" y="432" width="4" height="5" fill="#FF0062"/><rect x="225" y="432" width="4" height="9" fill="#FF0062"/><rect x="230" y="432" width="4" height="11" fill="#FF0062"/><rect x="235" y="432" width="5" height="10" fill="#FF0062"/><rect x="241" y="432" width="4" height="12" fill="#FF0062"/><rect x="246" y="432" width="5" height="20" fill="#FF0062"/><rect x="252" y="432" width="4" height="30" fill="#FF0062"/><rect x="257" y="432" width="4" height="33" fill="#FF0062"/><rect x="262" y="432" width="5" height="36" fill="#FF0062"/><rect x="268" y="432" width="4" height="38" fill="#FF0062"/><rect x="273" y="432" width="5" height="34" fill="#FF0062"/><rect x="279" y="432" width="4" height="32" fill="#FF0062"/><rect x="284" y="432" width="5" height="29" fill="#FF0062"/><rect x="290" y="432" width="4" height="28" fill="#FF0062"/><rect x="295" y="432" width="4" height="28" fill="#FF0062"/><rect x="300" y="432" width="5" height="31" fill="#FF0062"/><rect x="306" y="432" width="4" height="34" fill="#FF0062"/><rect x="311" y="432" width="5" height="36" fill="#FF0062"/><rect x="317" y="432" width="4" height="28" fill="#FF0062"/><rect x="322" y="432" width="4" height="19" fill="#FF0062"/><rect x="327" y="432" width="5" height="13" fill="#8A8A8A"/><rect x="333" y="432" width="4" height="8" fill="#8A8A8A"/><rect x="338" y="432" width="5" height="10" fill="#8A8A8A"/><rect x="344" y="432" width="4" height="16" fill="#FF0062"/><rect x="349" y="432" width="5" height="22" fill="#FF0062"/><rect x="355" y="432" width="4" height="28" fill="#FF0062"/><rect x="360" y="432" width="4" height="25" fill="#FF0062"/><rect x="365" y="432" width="5" height="28" fill="#FF0062"/><rect x="371" y="432" width="4" height="31" fill="#FF0062"/><rect x="376" y="432" width="5" height="26" fill="#FF0062"/><rect x="382" y="432" width="4" height="23" fill="#FF0062"/><rect x="387" y="432" width="4" height="24" fill="#FF0062"/><rect x="392" y="432" width="5" height="20" fill="#FF0062"/><rect x="398" y="432" width="4" height="11" fill="#8A8A8A"/><rect x="403" y="432" width="5" height="5" fill="#8A8A8A"/><rect x="436" y="432" width="4" height="5" fill="#8A8A8A"/><rect x="441" y="432" width="5" height="10" fill="#8A8A8A"/><rect x="447" y="432" width="4" height="14" fill="#8A8A8A"/><rect x="452" y="432" width="4" height="19" fill="#8A8A8A"/><rect x="457" y="432" width="5" height="11" fill="#8A8A8A"/><rect x="468" y="422" width="5" height="11" fill="#00C3FF"/><rect x="474" y="417" width="4" height="16" fill="#00C3FF"/><rect x="479" y="418" width="5" height="15" fill="#00C3FF"/><rect x="485" y="420" width="4" height="13" fill="#00C3FF"/><rect x="490" y="419" width="4" height="14" fill="#00C3FF"/><rect x="495" y="417" width="5" height="16" fill="#00C3FF"/><rect x="501" y="415" width="4" height="18" fill="#00C3FF"/><rect x="506" y="420" width="5" height="13" fill="#00C3FF"/><rect x="512" y="426" width="4" height="7" fill="#00C3FF"/><rect x="522" y="432" width="5" height="8" fill="#8A8A8A"/><rect x="533" y="428" width="5" height="5" fill="#00C3FF"/><rect x="544" y="426" width="5" height="7" fill="#00C3FF"/><rect x="550" y="417" width="4" height="16" fill="#00C3FF"/><rect x="555" y="410" width="4" height="23" fill="#00C3FF"/><rect x="560" y="405" width="5" height="28" fill="#00C3FF"/><rect x="566" y="401" width="4" height="32" fill="#00C3FF"/><rect x="571" y="398" width="5" height="35" fill="#00C3FF"/><rect x="577" y="396" width="4" height="37" fill="#00C3FF"/><rect x="582" y="399" width="4" height="34" fill="#00C3FF"/><rect x="587" y="399" width="5" height="34" fill="#00C3FF"/><rect x="593" y="396" width="4" height="37" fill="#00C3FF"/><rect x="598" y="396" width="5" height="37" fill="#00C3FF"/><rect x="604" y="403" width="4" height="30" fill="#00C3FF"/><rect x="609" y="410" width="5" height="23" fill="#00C3FF"/><rect x="615" y="416" width="4" height="17" fill="#00C3FF"/><rect x="620" y="413" width="4" height="20" fill="#00C3FF"/><rect x="625" y="413" width="5" height="20" fill="#00C3FF"/><rect x="631" y="416" width="4" height="17" fill="#00C3FF"/><rect x="636" y="423" width="5" height="10" fill="#8A8A8A"/><rect x="647" y="432" width="4" height="6" fill="#FF0062"/><rect x="652" y="432" width="5" height="13" fill="#FF0062"/><rect x="658" y="432" width="4" height="16" fill="#FF0062"/><rect x="663" y="432" width="5" height="17" fill="#FF0062"/><rect x="669" y="432" width="4" height="8" fill="#FF0062"/><rect x="674" y="427" width="5" height="6" fill="#8A8A8A"/><rect x="680" y="426" width="4" height="7" fill="#8A8A8A"/><rect x="690" y="432" width="5" height="5" fill="#FF0062"/><rect x="696" y="432" width="4" height="8" fill="#FF0062"/><rect x="701" y="432" width="5" height="8" fill="#FF0062"/><rect x="707" y="432" width="4" height="7" fill="#FF0062"/><rect x="718" y="426" width="4" height="7" fill="#8A8A8A"/><rect x="723" y="419" width="4" height="14" fill="#00C3FF"/><rect x="728" y="418" width="5" height="15" fill="#00C3FF"/><rect x="734" y="419" width="4" height="14" fill="#00C3FF"/><rect x="739" y="424" width="5" height="9" fill="#8A8A8A"/><rect x="745" y="427" width="4" height="6" fill="#8A8A8A"/><rect x="750" y="432" width="4" height="5" fill="#FF0062"/><rect x="755" y="432" width="5" height="13" fill="#FF0062"/><rect x="761" y="432" width="4" height="20" fill="#FF0062"/><rect x="766" y="432" width="5" height="25" fill="#FF0062"/><rect x="772" y="432" width="4" height="26" fill="#FF0062"/><rect x="777" y="432" width="5" height="24" fill="#FF0062"/><rect x="783" y="432" width="4" height="24" fill="#FF0062"/><rect x="788" y="432" width="4" height="13" fill="#FF0062"/><rect x="793" y="432" width="5" height="6" fill="#FF0062"/><rect x="799" y="432" width="4" height="9" fill="#FF0062"/><rect x="804" y="432" width="5" height="13" fill="#FF0062"/><rect x="810" y="432" width="4" height="15" fill="#FF0062"/><rect x="815" y="432" width="4" height="20" fill="#FF0062"/><rect x="820" y="432" width="5" height="19" fill="#FF0062"/><rect x="826" y="432" width="4" height="15" fill="#FF0062"/><rect x="831" y="432" width="5" height="13" fill="#FF0062"/><rect x="837" y="432" width="4" height="13" fill="#FF0062"/><rect x="842" y="432" width="5" height="9" fill="#FF0062"/><rect x="848" y="432" width="4" height="17" fill="#FF0062"/><rect x="853" y="432" width="4" height="24" fill="#FF0062"/><rect x="858" y="432" width="5" height="34" fill="#FF0062"/><rect x="864" y="432" width="4" height="40" fill="#FF0062"/><rect x="869" y="432" width="5" height="43" fill="#FF0062"/><rect x="875" y="432" width="4" height="41" fill="#FF0062"/><rect x="880" y="432" width="4" height="41" fill="#FF0062"/><rect x="885" y="432" width="5" height="42" fill="#FF0062"/><rect x="891" y="432" width="4" height="42" fill="#FF0062"/><rect x="896" y="432" width="5" height="42" fill="#FF0062"/><rect x="902" y="432" width="4" height="36" fill="#FF0062"/><rect x="907" y="432" width="5" height="33" fill="#FF0062"/><rect x="913" y="432" width="4" height="20" fill="#FF0062"/><rect x="918" y="432" width="4" height="8" fill="#8A8A8A"/><rect x="929" y="425" width="4" height="8" fill="#00C3FF"/><rect x="934" y="419" width="5" height="14" fill="#00C3FF"/><rect x="940" y="418" width="4" height="15" fill="#00C3FF"/><rect x="945" y="416" width="4" height="17" fill="#00C3FF"/><rect x="950" y="413" width="5" height="20" fill="#00C3FF"/><rect x="956" y="410" width="4" height="23" fill="#00C3FF"/><rect x="961" y="414" width="5" height="19" fill="#00C3FF"/><rect x="967" y="427" width="4" height="6" fill="#00C3FF"/><line x1="10" y1="432.5" x2="1203" y2="432.5" stroke="#fff" stroke-width="1" stroke-dasharray="1 2"/></g>
<text x="18.4" y="45.8" font-size="11.85" fill="#131722" color="#131722" textLength="242.9" lengthAdjust="spacingAndGlyphs">ADAUSD · Cardano / US Dollar · 4h · Coinbase</text><text x="270.5" y="45.8" font-size="11.85" fill="#131722" color="#131722">O</text><text x="278.8" y="45.8" font-size="11.85" fill="#F23645" color="#F23645" textLength="34.2" lengthAdjust="spacingAndGlyphs">0.6781</text><text x="321.0" y="45.8" font-size="11.85" fill="#131722" color="#131722">H</text><text x="329.5" y="45.8" font-size="11.85" fill="#F23645" color="#F23645" textLength="35" lengthAdjust="spacingAndGlyphs">0.6872</text><text x="372.3" y="45.8" font-size="11.85" fill="#131722" color="#131722">L</text><text x="378.8" y="45.8" font-size="11.85" fill="#F23645" color="#F23645" textLength="34.2" lengthAdjust="spacingAndGlyphs">0.6631</text><text x="421.6" y="45.8" font-size="11.85" fill="#131722" color="#131722">C</text><text x="429.3" y="45.8" font-size="11.85" fill="#F23645" color="#F23645" textLength="35" lengthAdjust="spacingAndGlyphs">0.6764</text><text x="472.5" y="45.8" font-size="11.85" fill="#F23645" color="#F23645" textLength="90" lengthAdjust="spacingAndGlyphs">−0.0015 (−0.22%)</text><text x="18.4" y="62.8" font-size="11.85" fill="#131722" color="#131722" textLength="277.2" lengthAdjust="spacingAndGlyphs">Hull Suite by InSilico (close, Hma, 55, 1, 240, 1, 40)</text><text x="304.5" y="62.8" font-size="11.85" fill="#00D000" color="#00D000" textLength="35" lengthAdjust="spacingAndGlyphs">0.6499</text><text x="347.5" y="62.8" font-size="11.85" fill="#00D000" color="#00D000" textLength="35.5" lengthAdjust="spacingAndGlyphs">0.6475</text><rect x="1207.3" y="30.9" width="59.5" height="25.6" rx="4" fill="#fff" stroke="#E0E3EB" stroke-width="1"/><text x="1216.4" y="47.9" font-size="11.85" fill="#131722" color="#131722" textLength="20.2" lengthAdjust="spacingAndGlyphs">USD</text><text x="1211.7" y="75.3" font-size="11.5" fill="#131722" color="#131722" textLength="35.8" lengthAdjust="spacingAndGlyphs">1.0000</text><text x="1211.7" y="169.7" font-size="11.5" fill="#131722" color="#131722" textLength="35.8" lengthAdjust="spacingAndGlyphs">0.8000</text><text x="1211.7" y="368.8" font-size="11.5" fill="#131722" color="#131722" textLength="35.8" lengthAdjust="spacingAndGlyphs">0.5000</text><rect x="1204" y="67" width="49" height="16.599999999999994" rx="2.5" fill="#2962FF"/><rect x="1204" y="67" width="24.5" height="16.599999999999994" fill="#2962FF"/><text x="1211.7" y="79.6" font-size="11.5" fill="#fff" color="#fff" textLength="35.8" lengthAdjust="spacingAndGlyphs">0.9899</text><rect x="1204" y="107" width="49" height="16.599999999999994" rx="2.5" fill="#2962FF"/><rect x="1204" y="107" width="24.5" height="16.599999999999994" fill="#2962FF"/><text x="1211.7" y="119.6" font-size="11.5" fill="#fff" color="#fff" textLength="35.8" lengthAdjust="spacingAndGlyphs">0.9012</text><rect x="1204" y="150.2" width="49" height="16.5" rx="2.5" fill="#2962FF"/><rect x="1204" y="150.2" width="24.5" height="16.5" fill="#2962FF"/><text x="1211.7" y="162.8" font-size="11.5" fill="#fff" color="#fff" textLength="35.8" lengthAdjust="spacingAndGlyphs">0.8137</text><rect x="1204" y="176.3" width="49" height="16.5" rx="2.5" fill="#2962FF"/><rect x="1204" y="176.3" width="24.5" height="16.5" fill="#2962FF"/><text x="1211.7" y="188.9" font-size="11.5" fill="#fff" color="#fff" textLength="35.8" lengthAdjust="spacingAndGlyphs">0.7648</text><rect x="1204" y="211.2" width="49" height="17.0" rx="2.5" fill="#2962FF"/><rect x="1204" y="211.2" width="24.5" height="17.0" fill="#2962FF"/><text x="1211.7" y="224.0" font-size="11.5" fill="#fff" color="#fff" textLength="35.8" lengthAdjust="spacingAndGlyphs">0.6934</text><rect x="1204" y="228.2" width="49" height="30.600000000000023" rx="2.5" fill="#EF5350"/><rect x="1204" y="228.2" width="24.5" height="30.600000000000023" fill="#EF5350"/><text x="1211.7" y="240.7" font-size="11.5" fill="#fff" color="#fff" textLength="35.8" lengthAdjust="spacingAndGlyphs">0.6764</text><text x="1211.7" y="254.4" font-size="11.5" fill="rgba(255,255,255,0.82)" color="rgba(255,255,255,0.82)" textLength="28.5" lengthAdjust="spacingAndGlyphs">42:08</text><rect x="1204" y="258.8" width="49" height="17.099999999999966" rx="2.5" fill="#00FF00"/><rect x="1204" y="258.8" width="24.5" height="17.099999999999966" fill="#00FF00"/><text x="1211.7" y="271.7" font-size="11.5" fill="#000" color="#000" textLength="35.8" lengthAdjust="spacingAndGlyphs">0.6499</text><rect x="1204" y="275.9" width="49" height="16.900000000000034" rx="2.5" fill="#00FF00"/><rect x="1204" y="275.9" width="24.5" height="16.900000000000034" fill="#00FF00"/><text x="1211.7" y="288.7" font-size="11.5" fill="#000" color="#000" textLength="35.8" lengthAdjust="spacingAndGlyphs">0.6475</text><rect x="1204" y="292.8" width="49" height="17.599999999999966" rx="2.5" fill="#F23645"/><rect x="1204" y="292.8" width="24.5" height="17.599999999999966" fill="#F23645"/><text x="1211.7" y="305.9" font-size="11.5" fill="#fff" color="#fff" textLength="35.8" lengthAdjust="spacingAndGlyphs">0.6463</text><rect x="1204" y="310.4" width="49" height="16.600000000000023" rx="2.5" fill="#F23645"/><rect x="1204" y="310.4" width="24.5" height="16.600000000000023" fill="#F23645"/><text x="1211.7" y="323.0" font-size="11.5" fill="#fff" color="#fff" textLength="35.8" lengthAdjust="spacingAndGlyphs">0.5939</text><rect x="1204" y="327.0" width="49" height="17.0" rx="2.5" fill="#2962FF"/><rect x="1204" y="327.0" width="24.5" height="17.0" fill="#2962FF"/><text x="1211.7" y="339.8" font-size="11.5" fill="#fff" color="#fff" textLength="35.8" lengthAdjust="spacingAndGlyphs">0.5477</text><rect x="1204" y="348.3" width="49" height="16.19999999999999" rx="2.5" fill="#F23645"/><rect x="1204" y="348.3" width="24.5" height="16.19999999999999" fill="#F23645"/><text x="1211.7" y="360.7" font-size="11.5" fill="#fff" color="#fff" textLength="35.8" lengthAdjust="spacingAndGlyphs">0.5095</text><rect x="1204" y="369.5" width="49" height="15.5" rx="2.5" fill="#F23645"/><rect x="1204" y="369.5" width="24.5" height="15.5" fill="#F23645"/><text x="1211.7" y="381.6" font-size="11.5" fill="#fff" color="#fff" textLength="35.8" lengthAdjust="spacingAndGlyphs">0.4845</text><rect x="1152.2" y="228.2" width="50.799999999999955" height="16.5" rx="2.5" fill="#EF5350"/><rect x="1177.6" y="228.2" width="25.399999999999977" height="16.5" fill="#EF5350"/><text x="1156.6" y="240.7" font-size="11.5" fill="#fff" color="#fff" textLength="42.2" lengthAdjust="spacingAndGlyphs">ADAUSD</text><text x="934.3" y="107.8" font-size="15.6" fill="#F23645" color="#F23645" textLength="117.1" lengthAdjust="spacingAndGlyphs">Resistance Level</text><text x="940.1" y="280.8" font-size="15.6" fill="#F23645" color="#F23645" textLength="97.6" lengthAdjust="spacingAndGlyphs">Support Level</text><text x="18.4" y="404.8" font-size="11.85" fill="#131722" color="#131722" textLength="307.8" lengthAdjust="spacingAndGlyphs">QQE MOD (6, 5, 3, 3, close, 6, 5, 1.61, 3, close, 50, 0.35)</text><text x="377.0" y="404.8" font-size="11.85" fill="#2962FF" color="#2962FF" textLength="42.3" lengthAdjust="spacingAndGlyphs">−2.8114</text><text x="427.2" y="404.8" font-size="11.85" fill="#131722" color="#131722" textLength="10" lengthAdjust="spacingAndGlyphs">∅</text><text x="446.3" y="404.8" font-size="11.85" fill="#131722" color="#131722" textLength="9.5" lengthAdjust="spacingAndGlyphs">∅</text><text x="1212.4" y="406.9" font-size="11.5" fill="#131722" color="#131722" textLength="41.4" lengthAdjust="spacingAndGlyphs">25.0000</text><text x="1212.4" y="430.8" font-size="11.5" fill="#131722" color="#131722" textLength="34.6" lengthAdjust="spacingAndGlyphs">5.4003</text><rect x="1204" y="435.4" width="48.700000000000045" height="16.0" rx="2.5" fill="#00C3FF"/><rect x="1204" y="435.4" width="24.350000000000023" height="16.0" fill="#00C3FF"/><text x="1212.4" y="447.4" font-size="11.5" fill="#000" color="#000" textLength="34.6" lengthAdjust="spacingAndGlyphs">4.3893</text><rect x="1204" y="451.4" width="56" height="17.600000000000023" rx="2.5" fill="#2962FF"/><rect x="1204" y="451.4" width="28.0" height="17.600000000000023" fill="#2962FF"/><text x="1212.4" y="464.9" font-size="11.5" fill="#fff" color="#fff" textLength="41.4" lengthAdjust="spacingAndGlyphs">−2.8114</text><rect x="1204" y="469.0" width="62" height="18.0" rx="2.5" fill="#FF0062"/><rect x="1204" y="469.0" width="31.0" height="18.0" fill="#FF0062"/><text x="1212.4" y="481.3" font-size="11.5" fill="#fff" color="#fff" textLength="47.6" lengthAdjust="spacingAndGlyphs">−16.3223</text><rect x="1204" y="484" width="66" height="26" fill="#fff"/><rect x="1203" y="483" width="67" height="1" fill="#E0E3EB"/><text x="21.5" y="501.1" font-size="12.3" fill="#131722" color="#131722" textLength="12.6" lengthAdjust="spacingAndGlyphs" text-anchor="middle">15</text><text x="86.5" y="501.1" font-size="12.3" fill="#131722" color="#131722" textLength="12.6" lengthAdjust="spacingAndGlyphs" text-anchor="middle">17</text><text x="151.5" y="501.1" font-size="12.3" fill="#131722" color="#131722" textLength="12.6" lengthAdjust="spacingAndGlyphs" text-anchor="middle">19</text><text x="216.5" y="501.1" font-size="12.3" fill="#131722" color="#131722" textLength="12.6" lengthAdjust="spacingAndGlyphs" text-anchor="middle">21</text><text x="281.5" y="501.1" font-size="12.3" fill="#131722" color="#131722" textLength="12.6" lengthAdjust="spacingAndGlyphs" text-anchor="middle">23</text><text x="346.5" y="501.1" font-size="12.3" fill="#131722" color="#131722" textLength="12.6" lengthAdjust="spacingAndGlyphs" text-anchor="middle">25</text><text x="411.5" y="501.1" font-size="12.3" fill="#131722" color="#131722" textLength="12.6" lengthAdjust="spacingAndGlyphs" text-anchor="middle">27</text><text x="476.5" y="501.1" font-size="12.3" fill="#131722" color="#131722" textLength="12.6" lengthAdjust="spacingAndGlyphs" text-anchor="middle">29</text><text x="541.5" y="501.1" font-size="12.3" fill="#131722" color="#131722" textLength="19.3" lengthAdjust="spacingAndGlyphs" text-anchor="middle" style="stroke-width:0.7px">Oct</text><text x="606.5" y="501.1" font-size="12.3" fill="#131722" color="#131722" textLength="6.3" lengthAdjust="spacingAndGlyphs" text-anchor="middle">3</text><text x="671.5" y="501.1" font-size="12.3" fill="#131722" color="#131722" textLength="6.3" lengthAdjust="spacingAndGlyphs" text-anchor="middle">5</text><text x="736.5" y="501.1" font-size="12.3" fill="#131722" color="#131722" textLength="6.3" lengthAdjust="spacingAndGlyphs" text-anchor="middle">7</text><text x="801.5" y="501.1" font-size="12.3" fill="#131722" color="#131722" textLength="6.3" lengthAdjust="spacingAndGlyphs" text-anchor="middle">9</text><text x="866.5" y="501.1" font-size="12.3" fill="#131722" color="#131722" textLength="12.6" lengthAdjust="spacingAndGlyphs" text-anchor="middle">11</text><text x="931.5" y="501.1" font-size="12.3" fill="#131722" color="#131722" textLength="12.6" lengthAdjust="spacingAndGlyphs" text-anchor="middle">13</text><text x="996.5" y="501.1" font-size="12.3" fill="#131722" color="#131722" textLength="12.6" lengthAdjust="spacingAndGlyphs" text-anchor="middle">15</text><text x="1061.5" y="501.1" font-size="12.3" fill="#131722" color="#131722" textLength="12.6" lengthAdjust="spacingAndGlyphs" text-anchor="middle">17</text><text x="1126.5" y="501.1" font-size="12.3" fill="#131722" color="#131722" textLength="12.6" lengthAdjust="spacingAndGlyphs" text-anchor="middle">19</text><text x="1191.5" y="501.1" font-size="12.3" fill="#131722" color="#131722" textLength="12.6" lengthAdjust="spacingAndGlyphs" text-anchor="middle">21</text><rect x="960" y="362" width="27" height="22" fill="#fff" opacity="0"/><circle cx="975.5" cy="372.4" r="9.1" fill="none" stroke="#9C27B0" stroke-width="1.8"/><polyline points="978.6,367 971.3,372.6 979.8,372.6 972.3,377.9" fill="none" stroke="#9C27B0" stroke-width="1.6" stroke-linejoin="miter"/><path d="M965,370.6 Q965.6,375.5 970.4,376.1 Q965.6,376.7 965,381.4 Q964.4,376.7 959.6,376.1 Q964.4,375.5 965,370.6 Z" fill="#5B5BEA" stroke="#fff" stroke-width="1.2" paint-order="stroke"/><g fill="#131722"><polygon points="12.1,533.1 23.9,533.1 23.9,547.7 18.1,547.7 18.1,538.8 12.1,538.8"/><circle cx="29" cy="536" r="2.85"/><polygon points="35.3,533.1 41.8,533.1 35.9,547.7 29.2,547.7"/></g><text x="49.3" y="547.8" font-size="20.7" fill="#131722" color="#131722" textLength="120.4" lengthAdjust="spacingAndGlyphs" font-weight="bold" style="font-family:'Liberation Sans',sans-serif">TradingView</text>
</svg></body></html>
